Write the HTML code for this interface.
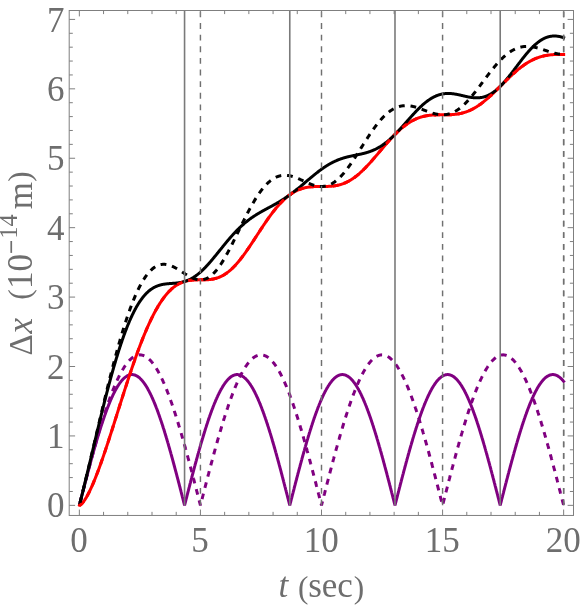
<!DOCTYPE html>
<html><head><meta charset="utf-8"><title>plot</title>
<style>
html,body{margin:0;padding:0;background:#fff;}
body{width:581px;height:606px;overflow:hidden;}
svg{display:block;will-change:transform;}
text{font-family:"Liberation Serif",serif;font-size:35px;fill:#6e6e6e;}
.c{fill:none;stroke-width:3;stroke-linejoin:round;stroke-linecap:butt;}
.d{stroke-dasharray:5.81 5.81;}
.s{stroke-linecap:butt;}
</style></head><body>
<svg width="581" height="606" viewBox="0 0 581 606">
<rect width="581" height="606" fill="#fff"/>
<defs><clipPath id="cp"><rect x="69.2" y="10.5" width="504.3" height="504.95000000000005"/></clipPath></defs>
<g clip-path="url(#cp)">
<path class="c s" stroke="#800080" style="stroke-linejoin:bevel" d="M79.35,505.35 L79.65,504.17 L79.96,502.99 L80.26,501.80 L80.56,500.62 L80.86,499.44 L81.17,498.26 L81.47,497.08 L81.77,495.90 L82.07,494.72 L82.38,493.55 L82.68,492.37 L82.98,491.20 L83.28,490.02 L83.59,488.85 L83.89,487.68 L84.19,486.51 L84.50,485.34 L84.80,484.17 L85.10,483.00 L85.40,481.84 L85.71,480.68 L86.01,479.52 L86.31,478.36 L86.61,477.21 L86.92,476.05 L87.22,474.90 L87.52,473.76 L87.83,472.61 L88.13,471.47 L88.43,470.33 L88.73,469.19 L89.04,468.06 L89.34,466.92 L89.64,465.80 L89.94,464.67 L90.25,463.55 L90.55,462.43 L90.85,461.32 L91.15,460.21 L91.46,459.10 L91.76,457.99 L92.06,456.89 L92.37,455.80 L92.67,454.71 L92.97,453.62 L93.27,452.54 L93.58,451.46 L93.88,450.38 L94.18,449.31 L94.48,448.25 L94.79,447.19 L95.09,446.13 L95.39,445.08 L95.70,444.03 L96.00,442.99 L96.30,441.95 L96.60,440.92 L96.91,439.90 L97.21,438.88 L97.51,437.86 L97.81,436.85 L98.12,435.85 L98.42,434.85 L98.72,433.86 L99.02,432.87 L99.33,431.89 L99.63,430.92 L99.93,429.95 L100.24,428.98 L100.54,428.03 L100.84,427.08 L101.14,426.13 L101.45,425.20 L101.75,424.27 L102.05,423.34 L102.35,422.43 L102.66,421.52 L102.96,420.61 L103.26,419.72 L103.56,418.83 L103.87,417.94 L104.17,417.07 L104.47,416.20 L104.78,415.34 L105.08,414.48 L105.38,413.64 L105.68,412.80 L105.99,411.97 L106.29,411.14 L106.59,410.33 L106.89,409.52 L107.20,408.72 L107.50,407.93 L107.80,407.14 L108.11,406.37 L108.41,405.60 L108.71,404.84 L109.01,404.09 L109.32,403.34 L109.62,402.61 L109.92,401.88 L110.22,401.16 L110.53,400.45 L110.83,399.75 L111.13,399.06 L111.43,398.37 L111.74,397.70 L112.04,397.03 L112.34,396.37 L112.65,395.73 L112.95,395.09 L113.25,394.46 L113.55,393.83 L113.86,393.22 L114.16,392.62 L114.46,392.02 L114.76,391.44 L115.07,390.86 L115.37,390.30 L115.67,389.74 L115.98,389.19 L116.28,388.65 L116.58,388.12 L116.88,387.61 L117.19,387.10 L117.49,386.60 L117.79,386.11 L118.09,385.63 L118.40,385.16 L118.70,384.69 L119.00,384.24 L119.30,383.80 L119.61,383.37 L119.91,382.95 L120.21,382.54 L120.52,382.14 L120.82,381.75 L121.12,381.37 L121.42,381.00 L121.73,380.64 L122.03,380.29 L122.33,379.95 L122.63,379.62 L122.94,379.30 L123.24,378.99 L123.54,378.69 L123.85,378.40 L124.15,378.12 L124.45,377.85 L124.75,377.60 L125.06,377.35 L125.36,377.11 L125.66,376.89 L125.96,376.67 L126.27,376.47 L126.57,376.27 L126.87,376.09 L127.17,375.91 L127.48,375.75 L127.78,375.60 L128.08,375.46 L128.39,375.32 L128.69,375.20 L128.99,375.09 L129.29,375.00 L129.60,374.91 L129.90,374.83 L130.20,374.76 L130.50,374.70 L130.81,374.66 L131.11,374.62 L131.41,374.60 L131.71,374.59 L132.02,374.58 L132.32,374.59 L132.62,374.61 L132.93,374.64 L133.23,374.68 L133.53,374.73 L133.83,374.79 L134.14,374.86 L134.44,374.94 L134.74,375.03 L135.04,375.14 L135.35,375.25 L135.65,375.38 L135.95,375.51 L136.26,375.66 L136.56,375.81 L136.86,375.98 L137.16,376.16 L137.47,376.35 L137.77,376.55 L138.07,376.76 L138.37,376.98 L138.68,377.21 L138.98,377.45 L139.28,377.70 L139.58,377.96 L139.89,378.23 L140.19,378.51 L140.49,378.81 L140.80,379.11 L141.10,379.42 L141.40,379.75 L141.70,380.08 L142.01,380.42 L142.31,380.78 L142.61,381.14 L142.91,381.52 L143.22,381.90 L143.52,382.30 L143.82,382.70 L144.13,383.12 L144.43,383.54 L144.73,383.98 L145.03,384.42 L145.34,384.88 L145.64,385.34 L145.94,385.82 L146.24,386.30 L146.55,386.80 L146.85,387.30 L147.15,387.81 L147.45,388.33 L147.76,388.87 L148.06,389.41 L148.36,389.96 L148.67,390.52 L148.97,391.09 L149.27,391.67 L149.57,392.26 L149.88,392.86 L150.18,393.46 L150.48,394.08 L150.78,394.71 L151.09,395.34 L151.39,395.98 L151.69,396.64 L152.00,397.30 L152.30,397.97 L152.60,398.65 L152.90,399.33 L153.21,400.03 L153.51,400.74 L153.81,401.45 L154.11,402.17 L154.42,402.90 L154.72,403.64 L155.02,404.39 L155.32,405.14 L155.63,405.91 L155.93,406.68 L156.23,407.46 L156.54,408.24 L156.84,409.04 L157.14,409.84 L157.44,410.65 L157.75,411.47 L158.05,412.30 L158.35,413.13 L158.65,413.98 L158.96,414.83 L159.26,415.68 L159.56,416.55 L159.86,417.42 L160.17,418.30 L160.47,419.18 L160.77,420.07 L161.08,420.97 L161.38,421.88 L161.68,422.79 L161.98,423.71 L162.29,424.64 L162.59,425.57 L162.89,426.51 L163.19,427.46 L163.50,428.41 L163.80,429.37 L164.10,430.33 L164.41,431.30 L164.71,432.28 L165.01,433.27 L165.31,434.25 L165.62,435.25 L165.92,436.25 L166.22,437.26 L166.52,438.27 L166.83,439.28 L167.13,440.31 L167.43,441.34 L167.73,442.37 L168.04,443.41 L168.34,444.45 L168.64,445.50 L168.95,446.55 L169.25,447.61 L169.55,448.67 L169.85,449.74 L170.16,450.81 L170.46,451.89 L170.76,452.97 L171.06,454.05 L171.37,455.14 L171.67,456.24 L171.97,457.33 L172.28,458.44 L172.58,459.54 L172.88,460.65 L173.18,461.76 L173.49,462.88 L173.79,464.00 L174.09,465.12 L174.39,466.25 L174.70,467.38 L175.00,468.51 L175.30,469.64 L175.60,470.78 L175.91,471.92 L176.21,473.07 L176.51,474.21 L176.82,475.36 L177.12,476.51 L177.42,477.67 L177.72,478.82 L178.03,479.98 L178.33,481.14 L178.63,482.31 L178.93,483.47 L179.24,484.64 L179.54,485.80 L179.84,486.97 L180.14,488.14 L180.45,489.32 L180.75,490.49 L181.05,491.67 L181.36,492.84 L181.66,494.02 L181.96,495.20 L182.26,496.37 L182.57,497.55 L182.87,498.73 L183.17,499.91 L183.47,501.10 L183.78,502.28 L184.08,503.46 L184.38,504.64 L184.56,505.35 L184.69,504.88 L184.99,503.70 L185.29,502.51 L185.59,501.33 L185.90,500.15 L186.20,498.97 L186.50,497.79 L186.80,496.61 L187.11,495.43 L187.41,494.25 L187.71,493.08 L188.01,491.90 L188.32,490.73 L188.62,489.55 L188.92,488.38 L189.23,487.21 L189.53,486.04 L189.83,484.87 L190.13,483.70 L190.44,482.54 L190.74,481.38 L191.04,480.22 L191.34,479.06 L191.65,477.90 L191.95,476.75 L192.25,475.59 L192.56,474.44 L192.86,473.30 L193.16,472.15 L193.46,471.01 L193.77,469.87 L194.07,468.74 L194.37,467.60 L194.67,466.47 L194.98,465.35 L195.28,464.22 L195.58,463.10 L195.88,461.98 L196.19,460.87 L196.49,459.76 L196.79,458.66 L197.10,457.55 L197.40,456.46 L197.70,455.36 L198.00,454.27 L198.31,453.19 L198.61,452.10 L198.91,451.03 L199.21,449.95 L199.52,448.89 L199.82,447.82 L200.12,446.76 L200.43,445.71 L200.73,444.66 L201.03,443.62 L201.33,442.58 L201.64,441.54 L201.94,440.51 L202.24,439.49 L202.54,438.47 L202.85,437.46 L203.15,436.45 L203.45,435.45 L203.75,434.45 L204.06,433.46 L204.36,432.48 L204.66,431.50 L204.97,430.53 L205.27,429.56 L205.57,428.60 L205.87,427.65 L206.18,426.70 L206.48,425.76 L206.78,424.82 L207.08,423.90 L207.39,422.98 L207.69,422.06 L207.99,421.15 L208.29,420.25 L208.60,419.36 L208.90,418.47 L209.20,417.59 L209.51,416.72 L209.81,415.85 L210.11,415.00 L210.41,414.15 L210.72,413.30 L211.02,412.47 L211.32,411.64 L211.62,410.82 L211.93,410.00 L212.23,409.20 L212.53,408.40 L212.84,407.61 L213.14,406.83 L213.44,406.06 L213.74,405.29 L214.05,404.54 L214.35,403.79 L214.65,403.05 L214.95,402.32 L215.26,401.59 L215.56,400.88 L215.86,400.17 L216.16,399.47 L216.47,398.78 L216.77,398.10 L217.07,397.43 L217.38,396.77 L217.68,396.11 L217.98,395.47 L218.28,394.83 L218.59,394.21 L218.89,393.59 L219.19,392.98 L219.49,392.38 L219.80,391.79 L220.10,391.21 L220.40,390.63 L220.71,390.07 L221.01,389.52 L221.31,388.97 L221.61,388.44 L221.92,387.92 L222.22,387.40 L222.52,386.90 L222.82,386.40 L223.13,385.91 L223.43,385.44 L223.73,384.97 L224.03,384.51 L224.34,384.07 L224.64,383.63 L224.94,383.20 L225.25,382.79 L225.55,382.38 L225.85,381.98 L226.15,381.59 L226.46,381.22 L226.76,380.85 L227.06,380.49 L227.36,380.15 L227.67,379.81 L227.97,379.49 L228.27,379.17 L228.57,378.87 L228.88,378.57 L229.18,378.29 L229.48,378.01 L229.79,377.75 L230.09,377.50 L230.39,377.25 L230.69,377.02 L231.00,376.80 L231.30,376.59 L231.60,376.39 L231.90,376.20 L232.21,376.02 L232.51,375.85 L232.81,375.69 L233.12,375.54 L233.42,375.40 L233.72,375.28 L234.02,375.16 L234.33,375.05 L234.63,374.96 L234.93,374.87 L235.23,374.80 L235.54,374.74 L235.84,374.69 L236.14,374.64 L236.44,374.61 L236.75,374.59 L237.05,374.58 L237.35,374.58 L237.66,374.60 L237.96,374.62 L238.26,374.65 L238.56,374.69 L238.87,374.75 L239.17,374.81 L239.47,374.89 L239.77,374.98 L240.08,375.07 L240.38,375.18 L240.68,375.30 L240.99,375.43 L241.29,375.57 L241.59,375.72 L241.89,375.88 L242.20,376.05 L242.50,376.23 L242.80,376.43 L243.10,376.63 L243.41,376.84 L243.71,377.07 L244.01,377.30 L244.31,377.55 L244.62,377.80 L244.92,378.07 L245.22,378.34 L245.53,378.63 L245.83,378.93 L246.13,379.23 L246.43,379.55 L246.74,379.88 L247.04,380.22 L247.34,380.57 L247.64,380.92 L247.95,381.29 L248.25,381.67 L248.55,382.06 L248.85,382.46 L249.16,382.87 L249.46,383.29 L249.76,383.72 L250.07,384.16 L250.37,384.60 L250.67,385.06 L250.97,385.53 L251.28,386.01 L251.58,386.50 L251.88,387.00 L252.18,387.50 L252.49,388.02 L252.79,388.55 L253.09,389.08 L253.40,389.63 L253.70,390.18 L254.00,390.75 L254.30,391.32 L254.61,391.91 L254.91,392.50 L255.21,393.10 L255.51,393.71 L255.82,394.33 L256.12,394.96 L256.42,395.60 L256.72,396.24 L257.03,396.90 L257.33,397.57 L257.63,398.24 L257.94,398.92 L258.24,399.61 L258.54,400.31 L258.84,401.02 L259.15,401.74 L259.45,402.46 L259.75,403.20 L260.05,403.94 L260.36,404.69 L260.66,405.45 L260.96,406.21 L261.27,406.99 L261.57,407.77 L261.87,408.56 L262.17,409.36 L262.48,410.17 L262.78,410.98 L263.08,411.80 L263.38,412.63 L263.69,413.47 L263.99,414.31 L264.29,415.17 L264.59,416.03 L264.90,416.89 L265.20,417.77 L265.50,418.65 L265.81,419.54 L266.11,420.43 L266.41,421.33 L266.71,422.24 L267.02,423.16 L267.32,424.08 L267.62,425.01 L267.92,425.95 L268.23,426.89 L268.53,427.84 L268.83,428.79 L269.14,429.75 L269.44,430.72 L269.74,431.70 L270.04,432.67 L270.35,433.66 L270.65,434.65 L270.95,435.65 L271.25,436.65 L271.56,437.66 L271.86,438.67 L272.16,439.69 L272.46,440.72 L272.77,441.75 L273.07,442.78 L273.37,443.82 L273.68,444.87 L273.98,445.92 L274.28,446.97 L274.58,448.03 L274.89,449.10 L275.19,450.17 L275.49,451.24 L275.79,452.32 L276.10,453.40 L276.40,454.49 L276.70,455.58 L277.00,456.68 L277.31,457.77 L277.61,458.88 L277.91,459.98 L278.22,461.09 L278.52,462.21 L278.82,463.33 L279.12,464.45 L279.43,465.57 L279.73,466.70 L280.03,467.83 L280.33,468.96 L280.64,470.10 L280.94,471.24 L281.24,472.38 L281.55,473.53 L281.85,474.67 L282.15,475.82 L282.45,476.98 L282.76,478.13 L283.06,479.29 L283.36,480.45 L283.66,481.61 L283.97,482.77 L284.27,483.94 L284.57,485.10 L284.87,486.27 L285.18,487.44 L285.48,488.61 L285.78,489.79 L286.09,490.96 L286.39,492.14 L286.69,493.31 L286.99,494.49 L287.30,495.67 L287.60,496.85 L287.90,498.03 L288.20,499.21 L288.51,500.39 L288.81,501.57 L289.11,502.75 L289.42,503.93 L289.72,505.11 L289.78,505.35 L290.02,504.40 L290.32,503.22 L290.63,502.04 L290.93,500.86 L291.23,499.68 L291.53,498.50 L291.84,497.32 L292.14,496.14 L292.44,494.96 L292.74,493.78 L293.05,492.61 L293.35,491.43 L293.65,490.26 L293.96,489.08 L294.26,487.91 L294.56,486.74 L294.86,485.57 L295.17,484.40 L295.47,483.24 L295.77,482.07 L296.07,480.91 L296.38,479.75 L296.68,478.59 L296.98,477.44 L297.28,476.28 L297.59,475.13 L297.89,473.98 L298.19,472.84 L298.50,471.70 L298.80,470.55 L299.10,469.42 L299.40,468.28 L299.71,467.15 L300.01,466.02 L300.31,464.90 L300.61,463.77 L300.92,462.65 L301.22,461.54 L301.52,460.43 L301.83,459.32 L302.13,458.21 L302.43,457.11 L302.73,456.02 L303.04,454.93 L303.34,453.84 L303.64,452.75 L303.94,451.67 L304.25,450.60 L304.55,449.53 L304.85,448.46 L305.15,447.40 L305.46,446.34 L305.76,445.29 L306.06,444.24 L306.37,443.20 L306.67,442.16 L306.97,441.13 L307.27,440.10 L307.58,439.08 L307.88,438.06 L308.18,437.05 L308.48,436.05 L308.79,435.05 L309.09,434.06 L309.39,433.07 L309.70,432.09 L310.00,431.11 L310.30,430.14 L310.60,429.18 L310.91,428.22 L311.21,427.27 L311.51,426.32 L311.81,425.38 L312.12,424.45 L312.42,423.53 L312.72,422.61 L313.02,421.70 L313.33,420.79 L313.63,419.89 L313.93,419.00 L314.24,418.12 L314.54,417.24 L314.84,416.37 L315.14,415.51 L315.45,414.65 L315.75,413.81 L316.05,412.97 L316.35,412.13 L316.66,411.31 L316.96,410.49 L317.26,409.68 L317.57,408.88 L317.87,408.09 L318.17,407.30 L318.47,406.52 L318.78,405.75 L319.08,404.99 L319.38,404.24 L319.68,403.49 L319.99,402.75 L320.29,402.03 L320.59,401.31 L320.89,400.59 L321.20,399.89 L321.50,399.20 L321.80,398.51 L322.11,397.83 L322.41,397.17 L322.71,396.51 L323.01,395.85 L323.32,395.21 L323.62,394.58 L323.92,393.96 L324.22,393.34 L324.53,392.74 L324.83,392.14 L325.13,391.55 L325.43,390.98 L325.74,390.41 L326.04,389.85 L326.34,389.30 L326.65,388.76 L326.95,388.23 L327.25,387.71 L327.55,387.20 L327.86,386.70 L328.16,386.20 L328.46,385.72 L328.76,385.25 L329.07,384.79 L329.37,384.33 L329.67,383.89 L329.98,383.46 L330.28,383.03 L330.58,382.62 L330.88,382.22 L331.19,381.83 L331.49,381.44 L331.79,381.07 L332.09,380.71 L332.40,380.36 L332.70,380.01 L333.00,379.68 L333.30,379.36 L333.61,379.05 L333.91,378.75 L334.21,378.46 L334.52,378.18 L334.82,377.91 L335.12,377.65 L335.42,377.40 L335.73,377.16 L336.03,376.93 L336.33,376.71 L336.63,376.51 L336.94,376.31 L337.24,376.12 L337.54,375.95 L337.85,375.78 L338.15,375.63 L338.45,375.48 L338.75,375.35 L339.06,375.23 L339.36,375.12 L339.66,375.01 L339.96,374.92 L340.27,374.84 L340.57,374.77 L340.87,374.72 L341.17,374.67 L341.48,374.63 L341.78,374.60 L342.08,374.59 L342.39,374.58 L342.69,374.59 L342.99,374.60 L343.29,374.63 L343.60,374.67 L343.90,374.72 L344.20,374.77 L344.50,374.84 L344.81,374.92 L345.11,375.01 L345.41,375.12 L345.72,375.23 L346.02,375.35 L346.32,375.48 L346.62,375.63 L346.93,375.78 L347.23,375.95 L347.53,376.12 L347.83,376.31 L348.14,376.51 L348.44,376.71 L348.74,376.93 L349.04,377.16 L349.35,377.40 L349.65,377.65 L349.95,377.91 L350.26,378.18 L350.56,378.46 L350.86,378.75 L351.16,379.05 L351.47,379.36 L351.77,379.68 L352.07,380.01 L352.37,380.36 L352.68,380.71 L352.98,381.07 L353.28,381.44 L353.58,381.83 L353.89,382.22 L354.19,382.62 L354.49,383.03 L354.80,383.46 L355.10,383.89 L355.40,384.33 L355.70,384.79 L356.01,385.25 L356.31,385.72 L356.61,386.20 L356.91,386.70 L357.22,387.20 L357.52,387.71 L357.82,388.23 L358.13,388.76 L358.43,389.30 L358.73,389.85 L359.03,390.41 L359.34,390.98 L359.64,391.55 L359.94,392.14 L360.24,392.74 L360.55,393.34 L360.85,393.96 L361.15,394.58 L361.45,395.21 L361.76,395.85 L362.06,396.51 L362.36,397.17 L362.67,397.83 L362.97,398.51 L363.27,399.20 L363.57,399.89 L363.88,400.59 L364.18,401.31 L364.48,402.03 L364.78,402.75 L365.09,403.49 L365.39,404.24 L365.69,404.99 L366.00,405.75 L366.30,406.52 L366.60,407.30 L366.90,408.09 L367.21,408.88 L367.51,409.68 L367.81,410.49 L368.11,411.31 L368.42,412.13 L368.72,412.97 L369.02,413.81 L369.32,414.65 L369.63,415.51 L369.93,416.37 L370.23,417.24 L370.54,418.12 L370.84,419.00 L371.14,419.89 L371.44,420.79 L371.75,421.70 L372.05,422.61 L372.35,423.53 L372.65,424.45 L372.96,425.38 L373.26,426.32 L373.56,427.27 L373.86,428.22 L374.17,429.18 L374.47,430.14 L374.77,431.11 L375.08,432.09 L375.38,433.07 L375.68,434.06 L375.98,435.05 L376.29,436.05 L376.59,437.05 L376.89,438.06 L377.19,439.08 L377.50,440.10 L377.80,441.13 L378.10,442.16 L378.41,443.20 L378.71,444.24 L379.01,445.29 L379.31,446.34 L379.62,447.40 L379.92,448.46 L380.22,449.53 L380.52,450.60 L380.83,451.67 L381.13,452.75 L381.43,453.84 L381.73,454.93 L382.04,456.02 L382.34,457.11 L382.64,458.21 L382.95,459.32 L383.25,460.43 L383.55,461.54 L383.85,462.65 L384.16,463.77 L384.46,464.90 L384.76,466.02 L385.06,467.15 L385.37,468.28 L385.67,469.42 L385.97,470.55 L386.28,471.70 L386.58,472.84 L386.88,473.98 L387.18,475.13 L387.49,476.28 L387.79,477.44 L388.09,478.59 L388.39,479.75 L388.70,480.91 L389.00,482.07 L389.30,483.24 L389.60,484.40 L389.91,485.57 L390.21,486.74 L390.51,487.91 L390.82,489.08 L391.12,490.26 L391.42,491.43 L391.72,492.61 L392.03,493.78 L392.33,494.96 L392.63,496.14 L392.93,497.32 L393.24,498.50 L393.54,499.68 L393.84,500.86 L394.14,502.04 L394.45,503.22 L394.75,504.40 L394.99,505.35 L395.05,505.11 L395.36,503.93 L395.66,502.75 L395.96,501.57 L396.26,500.39 L396.57,499.21 L396.87,498.03 L397.17,496.85 L397.47,495.67 L397.78,494.49 L398.08,493.31 L398.38,492.14 L398.69,490.96 L398.99,489.79 L399.29,488.61 L399.59,487.44 L399.90,486.27 L400.20,485.10 L400.50,483.94 L400.80,482.77 L401.11,481.61 L401.41,480.45 L401.71,479.29 L402.01,478.13 L402.32,476.98 L402.62,475.82 L402.92,474.67 L403.23,473.53 L403.53,472.38 L403.83,471.24 L404.13,470.10 L404.44,468.96 L404.74,467.83 L405.04,466.70 L405.34,465.57 L405.65,464.45 L405.95,463.33 L406.25,462.21 L406.56,461.09 L406.86,459.98 L407.16,458.88 L407.46,457.77 L407.77,456.68 L408.07,455.58 L408.37,454.49 L408.67,453.40 L408.98,452.32 L409.28,451.24 L409.58,450.17 L409.88,449.10 L410.19,448.03 L410.49,446.97 L410.79,445.92 L411.10,444.87 L411.40,443.82 L411.70,442.78 L412.00,441.75 L412.31,440.72 L412.61,439.69 L412.91,438.67 L413.21,437.66 L413.52,436.65 L413.82,435.65 L414.12,434.65 L414.43,433.66 L414.73,432.67 L415.03,431.70 L415.33,430.72 L415.64,429.75 L415.94,428.79 L416.24,427.84 L416.54,426.89 L416.85,425.95 L417.15,425.01 L417.45,424.08 L417.75,423.16 L418.06,422.24 L418.36,421.33 L418.66,420.43 L418.97,419.54 L419.27,418.65 L419.57,417.77 L419.87,416.89 L420.18,416.03 L420.48,415.17 L420.78,414.31 L421.08,413.47 L421.39,412.63 L421.69,411.80 L421.99,410.98 L422.29,410.17 L422.60,409.36 L422.90,408.56 L423.20,407.77 L423.51,406.99 L423.81,406.21 L424.11,405.45 L424.41,404.69 L424.72,403.94 L425.02,403.20 L425.32,402.46 L425.62,401.74 L425.93,401.02 L426.23,400.31 L426.53,399.61 L426.84,398.92 L427.14,398.24 L427.44,397.57 L427.74,396.90 L428.05,396.24 L428.35,395.60 L428.65,394.96 L428.95,394.33 L429.26,393.71 L429.56,393.10 L429.86,392.50 L430.16,391.91 L430.47,391.32 L430.77,390.75 L431.07,390.18 L431.38,389.63 L431.68,389.08 L431.98,388.55 L432.28,388.02 L432.59,387.50 L432.89,387.00 L433.19,386.50 L433.49,386.01 L433.80,385.53 L434.10,385.06 L434.40,384.60 L434.71,384.16 L435.01,383.72 L435.31,383.29 L435.61,382.87 L435.92,382.46 L436.22,382.06 L436.52,381.67 L436.82,381.29 L437.13,380.92 L437.43,380.57 L437.73,380.22 L438.03,379.88 L438.34,379.55 L438.64,379.23 L438.94,378.93 L439.25,378.63 L439.55,378.34 L439.85,378.07 L440.15,377.80 L440.46,377.55 L440.76,377.30 L441.06,377.07 L441.36,376.84 L441.67,376.63 L441.97,376.43 L442.27,376.23 L442.58,376.05 L442.88,375.88 L443.18,375.72 L443.48,375.57 L443.79,375.43 L444.09,375.30 L444.39,375.18 L444.69,375.07 L445.00,374.98 L445.30,374.89 L445.60,374.81 L445.90,374.75 L446.21,374.69 L446.51,374.65 L446.81,374.62 L447.12,374.60 L447.42,374.58 L447.72,374.58 L448.02,374.59 L448.33,374.61 L448.63,374.64 L448.93,374.69 L449.23,374.74 L449.54,374.80 L449.84,374.87 L450.14,374.96 L450.44,375.05 L450.75,375.16 L451.05,375.28 L451.35,375.40 L451.66,375.54 L451.96,375.69 L452.26,375.85 L452.56,376.02 L452.87,376.20 L453.17,376.39 L453.47,376.59 L453.77,376.80 L454.08,377.02 L454.38,377.25 L454.68,377.50 L454.99,377.75 L455.29,378.01 L455.59,378.29 L455.89,378.57 L456.20,378.87 L456.50,379.17 L456.80,379.49 L457.10,379.81 L457.41,380.15 L457.71,380.49 L458.01,380.85 L458.31,381.22 L458.62,381.59 L458.92,381.98 L459.22,382.38 L459.53,382.79 L459.83,383.20 L460.13,383.63 L460.43,384.07 L460.74,384.51 L461.04,384.97 L461.34,385.44 L461.64,385.91 L461.95,386.40 L462.25,386.90 L462.55,387.40 L462.86,387.92 L463.16,388.44 L463.46,388.97 L463.76,389.52 L464.07,390.07 L464.37,390.63 L464.67,391.21 L464.97,391.79 L465.28,392.38 L465.58,392.98 L465.88,393.59 L466.18,394.21 L466.49,394.83 L466.79,395.47 L467.09,396.11 L467.40,396.77 L467.70,397.43 L468.00,398.10 L468.30,398.78 L468.61,399.47 L468.91,400.17 L469.21,400.88 L469.51,401.59 L469.82,402.32 L470.12,403.05 L470.42,403.79 L470.72,404.54 L471.03,405.29 L471.33,406.06 L471.63,406.83 L471.94,407.61 L472.24,408.40 L472.54,409.20 L472.84,410.00 L473.15,410.82 L473.45,411.64 L473.75,412.47 L474.05,413.30 L474.36,414.15 L474.66,415.00 L474.96,415.85 L475.27,416.72 L475.57,417.59 L475.87,418.47 L476.17,419.36 L476.48,420.25 L476.78,421.15 L477.08,422.06 L477.38,422.98 L477.69,423.90 L477.99,424.82 L478.29,425.76 L478.59,426.70 L478.90,427.65 L479.20,428.60 L479.50,429.56 L479.81,430.53 L480.11,431.50 L480.41,432.48 L480.71,433.46 L481.02,434.45 L481.32,435.45 L481.62,436.45 L481.92,437.46 L482.23,438.47 L482.53,439.49 L482.83,440.51 L483.14,441.54 L483.44,442.58 L483.74,443.62 L484.04,444.66 L484.35,445.71 L484.65,446.76 L484.95,447.82 L485.25,448.89 L485.56,449.95 L485.86,451.03 L486.16,452.10 L486.46,453.19 L486.77,454.27 L487.07,455.36 L487.37,456.46 L487.68,457.55 L487.98,458.66 L488.28,459.76 L488.58,460.87 L488.89,461.98 L489.19,463.10 L489.49,464.22 L489.79,465.35 L490.10,466.47 L490.40,467.60 L490.70,468.74 L491.00,469.87 L491.31,471.01 L491.61,472.15 L491.91,473.30 L492.22,474.44 L492.52,475.59 L492.82,476.75 L493.12,477.90 L493.43,479.06 L493.73,480.22 L494.03,481.38 L494.33,482.54 L494.64,483.70 L494.94,484.87 L495.24,486.04 L495.55,487.21 L495.85,488.38 L496.15,489.55 L496.45,490.73 L496.76,491.90 L497.06,493.08 L497.36,494.25 L497.66,495.43 L497.97,496.61 L498.27,497.79 L498.57,498.97 L498.87,500.15 L499.18,501.33 L499.48,502.51 L499.78,503.70 L500.09,504.88 L500.21,505.35 L500.39,504.64 L500.69,503.46 L500.99,502.28 L501.30,501.10 L501.60,499.91 L501.90,498.73 L502.20,497.55 L502.51,496.37 L502.81,495.20 L503.11,494.02 L503.42,492.84 L503.72,491.67 L504.02,490.49 L504.32,489.32 L504.63,488.14 L504.93,486.97 L505.23,485.80 L505.53,484.64 L505.84,483.47 L506.14,482.31 L506.44,481.14 L506.74,479.98 L507.05,478.82 L507.35,477.67 L507.65,476.51 L507.96,475.36 L508.26,474.21 L508.56,473.07 L508.86,471.92 L509.17,470.78 L509.47,469.64 L509.77,468.51 L510.07,467.38 L510.38,466.25 L510.68,465.12 L510.98,464.00 L511.29,462.88 L511.59,461.76 L511.89,460.65 L512.19,459.54 L512.50,458.44 L512.80,457.33 L513.10,456.24 L513.40,455.14 L513.71,454.05 L514.01,452.97 L514.31,451.89 L514.61,450.81 L514.92,449.74 L515.22,448.67 L515.52,447.61 L515.83,446.55 L516.13,445.50 L516.43,444.45 L516.73,443.41 L517.04,442.37 L517.34,441.34 L517.64,440.31 L517.94,439.28 L518.25,438.27 L518.55,437.26 L518.85,436.25 L519.15,435.25 L519.46,434.25 L519.76,433.27 L520.06,432.28 L520.37,431.30 L520.67,430.33 L520.97,429.37 L521.27,428.41 L521.58,427.46 L521.88,426.51 L522.18,425.57 L522.48,424.64 L522.79,423.71 L523.09,422.79 L523.39,421.88 L523.70,420.97 L524.00,420.07 L524.30,419.18 L524.60,418.30 L524.91,417.42 L525.21,416.55 L525.51,415.68 L525.81,414.83 L526.12,413.98 L526.42,413.13 L526.72,412.30 L527.02,411.47 L527.33,410.65 L527.63,409.84 L527.93,409.04 L528.24,408.24 L528.54,407.46 L528.84,406.68 L529.14,405.91 L529.45,405.14 L529.75,404.39 L530.05,403.64 L530.35,402.90 L530.66,402.17 L530.96,401.45 L531.26,400.74 L531.57,400.03 L531.87,399.33 L532.17,398.65 L532.47,397.97 L532.78,397.30 L533.08,396.64 L533.38,395.98 L533.68,395.34 L533.99,394.71 L534.29,394.08 L534.59,393.46 L534.89,392.86 L535.20,392.26 L535.50,391.67 L535.80,391.09 L536.11,390.52 L536.41,389.96 L536.71,389.41 L537.01,388.87 L537.32,388.33 L537.62,387.81 L537.92,387.30 L538.22,386.80 L538.53,386.30 L538.83,385.82 L539.13,385.34 L539.43,384.88 L539.74,384.42 L540.04,383.98 L540.34,383.54 L540.65,383.12 L540.95,382.70 L541.25,382.30 L541.55,381.90 L541.86,381.52 L542.16,381.14 L542.46,380.78 L542.76,380.42 L543.07,380.08 L543.37,379.75 L543.67,379.42 L543.98,379.11 L544.28,378.81 L544.58,378.51 L544.88,378.23 L545.19,377.96 L545.49,377.70 L545.79,377.45 L546.09,377.21 L546.40,376.98 L546.70,376.76 L547.00,376.55 L547.30,376.35 L547.61,376.16 L547.91,375.98 L548.21,375.81 L548.52,375.66 L548.82,375.51 L549.12,375.38 L549.42,375.25 L549.73,375.14 L550.03,375.03 L550.33,374.94 L550.63,374.86 L550.94,374.79 L551.24,374.73 L551.54,374.68 L551.85,374.64 L552.15,374.61 L552.45,374.59 L552.75,374.58 L553.06,374.59 L553.36,374.60 L553.66,374.62 L553.96,374.66 L554.27,374.70 L554.57,374.76 L554.87,374.83 L555.17,374.91 L555.48,375.00 L555.78,375.09 L556.08,375.20 L556.39,375.32 L556.69,375.46 L556.99,375.60 L557.29,375.75 L557.60,375.91 L557.90,376.09 L558.20,376.27 L558.50,376.47 L558.81,376.67 L559.11,376.89 L559.41,377.11 L559.72,377.35 L560.02,377.60 L560.32,377.85 L560.62,378.12 L560.93,378.40 L561.23,378.69 L561.53,378.99 L561.83,379.30 L562.14,379.62 L562.44,379.95 L562.74,380.29 L563.04,380.64 L563.35,381.00 L563.65,381.37 L564.60,382.53"/>
<path class="c d" stroke="#800080" stroke-dasharray="5.8 5.8" stroke-dashoffset="-2.85" style="stroke-dasharray:5.8 5.8;stroke-linejoin:bevel" d="M79.35,505.35 L79.65,504.17 L79.96,502.99 L80.26,501.80 L80.56,500.62 L80.86,499.44 L81.17,498.26 L81.47,497.08 L81.77,495.90 L82.07,494.72 L82.38,493.54 L82.68,492.37 L82.98,491.19 L83.28,490.01 L83.59,488.84 L83.89,487.66 L84.19,486.49 L84.50,485.32 L84.80,484.15 L85.10,482.98 L85.40,481.81 L85.71,480.64 L86.01,479.48 L86.31,478.31 L86.61,477.15 L86.92,475.99 L87.22,474.83 L87.52,473.68 L87.83,472.52 L88.13,471.37 L88.43,470.22 L88.73,469.07 L89.04,467.93 L89.34,466.78 L89.64,465.64 L89.94,464.50 L90.25,463.37 L90.55,462.23 L90.85,461.10 L91.15,459.97 L91.46,458.85 L91.76,457.73 L92.06,456.61 L92.37,455.49 L92.67,454.38 L92.97,453.27 L93.27,452.16 L93.58,451.05 L93.88,449.95 L94.18,448.86 L94.48,447.76 L94.79,446.67 L95.09,445.59 L95.39,444.50 L95.70,443.42 L96.00,442.35 L96.30,441.28 L96.60,440.21 L96.91,439.15 L97.21,438.09 L97.51,437.03 L97.81,435.98 L98.12,434.94 L98.42,433.89 L98.72,432.86 L99.02,431.82 L99.33,430.79 L99.63,429.77 L99.93,428.75 L100.24,427.73 L100.54,426.72 L100.84,425.72 L101.14,424.72 L101.45,423.72 L101.75,422.73 L102.05,421.75 L102.35,420.77 L102.66,419.79 L102.96,418.82 L103.26,417.86 L103.56,416.90 L103.87,415.95 L104.17,415.00 L104.47,414.06 L104.78,413.12 L105.08,412.19 L105.38,411.26 L105.68,410.34 L105.99,409.43 L106.29,408.52 L106.59,407.62 L106.89,406.72 L107.20,405.84 L107.50,404.95 L107.80,404.07 L108.11,403.20 L108.41,402.34 L108.71,401.48 L109.01,400.63 L109.32,399.78 L109.62,398.94 L109.92,398.11 L110.22,397.29 L110.53,396.47 L110.83,395.65 L111.13,394.85 L111.43,394.05 L111.74,393.26 L112.04,392.47 L112.34,391.69 L112.65,390.92 L112.95,390.16 L113.25,389.40 L113.55,388.65 L113.86,387.91 L114.16,387.17 L114.46,386.45 L114.76,385.73 L115.07,385.01 L115.37,384.31 L115.67,383.61 L115.98,382.92 L116.28,382.23 L116.58,381.56 L116.88,380.89 L117.19,380.23 L117.49,379.58 L117.79,378.93 L118.09,378.29 L118.40,377.67 L118.70,377.04 L119.00,376.43 L119.30,375.82 L119.61,375.23 L119.91,374.64 L120.21,374.06 L120.52,373.48 L120.82,372.92 L121.12,372.36 L121.42,371.81 L121.73,371.27 L122.03,370.74 L122.33,370.21 L122.63,369.70 L122.94,369.19 L123.24,368.69 L123.54,368.20 L123.85,367.72 L124.15,367.25 L124.45,366.78 L124.75,366.32 L125.06,365.88 L125.36,365.44 L125.66,365.01 L125.96,364.58 L126.27,364.17 L126.57,363.77 L126.87,363.37 L127.17,362.98 L127.48,362.60 L127.78,362.23 L128.08,361.87 L128.39,361.52 L128.69,361.18 L128.99,360.84 L129.29,360.52 L129.60,360.20 L129.90,359.89 L130.20,359.60 L130.50,359.31 L130.81,359.03 L131.11,358.76 L131.41,358.49 L131.71,358.24 L132.02,358.00 L132.32,357.76 L132.62,357.53 L132.93,357.32 L133.23,357.11 L133.53,356.91 L133.83,356.72 L134.14,356.54 L134.44,356.37 L134.74,356.21 L135.04,356.06 L135.35,355.91 L135.65,355.78 L135.95,355.65 L136.26,355.54 L136.56,355.43 L136.86,355.33 L137.16,355.24 L137.47,355.17 L137.77,355.10 L138.07,355.04 L138.37,354.98 L138.68,354.94 L138.98,354.91 L139.28,354.89 L139.58,354.87 L139.89,354.87 L140.19,354.87 L140.49,354.89 L140.80,354.91 L141.10,354.94 L141.40,354.98 L141.70,355.04 L142.01,355.10 L142.31,355.17 L142.61,355.24 L142.91,355.33 L143.22,355.43 L143.52,355.54 L143.82,355.65 L144.13,355.78 L144.43,355.91 L144.73,356.06 L145.03,356.21 L145.34,356.37 L145.64,356.54 L145.94,356.72 L146.24,356.91 L146.55,357.11 L146.85,357.32 L147.15,357.53 L147.45,357.76 L147.76,358.00 L148.06,358.24 L148.36,358.49 L148.67,358.76 L148.97,359.03 L149.27,359.31 L149.57,359.60 L149.88,359.89 L150.18,360.20 L150.48,360.52 L150.78,360.84 L151.09,361.18 L151.39,361.52 L151.69,361.87 L152.00,362.23 L152.30,362.60 L152.60,362.98 L152.90,363.37 L153.21,363.77 L153.51,364.17 L153.81,364.58 L154.11,365.01 L154.42,365.44 L154.72,365.88 L155.02,366.32 L155.32,366.78 L155.63,367.25 L155.93,367.72 L156.23,368.20 L156.54,368.69 L156.84,369.19 L157.14,369.70 L157.44,370.21 L157.75,370.74 L158.05,371.27 L158.35,371.81 L158.65,372.36 L158.96,372.92 L159.26,373.48 L159.56,374.06 L159.86,374.64 L160.17,375.23 L160.47,375.82 L160.77,376.43 L161.08,377.04 L161.38,377.67 L161.68,378.29 L161.98,378.93 L162.29,379.58 L162.59,380.23 L162.89,380.89 L163.19,381.56 L163.50,382.23 L163.80,382.92 L164.10,383.61 L164.41,384.31 L164.71,385.01 L165.01,385.73 L165.31,386.45 L165.62,387.17 L165.92,387.91 L166.22,388.65 L166.52,389.40 L166.83,390.16 L167.13,390.92 L167.43,391.69 L167.73,392.47 L168.04,393.26 L168.34,394.05 L168.64,394.85 L168.95,395.65 L169.25,396.47 L169.55,397.29 L169.85,398.11 L170.16,398.94 L170.46,399.78 L170.76,400.63 L171.06,401.48 L171.37,402.34 L171.67,403.20 L171.97,404.07 L172.28,404.95 L172.58,405.84 L172.88,406.72 L173.18,407.62 L173.49,408.52 L173.79,409.43 L174.09,410.34 L174.39,411.26 L174.70,412.19 L175.00,413.12 L175.30,414.06 L175.60,415.00 L175.91,415.95 L176.21,416.90 L176.51,417.86 L176.82,418.82 L177.12,419.79 L177.42,420.77 L177.72,421.75 L178.03,422.73 L178.33,423.72 L178.63,424.72 L178.93,425.72 L179.24,426.72 L179.54,427.73 L179.84,428.75 L180.14,429.77 L180.45,430.79 L180.75,431.82 L181.05,432.86 L181.36,433.89 L181.66,434.94 L181.96,435.98 L182.26,437.03 L182.57,438.09 L182.87,439.15 L183.17,440.21 L183.47,441.28 L183.78,442.35 L184.08,443.42 L184.38,444.50 L184.69,445.59 L184.99,446.67 L185.29,447.76 L185.59,448.86 L185.90,449.95 L186.20,451.05 L186.50,452.16 L186.80,453.27 L187.11,454.38 L187.41,455.49 L187.71,456.61 L188.01,457.73 L188.32,458.85 L188.62,459.97 L188.92,461.10 L189.23,462.23 L189.53,463.37 L189.83,464.50 L190.13,465.64 L190.44,466.78 L190.74,467.93 L191.04,469.07 L191.34,470.22 L191.65,471.37 L191.95,472.52 L192.25,473.68 L192.56,474.83 L192.86,475.99 L193.16,477.15 L193.46,478.31 L193.77,479.48 L194.07,480.64 L194.37,481.81 L194.67,482.98 L194.98,484.15 L195.28,485.32 L195.58,486.49 L195.88,487.66 L196.19,488.84 L196.49,490.01 L196.79,491.19 L197.10,492.37 L197.40,493.54 L197.70,494.72 L198.00,495.90 L198.31,497.08 L198.61,498.26 L198.91,499.44 L199.21,500.62 L199.52,501.80 L199.82,502.99 L200.12,504.17 L200.43,505.35 L200.73,504.17 L201.03,502.99 L201.33,501.80 L201.64,500.62 L201.94,499.44 L202.24,498.26 L202.54,497.08 L202.85,495.90 L203.15,494.72 L203.45,493.54 L203.75,492.37 L204.06,491.19 L204.36,490.01 L204.66,488.84 L204.97,487.66 L205.27,486.49 L205.57,485.32 L205.87,484.15 L206.18,482.98 L206.48,481.81 L206.78,480.64 L207.08,479.48 L207.39,478.31 L207.69,477.15 L207.99,475.99 L208.29,474.83 L208.60,473.68 L208.90,472.52 L209.20,471.37 L209.51,470.22 L209.81,469.07 L210.11,467.93 L210.41,466.78 L210.72,465.64 L211.02,464.50 L211.32,463.37 L211.62,462.23 L211.93,461.10 L212.23,459.97 L212.53,458.85 L212.84,457.73 L213.14,456.61 L213.44,455.49 L213.74,454.38 L214.05,453.27 L214.35,452.16 L214.65,451.05 L214.95,449.95 L215.26,448.86 L215.56,447.76 L215.86,446.67 L216.16,445.59 L216.47,444.50 L216.77,443.42 L217.07,442.35 L217.38,441.28 L217.68,440.21 L217.98,439.15 L218.28,438.09 L218.59,437.03 L218.89,435.98 L219.19,434.94 L219.49,433.89 L219.80,432.86 L220.10,431.82 L220.40,430.79 L220.71,429.77 L221.01,428.75 L221.31,427.73 L221.61,426.72 L221.92,425.72 L222.22,424.72 L222.52,423.72 L222.82,422.73 L223.13,421.75 L223.43,420.77 L223.73,419.79 L224.03,418.82 L224.34,417.86 L224.64,416.90 L224.94,415.95 L225.25,415.00 L225.55,414.06 L225.85,413.12 L226.15,412.19 L226.46,411.26 L226.76,410.34 L227.06,409.43 L227.36,408.52 L227.67,407.62 L227.97,406.72 L228.27,405.84 L228.57,404.95 L228.88,404.07 L229.18,403.20 L229.48,402.34 L229.79,401.48 L230.09,400.63 L230.39,399.78 L230.69,398.94 L231.00,398.11 L231.30,397.29 L231.60,396.47 L231.90,395.65 L232.21,394.85 L232.51,394.05 L232.81,393.26 L233.12,392.47 L233.42,391.69 L233.72,390.92 L234.02,390.16 L234.33,389.40 L234.63,388.65 L234.93,387.91 L235.23,387.17 L235.54,386.45 L235.84,385.73 L236.14,385.01 L236.44,384.31 L236.75,383.61 L237.05,382.92 L237.35,382.23 L237.66,381.56 L237.96,380.89 L238.26,380.23 L238.56,379.58 L238.87,378.93 L239.17,378.29 L239.47,377.67 L239.77,377.04 L240.08,376.43 L240.38,375.82 L240.68,375.23 L240.99,374.64 L241.29,374.06 L241.59,373.48 L241.89,372.92 L242.20,372.36 L242.50,371.81 L242.80,371.27 L243.10,370.74 L243.41,370.21 L243.71,369.70 L244.01,369.19 L244.31,368.69 L244.62,368.20 L244.92,367.72 L245.22,367.25 L245.53,366.78 L245.83,366.32 L246.13,365.88 L246.43,365.44 L246.74,365.01 L247.04,364.58 L247.34,364.17 L247.64,363.77 L247.95,363.37 L248.25,362.98 L248.55,362.60 L248.85,362.23 L249.16,361.87 L249.46,361.52 L249.76,361.18 L250.07,360.84 L250.37,360.52 L250.67,360.20 L250.97,359.89 L251.28,359.60 L251.58,359.31 L251.88,359.03 L252.18,358.76 L252.49,358.49 L252.79,358.24 L253.09,358.00 L253.40,357.76 L253.70,357.53 L254.00,357.32 L254.30,357.11 L254.61,356.91 L254.91,356.72 L255.21,356.54 L255.51,356.37 L255.82,356.21 L256.12,356.06 L256.42,355.91 L256.72,355.78 L257.03,355.65 L257.33,355.54 L257.63,355.43 L257.94,355.33 L258.24,355.24 L258.54,355.17 L258.84,355.10 L259.15,355.04 L259.45,354.98 L259.75,354.94 L260.05,354.91 L260.36,354.89 L260.66,354.87 L260.96,354.87 L261.27,354.87 L261.57,354.89 L261.87,354.91 L262.17,354.94 L262.48,354.98 L262.78,355.04 L263.08,355.10 L263.38,355.17 L263.69,355.24 L263.99,355.33 L264.29,355.43 L264.59,355.54 L264.90,355.65 L265.20,355.78 L265.50,355.91 L265.81,356.06 L266.11,356.21 L266.41,356.37 L266.71,356.54 L267.02,356.72 L267.32,356.91 L267.62,357.11 L267.92,357.32 L268.23,357.53 L268.53,357.76 L268.83,358.00 L269.14,358.24 L269.44,358.49 L269.74,358.76 L270.04,359.03 L270.35,359.31 L270.65,359.60 L270.95,359.89 L271.25,360.20 L271.56,360.52 L271.86,360.84 L272.16,361.18 L272.46,361.52 L272.77,361.87 L273.07,362.23 L273.37,362.60 L273.68,362.98 L273.98,363.37 L274.28,363.77 L274.58,364.17 L274.89,364.58 L275.19,365.01 L275.49,365.44 L275.79,365.88 L276.10,366.32 L276.40,366.78 L276.70,367.25 L277.00,367.72 L277.31,368.20 L277.61,368.69 L277.91,369.19 L278.22,369.70 L278.52,370.21 L278.82,370.74 L279.12,371.27 L279.43,371.81 L279.73,372.36 L280.03,372.92 L280.33,373.48 L280.64,374.06 L280.94,374.64 L281.24,375.23 L281.55,375.82 L281.85,376.43 L282.15,377.04 L282.45,377.67 L282.76,378.29 L283.06,378.93 L283.36,379.58 L283.66,380.23 L283.97,380.89 L284.27,381.56 L284.57,382.23 L284.87,382.92 L285.18,383.61 L285.48,384.31 L285.78,385.01 L286.09,385.73 L286.39,386.45 L286.69,387.17 L286.99,387.91 L287.30,388.65 L287.60,389.40 L287.90,390.16 L288.20,390.92 L288.51,391.69 L288.81,392.47 L289.11,393.26 L289.42,394.05 L289.72,394.85 L290.02,395.65 L290.32,396.47 L290.63,397.29 L290.93,398.11 L291.23,398.94 L291.53,399.78 L291.84,400.63 L292.14,401.48 L292.44,402.34 L292.74,403.20 L293.05,404.07 L293.35,404.95 L293.65,405.84 L293.96,406.72 L294.26,407.62 L294.56,408.52 L294.86,409.43 L295.17,410.34 L295.47,411.26 L295.77,412.19 L296.07,413.12 L296.38,414.06 L296.68,415.00 L296.98,415.95 L297.28,416.90 L297.59,417.86 L297.89,418.82 L298.19,419.79 L298.50,420.77 L298.80,421.75 L299.10,422.73 L299.40,423.72 L299.71,424.72 L300.01,425.72 L300.31,426.72 L300.61,427.73 L300.92,428.75 L301.22,429.77 L301.52,430.79 L301.83,431.82 L302.13,432.86 L302.43,433.89 L302.73,434.94 L303.04,435.98 L303.34,437.03 L303.64,438.09 L303.94,439.15 L304.25,440.21 L304.55,441.28 L304.85,442.35 L305.15,443.42 L305.46,444.50 L305.76,445.59 L306.06,446.67 L306.37,447.76 L306.67,448.86 L306.97,449.95 L307.27,451.05 L307.58,452.16 L307.88,453.27 L308.18,454.38 L308.48,455.49 L308.79,456.61 L309.09,457.73 L309.39,458.85 L309.70,459.97 L310.00,461.10 L310.30,462.23 L310.60,463.37 L310.91,464.50 L311.21,465.64 L311.51,466.78 L311.81,467.93 L312.12,469.07 L312.42,470.22 L312.72,471.37 L313.02,472.52 L313.33,473.68 L313.63,474.83 L313.93,475.99 L314.24,477.15 L314.54,478.31 L314.84,479.48 L315.14,480.64 L315.45,481.81 L315.75,482.98 L316.05,484.15 L316.35,485.32 L316.66,486.49 L316.96,487.66 L317.26,488.84 L317.57,490.01 L317.87,491.19 L318.17,492.37 L318.47,493.54 L318.78,494.72 L319.08,495.90 L319.38,497.08 L319.68,498.26 L319.99,499.44 L320.29,500.62 L320.59,501.80 L320.89,502.99 L321.20,504.17 L321.50,505.35 L321.80,504.17 L322.11,502.99 L322.41,501.80 L322.71,500.62 L323.01,499.44 L323.32,498.26 L323.62,497.08 L323.92,495.90 L324.22,494.72 L324.53,493.54 L324.83,492.37 L325.13,491.19 L325.43,490.01 L325.74,488.84 L326.04,487.66 L326.34,486.49 L326.65,485.32 L326.95,484.15 L327.25,482.98 L327.55,481.81 L327.86,480.64 L328.16,479.48 L328.46,478.31 L328.76,477.15 L329.07,475.99 L329.37,474.83 L329.67,473.68 L329.98,472.52 L330.28,471.37 L330.58,470.22 L330.88,469.07 L331.19,467.93 L331.49,466.78 L331.79,465.64 L332.09,464.50 L332.40,463.37 L332.70,462.23 L333.00,461.10 L333.30,459.97 L333.61,458.85 L333.91,457.73 L334.21,456.61 L334.52,455.49 L334.82,454.38 L335.12,453.27 L335.42,452.16 L335.73,451.05 L336.03,449.95 L336.33,448.86 L336.63,447.76 L336.94,446.67 L337.24,445.59 L337.54,444.50 L337.85,443.42 L338.15,442.35 L338.45,441.28 L338.75,440.21 L339.06,439.15 L339.36,438.09 L339.66,437.03 L339.96,435.98 L340.27,434.94 L340.57,433.89 L340.87,432.86 L341.17,431.82 L341.48,430.79 L341.78,429.77 L342.08,428.75 L342.39,427.73 L342.69,426.72 L342.99,425.72 L343.29,424.72 L343.60,423.72 L343.90,422.73 L344.20,421.75 L344.50,420.77 L344.81,419.79 L345.11,418.82 L345.41,417.86 L345.72,416.90 L346.02,415.95 L346.32,415.00 L346.62,414.06 L346.93,413.12 L347.23,412.19 L347.53,411.26 L347.83,410.34 L348.14,409.43 L348.44,408.52 L348.74,407.62 L349.04,406.72 L349.35,405.84 L349.65,404.95 L349.95,404.07 L350.26,403.20 L350.56,402.34 L350.86,401.48 L351.16,400.63 L351.47,399.78 L351.77,398.94 L352.07,398.11 L352.37,397.29 L352.68,396.47 L352.98,395.65 L353.28,394.85 L353.58,394.05 L353.89,393.26 L354.19,392.47 L354.49,391.69 L354.80,390.92 L355.10,390.16 L355.40,389.40 L355.70,388.65 L356.01,387.91 L356.31,387.17 L356.61,386.45 L356.91,385.73 L357.22,385.01 L357.52,384.31 L357.82,383.61 L358.13,382.92 L358.43,382.23 L358.73,381.56 L359.03,380.89 L359.34,380.23 L359.64,379.58 L359.94,378.93 L360.24,378.29 L360.55,377.67 L360.85,377.04 L361.15,376.43 L361.45,375.82 L361.76,375.23 L362.06,374.64 L362.36,374.06 L362.67,373.48 L362.97,372.92 L363.27,372.36 L363.57,371.81 L363.88,371.27 L364.18,370.74 L364.48,370.21 L364.78,369.70 L365.09,369.19 L365.39,368.69 L365.69,368.20 L366.00,367.72 L366.30,367.25 L366.60,366.78 L366.90,366.32 L367.21,365.88 L367.51,365.44 L367.81,365.01 L368.11,364.58 L368.42,364.17 L368.72,363.77 L369.02,363.37 L369.32,362.98 L369.63,362.60 L369.93,362.23 L370.23,361.87 L370.54,361.52 L370.84,361.18 L371.14,360.84 L371.44,360.52 L371.75,360.20 L372.05,359.89 L372.35,359.60 L372.65,359.31 L372.96,359.03 L373.26,358.76 L373.56,358.49 L373.86,358.24 L374.17,358.00 L374.47,357.76 L374.77,357.53 L375.08,357.32 L375.38,357.11 L375.68,356.91 L375.98,356.72 L376.29,356.54 L376.59,356.37 L376.89,356.21 L377.19,356.06 L377.50,355.91 L377.80,355.78 L378.10,355.65 L378.41,355.54 L378.71,355.43 L379.01,355.33 L379.31,355.24 L379.62,355.17 L379.92,355.10 L380.22,355.04 L380.52,354.98 L380.83,354.94 L381.13,354.91 L381.43,354.89 L381.73,354.87 L382.04,354.87 L382.34,354.87 L382.64,354.89 L382.95,354.91 L383.25,354.94 L383.55,354.98 L383.85,355.04 L384.16,355.10 L384.46,355.17 L384.76,355.24 L385.06,355.33 L385.37,355.43 L385.67,355.54 L385.97,355.65 L386.28,355.78 L386.58,355.91 L386.88,356.06 L387.18,356.21 L387.49,356.37 L387.79,356.54 L388.09,356.72 L388.39,356.91 L388.70,357.11 L389.00,357.32 L389.30,357.53 L389.60,357.76 L389.91,358.00 L390.21,358.24 L390.51,358.49 L390.82,358.76 L391.12,359.03 L391.42,359.31 L391.72,359.60 L392.03,359.89 L392.33,360.20 L392.63,360.52 L392.93,360.84 L393.24,361.18 L393.54,361.52 L393.84,361.87 L394.14,362.23 L394.45,362.60 L394.75,362.98 L395.05,363.37 L395.36,363.77 L395.66,364.17 L395.96,364.58 L396.26,365.01 L396.57,365.44 L396.87,365.88 L397.17,366.32 L397.47,366.78 L397.78,367.25 L398.08,367.72 L398.38,368.20 L398.69,368.69 L398.99,369.19 L399.29,369.70 L399.59,370.21 L399.90,370.74 L400.20,371.27 L400.50,371.81 L400.80,372.36 L401.11,372.92 L401.41,373.48 L401.71,374.06 L402.01,374.64 L402.32,375.23 L402.62,375.82 L402.92,376.43 L403.23,377.04 L403.53,377.67 L403.83,378.29 L404.13,378.93 L404.44,379.58 L404.74,380.23 L405.04,380.89 L405.34,381.56 L405.65,382.23 L405.95,382.92 L406.25,383.61 L406.56,384.31 L406.86,385.01 L407.16,385.73 L407.46,386.45 L407.77,387.17 L408.07,387.91 L408.37,388.65 L408.67,389.40 L408.98,390.16 L409.28,390.92 L409.58,391.69 L409.88,392.47 L410.19,393.26 L410.49,394.05 L410.79,394.85 L411.10,395.65 L411.40,396.47 L411.70,397.29 L412.00,398.11 L412.31,398.94 L412.61,399.78 L412.91,400.63 L413.21,401.48 L413.52,402.34 L413.82,403.20 L414.12,404.07 L414.43,404.95 L414.73,405.84 L415.03,406.72 L415.33,407.62 L415.64,408.52 L415.94,409.43 L416.24,410.34 L416.54,411.26 L416.85,412.19 L417.15,413.12 L417.45,414.06 L417.75,415.00 L418.06,415.95 L418.36,416.90 L418.66,417.86 L418.97,418.82 L419.27,419.79 L419.57,420.77 L419.87,421.75 L420.18,422.73 L420.48,423.72 L420.78,424.72 L421.08,425.72 L421.39,426.72 L421.69,427.73 L421.99,428.75 L422.29,429.77 L422.60,430.79 L422.90,431.82 L423.20,432.86 L423.51,433.89 L423.81,434.94 L424.11,435.98 L424.41,437.03 L424.72,438.09 L425.02,439.15 L425.32,440.21 L425.62,441.28 L425.93,442.35 L426.23,443.42 L426.53,444.50 L426.84,445.59 L427.14,446.67 L427.44,447.76 L427.74,448.86 L428.05,449.95 L428.35,451.05 L428.65,452.16 L428.95,453.27 L429.26,454.38 L429.56,455.49 L429.86,456.61 L430.16,457.73 L430.47,458.85 L430.77,459.97 L431.07,461.10 L431.38,462.23 L431.68,463.37 L431.98,464.50 L432.28,465.64 L432.59,466.78 L432.89,467.93 L433.19,469.07 L433.49,470.22 L433.80,471.37 L434.10,472.52 L434.40,473.68 L434.71,474.83 L435.01,475.99 L435.31,477.15 L435.61,478.31 L435.92,479.48 L436.22,480.64 L436.52,481.81 L436.82,482.98 L437.13,484.15 L437.43,485.32 L437.73,486.49 L438.03,487.66 L438.34,488.84 L438.64,490.01 L438.94,491.19 L439.25,492.37 L439.55,493.54 L439.85,494.72 L440.15,495.90 L440.46,497.08 L440.76,498.26 L441.06,499.44 L441.36,500.62 L441.67,501.80 L441.97,502.99 L442.27,504.17 L442.58,505.35 L442.88,504.17 L443.18,502.99 L443.48,501.80 L443.79,500.62 L444.09,499.44 L444.39,498.26 L444.69,497.08 L445.00,495.90 L445.30,494.72 L445.60,493.54 L445.90,492.37 L446.21,491.19 L446.51,490.01 L446.81,488.84 L447.12,487.66 L447.42,486.49 L447.72,485.32 L448.02,484.15 L448.33,482.98 L448.63,481.81 L448.93,480.64 L449.23,479.48 L449.54,478.31 L449.84,477.15 L450.14,475.99 L450.44,474.83 L450.75,473.68 L451.05,472.52 L451.35,471.37 L451.66,470.22 L451.96,469.07 L452.26,467.93 L452.56,466.78 L452.87,465.64 L453.17,464.50 L453.47,463.37 L453.77,462.23 L454.08,461.10 L454.38,459.97 L454.68,458.85 L454.99,457.73 L455.29,456.61 L455.59,455.49 L455.89,454.38 L456.20,453.27 L456.50,452.16 L456.80,451.05 L457.10,449.95 L457.41,448.86 L457.71,447.76 L458.01,446.67 L458.31,445.59 L458.62,444.50 L458.92,443.42 L459.22,442.35 L459.53,441.28 L459.83,440.21 L460.13,439.15 L460.43,438.09 L460.74,437.03 L461.04,435.98 L461.34,434.94 L461.64,433.89 L461.95,432.86 L462.25,431.82 L462.55,430.79 L462.86,429.77 L463.16,428.75 L463.46,427.73 L463.76,426.72 L464.07,425.72 L464.37,424.72 L464.67,423.72 L464.97,422.73 L465.28,421.75 L465.58,420.77 L465.88,419.79 L466.18,418.82 L466.49,417.86 L466.79,416.90 L467.09,415.95 L467.40,415.00 L467.70,414.06 L468.00,413.12 L468.30,412.19 L468.61,411.26 L468.91,410.34 L469.21,409.43 L469.51,408.52 L469.82,407.62 L470.12,406.72 L470.42,405.84 L470.72,404.95 L471.03,404.07 L471.33,403.20 L471.63,402.34 L471.94,401.48 L472.24,400.63 L472.54,399.78 L472.84,398.94 L473.15,398.11 L473.45,397.29 L473.75,396.47 L474.05,395.65 L474.36,394.85 L474.66,394.05 L474.96,393.26 L475.27,392.47 L475.57,391.69 L475.87,390.92 L476.17,390.16 L476.48,389.40 L476.78,388.65 L477.08,387.91 L477.38,387.17 L477.69,386.45 L477.99,385.73 L478.29,385.01 L478.59,384.31 L478.90,383.61 L479.20,382.92 L479.50,382.23 L479.81,381.56 L480.11,380.89 L480.41,380.23 L480.71,379.58 L481.02,378.93 L481.32,378.29 L481.62,377.67 L481.92,377.04 L482.23,376.43 L482.53,375.82 L482.83,375.23 L483.14,374.64 L483.44,374.06 L483.74,373.48 L484.04,372.92 L484.35,372.36 L484.65,371.81 L484.95,371.27 L485.25,370.74 L485.56,370.21 L485.86,369.70 L486.16,369.19 L486.46,368.69 L486.77,368.20 L487.07,367.72 L487.37,367.25 L487.68,366.78 L487.98,366.32 L488.28,365.88 L488.58,365.44 L488.89,365.01 L489.19,364.58 L489.49,364.17 L489.79,363.77 L490.10,363.37 L490.40,362.98 L490.70,362.60 L491.00,362.23 L491.31,361.87 L491.61,361.52 L491.91,361.18 L492.22,360.84 L492.52,360.52 L492.82,360.20 L493.12,359.89 L493.43,359.60 L493.73,359.31 L494.03,359.03 L494.33,358.76 L494.64,358.49 L494.94,358.24 L495.24,358.00 L495.55,357.76 L495.85,357.53 L496.15,357.32 L496.45,357.11 L496.76,356.91 L497.06,356.72 L497.36,356.54 L497.66,356.37 L497.97,356.21 L498.27,356.06 L498.57,355.91 L498.87,355.78 L499.18,355.65 L499.48,355.54 L499.78,355.43 L500.09,355.33 L500.39,355.24 L500.69,355.17 L500.99,355.10 L501.30,355.04 L501.60,354.98 L501.90,354.94 L502.20,354.91 L502.51,354.89 L502.81,354.87 L503.11,354.87 L503.42,354.87 L503.72,354.89 L504.02,354.91 L504.32,354.94 L504.63,354.98 L504.93,355.04 L505.23,355.10 L505.53,355.17 L505.84,355.24 L506.14,355.33 L506.44,355.43 L506.74,355.54 L507.05,355.65 L507.35,355.78 L507.65,355.91 L507.96,356.06 L508.26,356.21 L508.56,356.37 L508.86,356.54 L509.17,356.72 L509.47,356.91 L509.77,357.11 L510.07,357.32 L510.38,357.53 L510.68,357.76 L510.98,358.00 L511.29,358.24 L511.59,358.49 L511.89,358.76 L512.19,359.03 L512.50,359.31 L512.80,359.60 L513.10,359.89 L513.40,360.20 L513.71,360.52 L514.01,360.84 L514.31,361.18 L514.61,361.52 L514.92,361.87 L515.22,362.23 L515.52,362.60 L515.83,362.98 L516.13,363.37 L516.43,363.77 L516.73,364.17 L517.04,364.58 L517.34,365.01 L517.64,365.44 L517.94,365.88 L518.25,366.32 L518.55,366.78 L518.85,367.25 L519.15,367.72 L519.46,368.20 L519.76,368.69 L520.06,369.19 L520.37,369.70 L520.67,370.21 L520.97,370.74 L521.27,371.27 L521.58,371.81 L521.88,372.36 L522.18,372.92 L522.48,373.48 L522.79,374.06 L523.09,374.64 L523.39,375.23 L523.70,375.82 L524.00,376.43 L524.30,377.04 L524.60,377.67 L524.91,378.29 L525.21,378.93 L525.51,379.58 L525.81,380.23 L526.12,380.89 L526.42,381.56 L526.72,382.23 L527.02,382.92 L527.33,383.61 L527.63,384.31 L527.93,385.01 L528.24,385.73 L528.54,386.45 L528.84,387.17 L529.14,387.91 L529.45,388.65 L529.75,389.40 L530.05,390.16 L530.35,390.92 L530.66,391.69 L530.96,392.47 L531.26,393.26 L531.57,394.05 L531.87,394.85 L532.17,395.65 L532.47,396.47 L532.78,397.29 L533.08,398.11 L533.38,398.94 L533.68,399.78 L533.99,400.63 L534.29,401.48 L534.59,402.34 L534.89,403.20 L535.20,404.07 L535.50,404.95 L535.80,405.84 L536.11,406.72 L536.41,407.62 L536.71,408.52 L537.01,409.43 L537.32,410.34 L537.62,411.26 L537.92,412.19 L538.22,413.12 L538.53,414.06 L538.83,415.00 L539.13,415.95 L539.43,416.90 L539.74,417.86 L540.04,418.82 L540.34,419.79 L540.65,420.77 L540.95,421.75 L541.25,422.73 L541.55,423.72 L541.86,424.72 L542.16,425.72 L542.46,426.72 L542.76,427.73 L543.07,428.75 L543.37,429.77 L543.67,430.79 L543.98,431.82 L544.28,432.86 L544.58,433.89 L544.88,434.94 L545.19,435.98 L545.49,437.03 L545.79,438.09 L546.09,439.15 L546.40,440.21 L546.70,441.28 L547.00,442.35 L547.30,443.42 L547.61,444.50 L547.91,445.59 L548.21,446.67 L548.52,447.76 L548.82,448.86 L549.12,449.95 L549.42,451.05 L549.73,452.16 L550.03,453.27 L550.33,454.38 L550.63,455.49 L550.94,456.61 L551.24,457.73 L551.54,458.85 L551.85,459.97 L552.15,461.10 L552.45,462.23 L552.75,463.37 L553.06,464.50 L553.36,465.64 L553.66,466.78 L553.96,467.93 L554.27,469.07 L554.57,470.22 L554.87,471.37 L555.17,472.52 L555.48,473.68 L555.78,474.83 L556.08,475.99 L556.39,477.15 L556.69,478.31 L556.99,479.48 L557.29,480.64 L557.60,481.81 L557.90,482.98 L558.20,484.15 L558.50,485.32 L558.81,486.49 L559.11,487.66 L559.41,488.84 L559.72,490.01 L560.02,491.19 L560.32,492.37 L560.62,493.54 L560.93,494.72 L561.23,495.90 L561.53,497.08 L561.83,498.26 L562.14,499.44 L562.44,500.62 L562.74,501.80 L563.04,502.99 L563.35,504.17 L563.65,505.35"/>
<path class="c s" stroke="#f00" d="M79.35,505.35 L79.65,505.28 L79.96,505.15 L80.26,504.97 L80.56,504.77 L80.86,504.54 L81.17,504.29 L81.47,504.01 L81.77,503.71 L82.07,503.40 L82.38,503.07 L82.68,502.71 L82.98,502.35 L83.28,501.96 L83.59,501.57 L83.89,501.16 L84.19,500.73 L84.50,500.29 L84.80,499.84 L85.10,499.38 L85.40,498.90 L85.71,498.41 L86.01,497.91 L86.31,497.40 L86.61,496.88 L86.92,496.35 L87.22,495.81 L87.52,495.25 L87.83,494.69 L88.13,494.12 L88.43,493.54 L88.73,492.95 L89.04,492.35 L89.34,491.74 L89.64,491.12 L89.94,490.49 L90.25,489.86 L90.55,489.22 L90.85,488.56 L91.15,487.91 L91.46,487.24 L91.76,486.57 L92.06,485.88 L92.37,485.20 L92.67,484.50 L92.97,483.80 L93.27,483.09 L93.58,482.37 L93.88,481.65 L94.18,480.92 L94.48,480.18 L94.79,479.44 L95.09,478.69 L95.39,477.93 L95.70,477.17 L96.00,476.41 L96.30,475.63 L96.60,474.86 L96.91,474.07 L97.21,473.28 L97.51,472.49 L97.81,471.69 L98.12,470.88 L98.42,470.07 L98.72,469.26 L99.02,468.44 L99.33,467.61 L99.63,466.78 L99.93,465.95 L100.24,465.11 L100.54,464.27 L100.84,463.42 L101.14,462.57 L101.45,461.72 L101.75,460.86 L102.05,460.00 L102.35,459.13 L102.66,458.26 L102.96,457.38 L103.26,456.51 L103.56,455.62 L103.87,454.74 L104.17,453.85 L104.47,452.96 L104.78,452.07 L105.08,451.17 L105.38,450.27 L105.68,449.36 L105.99,448.46 L106.29,447.55 L106.59,446.64 L106.89,445.72 L107.20,444.80 L107.50,443.89 L107.80,442.96 L108.11,442.04 L108.41,441.11 L108.71,440.19 L109.01,439.26 L109.32,438.32 L109.62,437.39 L109.92,436.45 L110.22,435.51 L110.53,434.58 L110.83,433.63 L111.13,432.69 L111.43,431.75 L111.74,430.80 L112.04,429.86 L112.34,428.91 L112.65,427.96 L112.95,427.01 L113.25,426.06 L113.55,425.11 L113.86,424.15 L114.16,423.20 L114.46,422.24 L114.76,421.29 L115.07,420.33 L115.37,419.38 L115.67,418.42 L115.98,417.46 L116.28,416.51 L116.58,415.55 L116.88,414.59 L117.19,413.63 L117.49,412.67 L117.79,411.72 L118.09,410.76 L118.40,409.80 L118.70,408.84 L119.00,407.88 L119.30,406.93 L119.61,405.97 L119.91,405.01 L120.21,404.06 L120.52,403.10 L120.82,402.15 L121.12,401.20 L121.42,400.24 L121.73,399.29 L122.03,398.34 L122.33,397.39 L122.63,396.44 L122.94,395.49 L123.24,394.55 L123.54,393.60 L123.85,392.66 L124.15,391.72 L124.45,390.77 L124.75,389.83 L125.06,388.90 L125.36,387.96 L125.66,387.02 L125.96,386.09 L126.27,385.16 L126.57,384.23 L126.87,383.30 L127.17,382.37 L127.48,381.45 L127.78,380.53 L128.08,379.61 L128.39,378.69 L128.69,377.77 L128.99,376.86 L129.29,375.95 L129.60,375.04 L129.90,374.14 L130.20,373.23 L130.50,372.33 L130.81,371.43 L131.11,370.54 L131.41,369.64 L131.71,368.75 L132.02,367.86 L132.32,366.98 L132.62,366.10 L132.93,365.22 L133.23,364.34 L133.53,363.47 L133.83,362.60 L134.14,361.73 L134.44,360.87 L134.74,360.01 L135.04,359.15 L135.35,358.29 L135.65,357.44 L135.95,356.60 L136.26,355.75 L136.56,354.91 L136.86,354.08 L137.16,353.24 L137.47,352.41 L137.77,351.59 L138.07,350.76 L138.37,349.95 L138.68,349.13 L138.98,348.32 L139.28,347.51 L139.58,346.71 L139.89,345.91 L140.19,345.12 L140.49,344.32 L140.80,343.54 L141.10,342.75 L141.40,341.98 L141.70,341.20 L142.01,340.43 L142.31,339.66 L142.61,338.90 L142.91,338.14 L143.22,337.39 L143.52,336.64 L143.82,335.90 L144.13,335.16 L144.43,334.42 L144.73,333.69 L145.03,332.96 L145.34,332.24 L145.64,331.52 L145.94,330.81 L146.24,330.10 L146.55,329.40 L146.85,328.70 L147.15,328.01 L147.45,327.32 L147.76,326.63 L148.06,325.95 L148.36,325.28 L148.67,324.61 L148.97,323.95 L149.27,323.29 L149.57,322.63 L149.88,321.98 L150.18,321.33 L150.48,320.69 L150.78,320.06 L151.09,319.43 L151.39,318.80 L151.69,318.18 L152.00,317.57 L152.30,316.96 L152.60,316.36 L152.90,315.76 L153.21,315.16 L153.51,314.57 L153.81,313.99 L154.11,313.41 L154.42,312.84 L154.72,312.27 L155.02,311.71 L155.32,311.15 L155.63,310.60 L155.93,310.05 L156.23,309.51 L156.54,308.97 L156.84,308.44 L157.14,307.91 L157.44,307.39 L157.75,306.88 L158.05,306.37 L158.35,305.86 L158.65,305.37 L158.96,304.87 L159.26,304.38 L159.56,303.90 L159.86,303.42 L160.17,302.95 L160.47,302.48 L160.77,302.02 L161.08,301.57 L161.38,301.11 L161.68,300.67 L161.98,300.23 L162.29,299.79 L162.59,299.37 L162.89,298.94 L163.19,298.52 L163.50,298.11 L163.80,297.70 L164.10,297.30 L164.41,296.90 L164.71,296.51 L165.01,296.12 L165.31,295.74 L165.62,295.37 L165.92,295.00 L166.22,294.63 L166.52,294.27 L166.83,293.92 L167.13,293.57 L167.43,293.22 L167.73,292.88 L168.04,292.55 L168.34,292.22 L168.64,291.90 L168.95,291.58 L169.25,291.26 L169.55,290.96 L169.85,290.65 L170.16,290.35 L170.46,290.06 L170.76,289.77 L171.06,289.49 L171.37,289.21 L171.67,288.94 L171.97,288.67 L172.28,288.41 L172.58,288.15 L172.88,287.90 L173.18,287.65 L173.49,287.40 L173.79,287.16 L174.09,286.93 L174.39,286.70 L174.70,286.48 L175.00,286.26 L175.30,286.04 L175.60,285.83 L175.91,285.62 L176.21,285.42 L176.51,285.22 L176.82,285.03 L177.12,284.84 L177.42,284.66 L177.72,284.48 L178.03,284.30 L178.33,284.13 L178.63,283.96 L178.93,283.80 L179.24,283.64 L179.54,283.49 L179.84,283.34 L180.14,283.19 L180.45,283.05 L180.75,282.91 L181.05,282.78 L181.36,282.65 L181.66,282.52 L181.96,282.40 L182.26,282.28 L182.57,282.16 L182.87,282.05 L183.17,281.94 L183.47,281.84 L183.78,281.73 L184.08,281.64 L184.38,281.54 L184.69,281.45 L184.99,281.36 L185.29,281.28 L185.59,281.20 L185.90,281.12 L186.20,281.04 L186.50,280.97 L186.80,280.90 L187.11,280.83 L187.41,280.77 L187.71,280.71 L188.01,280.65 L188.32,280.60 L188.62,280.54 L188.92,280.49 L189.23,280.45 L189.53,280.40 L189.83,280.36 L190.13,280.32 L190.44,280.28 L190.74,280.24 L191.04,280.21 L191.34,280.18 L191.65,280.15 L191.95,280.12 L192.25,280.09 L192.56,280.07 L192.86,280.05 L193.16,280.03 L193.46,280.01 L193.77,279.99 L194.07,279.98 L194.37,279.96 L194.67,279.95 L194.98,279.94 L195.28,279.93 L195.58,279.92 L195.88,279.91 L196.19,279.90 L196.49,279.89 L196.79,279.89 L197.10,279.88 L197.40,279.88 L197.70,279.88 L198.00,279.87 L198.31,279.87 L198.61,279.87 L198.91,279.87 L199.21,279.87 L199.52,279.87 L199.82,279.87 L200.12,279.87 L200.43,279.87 L200.73,279.87 L201.03,279.87 L201.33,279.87 L201.64,279.87 L201.94,279.87 L202.24,279.87 L202.54,279.86 L202.85,279.86 L203.15,279.86 L203.45,279.86 L203.75,279.85 L204.06,279.85 L204.36,279.84 L204.66,279.84 L204.97,279.83 L205.27,279.82 L205.57,279.81 L205.87,279.80 L206.18,279.79 L206.48,279.78 L206.78,279.76 L207.08,279.75 L207.39,279.73 L207.69,279.71 L207.99,279.69 L208.29,279.67 L208.60,279.64 L208.90,279.62 L209.20,279.59 L209.51,279.56 L209.81,279.53 L210.11,279.49 L210.41,279.46 L210.72,279.42 L211.02,279.38 L211.32,279.34 L211.62,279.29 L211.93,279.24 L212.23,279.19 L212.53,279.14 L212.84,279.09 L213.14,279.03 L213.44,278.97 L213.74,278.91 L214.05,278.84 L214.35,278.77 L214.65,278.70 L214.95,278.63 L215.26,278.55 L215.56,278.47 L215.86,278.38 L216.16,278.30 L216.47,278.21 L216.77,278.11 L217.07,278.02 L217.38,277.92 L217.68,277.82 L217.98,277.71 L218.28,277.60 L218.59,277.49 L218.89,277.37 L219.19,277.25 L219.49,277.13 L219.80,277.00 L220.10,276.87 L220.40,276.73 L220.71,276.59 L221.01,276.45 L221.31,276.31 L221.61,276.16 L221.92,276.00 L222.22,275.85 L222.52,275.69 L222.82,275.52 L223.13,275.35 L223.43,275.18 L223.73,275.00 L224.03,274.82 L224.34,274.64 L224.64,274.45 L224.94,274.26 L225.25,274.06 L225.55,273.86 L225.85,273.66 L226.15,273.45 L226.46,273.24 L226.76,273.02 L227.06,272.80 L227.36,272.58 L227.67,272.35 L227.97,272.12 L228.27,271.88 L228.57,271.64 L228.88,271.40 L229.18,271.15 L229.48,270.90 L229.79,270.64 L230.09,270.38 L230.39,270.12 L230.69,269.85 L231.00,269.58 L231.30,269.30 L231.60,269.02 L231.90,268.74 L232.21,268.45 L232.51,268.16 L232.81,267.86 L233.12,267.57 L233.42,267.26 L233.72,266.96 L234.02,266.65 L234.33,266.33 L234.63,266.02 L234.93,265.69 L235.23,265.37 L235.54,265.04 L235.84,264.71 L236.14,264.37 L236.44,264.03 L236.75,263.69 L237.05,263.35 L237.35,263.00 L237.66,262.64 L237.96,262.29 L238.26,261.93 L238.56,261.57 L238.87,261.20 L239.17,260.83 L239.47,260.46 L239.77,260.08 L240.08,259.71 L240.38,259.32 L240.68,258.94 L240.99,258.55 L241.29,258.16 L241.59,257.77 L241.89,257.37 L242.20,256.98 L242.50,256.57 L242.80,256.17 L243.10,255.76 L243.41,255.36 L243.71,254.94 L244.01,254.53 L244.31,254.11 L244.62,253.70 L244.92,253.28 L245.22,252.85 L245.53,252.43 L245.83,252.00 L246.13,251.57 L246.43,251.14 L246.74,250.71 L247.04,250.27 L247.34,249.83 L247.64,249.40 L247.95,248.96 L248.25,248.51 L248.55,248.07 L248.85,247.62 L249.16,247.18 L249.46,246.73 L249.76,246.28 L250.07,245.83 L250.37,245.38 L250.67,244.92 L250.97,244.47 L251.28,244.01 L251.58,243.56 L251.88,243.10 L252.18,242.64 L252.49,242.18 L252.79,241.72 L253.09,241.26 L253.40,240.80 L253.70,240.33 L254.00,239.87 L254.30,239.41 L254.61,238.94 L254.91,238.48 L255.21,238.01 L255.51,237.55 L255.82,237.08 L256.12,236.62 L256.42,236.15 L256.72,235.69 L257.03,235.22 L257.33,234.76 L257.63,234.29 L257.94,233.82 L258.24,233.36 L258.54,232.89 L258.84,232.43 L259.15,231.97 L259.45,231.50 L259.75,231.04 L260.05,230.58 L260.36,230.11 L260.66,229.65 L260.96,229.19 L261.27,228.73 L261.57,228.27 L261.87,227.82 L262.17,227.36 L262.48,226.90 L262.78,226.45 L263.08,225.99 L263.38,225.54 L263.69,225.09 L263.99,224.64 L264.29,224.19 L264.59,223.74 L264.90,223.29 L265.20,222.85 L265.50,222.40 L265.81,221.96 L266.11,221.52 L266.41,221.08 L266.71,220.64 L267.02,220.21 L267.32,219.77 L267.62,219.34 L267.92,218.91 L268.23,218.48 L268.53,218.06 L268.83,217.63 L269.14,217.21 L269.44,216.79 L269.74,216.37 L270.04,215.95 L270.35,215.54 L270.65,215.13 L270.95,214.72 L271.25,214.31 L271.56,213.91 L271.86,213.50 L272.16,213.10 L272.46,212.71 L272.77,212.31 L273.07,211.92 L273.37,211.53 L273.68,211.14 L273.98,210.75 L274.28,210.37 L274.58,209.99 L274.89,209.61 L275.19,209.24 L275.49,208.87 L275.79,208.50 L276.10,208.13 L276.40,207.77 L276.70,207.41 L277.00,207.05 L277.31,206.69 L277.61,206.34 L277.91,205.99 L278.22,205.65 L278.52,205.30 L278.82,204.96 L279.12,204.63 L279.43,204.29 L279.73,203.96 L280.03,203.63 L280.33,203.31 L280.64,202.99 L280.94,202.67 L281.24,202.35 L281.55,202.04 L281.85,201.73 L282.15,201.43 L282.45,201.12 L282.76,200.82 L283.06,200.53 L283.36,200.24 L283.66,199.95 L283.97,199.66 L284.27,199.38 L284.57,199.10 L284.87,198.82 L285.18,198.55 L285.48,198.28 L285.78,198.01 L286.09,197.75 L286.39,197.49 L286.69,197.23 L286.99,196.98 L287.30,196.73 L287.60,196.49 L287.90,196.24 L288.20,196.00 L288.51,195.77 L288.81,195.54 L289.11,195.31 L289.42,195.08 L289.72,194.86 L290.02,194.64 L290.32,194.42 L290.63,194.21 L290.93,194.00 L291.23,193.80 L291.53,193.60 L291.84,193.40 L292.14,193.20 L292.44,193.01 L292.74,192.82 L293.05,192.63 L293.35,192.45 L293.65,192.27 L293.96,192.10 L294.26,191.92 L294.56,191.75 L294.86,191.59 L295.17,191.42 L295.47,191.26 L295.77,191.11 L296.07,190.95 L296.38,190.80 L296.68,190.66 L296.98,190.51 L297.28,190.37 L297.59,190.23 L297.89,190.10 L298.19,189.97 L298.50,189.84 L298.80,189.71 L299.10,189.59 L299.40,189.47 L299.71,189.35 L300.01,189.24 L300.31,189.13 L300.61,189.02 L300.92,188.91 L301.22,188.81 L301.52,188.71 L301.83,188.61 L302.13,188.52 L302.43,188.43 L302.73,188.34 L303.04,188.25 L303.34,188.17 L303.64,188.09 L303.94,188.01 L304.25,187.93 L304.55,187.86 L304.85,187.79 L305.15,187.72 L305.46,187.65 L305.76,187.59 L306.06,187.53 L306.37,187.47 L306.67,187.41 L306.97,187.35 L307.27,187.30 L307.58,187.25 L307.88,187.20 L308.18,187.15 L308.48,187.11 L308.79,187.07 L309.09,187.02 L309.39,186.99 L309.70,186.95 L310.00,186.91 L310.30,186.88 L310.60,186.85 L310.91,186.82 L311.21,186.79 L311.51,186.76 L311.81,186.74 L312.12,186.71 L312.42,186.69 L312.72,186.67 L313.02,186.65 L313.33,186.63 L313.63,186.61 L313.93,186.60 L314.24,186.58 L314.54,186.57 L314.84,186.56 L315.14,186.55 L315.45,186.54 L315.75,186.53 L316.05,186.52 L316.35,186.51 L316.66,186.50 L316.96,186.50 L317.26,186.49 L317.57,186.49 L317.87,186.49 L318.17,186.48 L318.47,186.48 L318.78,186.48 L319.08,186.48 L319.38,186.47 L319.68,186.47 L319.99,186.47 L320.29,186.47 L320.59,186.47 L320.89,186.47 L321.20,186.47 L321.50,186.47 L321.80,186.47 L322.11,186.47 L322.41,186.47 L322.71,186.47 L323.01,186.47 L323.32,186.47 L323.62,186.47 L323.92,186.47 L324.22,186.47 L324.53,186.46 L324.83,186.46 L325.13,186.46 L325.43,186.45 L325.74,186.45 L326.04,186.44 L326.34,186.44 L326.65,186.43 L326.95,186.42 L327.25,186.42 L327.55,186.41 L327.86,186.40 L328.16,186.38 L328.46,186.37 L328.76,186.36 L329.07,186.34 L329.37,186.33 L329.67,186.31 L329.98,186.29 L330.28,186.27 L330.58,186.25 L330.88,186.23 L331.19,186.21 L331.49,186.18 L331.79,186.15 L332.09,186.13 L332.40,186.09 L332.70,186.06 L333.00,186.03 L333.30,185.99 L333.61,185.96 L333.91,185.92 L334.21,185.88 L334.52,185.83 L334.82,185.79 L335.12,185.74 L335.42,185.69 L335.73,185.64 L336.03,185.59 L336.33,185.54 L336.63,185.48 L336.94,185.42 L337.24,185.36 L337.54,185.29 L337.85,185.23 L338.15,185.16 L338.45,185.09 L338.75,185.02 L339.06,184.94 L339.36,184.86 L339.66,184.78 L339.96,184.70 L340.27,184.61 L340.57,184.53 L340.87,184.44 L341.17,184.34 L341.48,184.25 L341.78,184.15 L342.08,184.05 L342.39,183.94 L342.69,183.84 L342.99,183.73 L343.29,183.61 L343.60,183.50 L343.90,183.38 L344.20,183.26 L344.50,183.14 L344.81,183.01 L345.11,182.88 L345.41,182.75 L345.72,182.62 L346.02,182.48 L346.32,182.34 L346.62,182.20 L346.93,182.05 L347.23,181.90 L347.53,181.75 L347.83,181.59 L348.14,181.44 L348.44,181.27 L348.74,181.11 L349.04,180.94 L349.35,180.77 L349.65,180.60 L349.95,180.43 L350.26,180.25 L350.56,180.07 L350.86,179.88 L351.16,179.69 L351.47,179.50 L351.77,179.31 L352.07,179.11 L352.37,178.91 L352.68,178.71 L352.98,178.51 L353.28,178.30 L353.58,178.09 L353.89,177.87 L354.19,177.66 L354.49,177.44 L354.80,177.21 L355.10,176.99 L355.40,176.76 L355.70,176.53 L356.01,176.30 L356.31,176.06 L356.61,175.82 L356.91,175.58 L357.22,175.33 L357.52,175.08 L357.82,174.83 L358.13,174.58 L358.43,174.33 L358.73,174.07 L359.03,173.81 L359.34,173.54 L359.64,173.28 L359.94,173.01 L360.24,172.74 L360.55,172.46 L360.85,172.19 L361.15,171.91 L361.45,171.63 L361.76,171.34 L362.06,171.06 L362.36,170.77 L362.67,170.48 L362.97,170.19 L363.27,169.89 L363.57,169.60 L363.88,169.30 L364.18,168.99 L364.48,168.69 L364.78,168.39 L365.09,168.08 L365.39,167.77 L365.69,167.46 L366.00,167.14 L366.30,166.83 L366.60,166.51 L366.90,166.19 L367.21,165.87 L367.51,165.55 L367.81,165.23 L368.11,164.90 L368.42,164.57 L368.72,164.24 L369.02,163.91 L369.32,163.58 L369.63,163.25 L369.93,162.91 L370.23,162.57 L370.54,162.24 L370.84,161.90 L371.14,161.56 L371.44,161.22 L371.75,160.87 L372.05,160.53 L372.35,160.18 L372.65,159.84 L372.96,159.49 L373.26,159.14 L373.56,158.79 L373.86,158.45 L374.17,158.09 L374.47,157.74 L374.77,157.39 L375.08,157.04 L375.38,156.68 L375.68,156.33 L375.98,155.98 L376.29,155.62 L376.59,155.27 L376.89,154.91 L377.19,154.55 L377.50,154.20 L377.80,153.84 L378.10,153.48 L378.41,153.12 L378.71,152.77 L379.01,152.41 L379.31,152.05 L379.62,151.69 L379.92,151.33 L380.22,150.98 L380.52,150.62 L380.83,150.26 L381.13,149.90 L381.43,149.55 L381.73,149.19 L382.04,148.83 L382.34,148.48 L382.64,148.12 L382.95,147.76 L383.25,147.41 L383.55,147.06 L383.85,146.70 L384.16,146.35 L384.46,146.00 L384.76,145.64 L385.06,145.29 L385.37,144.94 L385.67,144.59 L385.97,144.24 L386.28,143.90 L386.58,143.55 L386.88,143.20 L387.18,142.86 L387.49,142.51 L387.79,142.17 L388.09,141.83 L388.39,141.49 L388.70,141.15 L389.00,140.81 L389.30,140.47 L389.60,140.14 L389.91,139.81 L390.21,139.47 L390.51,139.14 L390.82,138.81 L391.12,138.48 L391.42,138.16 L391.72,137.83 L392.03,137.51 L392.33,137.19 L392.63,136.86 L392.93,136.55 L393.24,136.23 L393.54,135.91 L393.84,135.60 L394.14,135.29 L394.45,134.98 L394.75,134.67 L395.05,134.37 L395.36,134.06 L395.66,133.76 L395.96,133.46 L396.26,133.16 L396.57,132.87 L396.87,132.57 L397.17,132.28 L397.47,131.99 L397.78,131.70 L398.08,131.42 L398.38,131.13 L398.69,130.85 L398.99,130.57 L399.29,130.30 L399.59,130.02 L399.90,129.75 L400.20,129.48 L400.50,129.21 L400.80,128.95 L401.11,128.69 L401.41,128.43 L401.71,128.17 L402.01,127.91 L402.32,127.66 L402.62,127.41 L402.92,127.16 L403.23,126.92 L403.53,126.67 L403.83,126.43 L404.13,126.20 L404.44,125.96 L404.74,125.73 L405.04,125.50 L405.34,125.27 L405.65,125.04 L405.95,124.82 L406.25,124.60 L406.56,124.39 L406.86,124.17 L407.16,123.96 L407.46,123.75 L407.77,123.54 L408.07,123.34 L408.37,123.14 L408.67,122.94 L408.98,122.74 L409.28,122.55 L409.58,122.36 L409.88,122.17 L410.19,121.99 L410.49,121.80 L410.79,121.62 L411.10,121.45 L411.40,121.27 L411.70,121.10 L412.00,120.93 L412.31,120.76 L412.61,120.60 L412.91,120.44 L413.21,120.28 L413.52,120.12 L413.82,119.97 L414.12,119.82 L414.43,119.67 L414.73,119.53 L415.03,119.38 L415.33,119.24 L415.64,119.11 L415.94,118.97 L416.24,118.84 L416.54,118.71 L416.85,118.58 L417.15,118.46 L417.45,118.33 L417.75,118.21 L418.06,118.10 L418.36,117.98 L418.66,117.87 L418.97,117.76 L419.27,117.65 L419.57,117.55 L419.87,117.45 L420.18,117.35 L420.48,117.25 L420.78,117.15 L421.08,117.06 L421.39,116.97 L421.69,116.88 L421.99,116.80 L422.29,116.71 L422.60,116.63 L422.90,116.55 L423.20,116.48 L423.51,116.40 L423.81,116.33 L424.11,116.26 L424.41,116.19 L424.72,116.12 L425.02,116.06 L425.32,116.00 L425.62,115.94 L425.93,115.88 L426.23,115.82 L426.53,115.77 L426.84,115.72 L427.14,115.67 L427.44,115.62 L427.74,115.57 L428.05,115.52 L428.35,115.48 L428.65,115.44 L428.95,115.40 L429.26,115.36 L429.56,115.33 L429.86,115.29 L430.16,115.26 L430.47,115.22 L430.77,115.19 L431.07,115.17 L431.38,115.14 L431.68,115.11 L431.98,115.09 L432.28,115.06 L432.59,115.04 L432.89,115.02 L433.19,115.00 L433.49,114.98 L433.80,114.97 L434.10,114.95 L434.40,114.94 L434.71,114.92 L435.01,114.91 L435.31,114.90 L435.61,114.89 L435.92,114.88 L436.22,114.87 L436.52,114.86 L436.82,114.85 L437.13,114.84 L437.43,114.84 L437.73,114.83 L438.03,114.83 L438.34,114.82 L438.64,114.82 L438.94,114.82 L439.25,114.81 L439.55,114.81 L439.85,114.81 L440.15,114.81 L440.46,114.81 L440.76,114.81 L441.06,114.81 L441.36,114.81 L441.67,114.80 L441.97,114.80 L442.27,114.80 L442.58,114.80 L442.88,114.80 L443.18,114.80 L443.48,114.80 L443.79,114.80 L444.09,114.80 L444.39,114.80 L444.69,114.80 L445.00,114.80 L445.30,114.80 L445.60,114.80 L445.90,114.80 L446.21,114.79 L446.51,114.79 L446.81,114.79 L447.12,114.78 L447.42,114.78 L447.72,114.77 L448.02,114.77 L448.33,114.76 L448.63,114.75 L448.93,114.74 L449.23,114.73 L449.54,114.72 L449.84,114.71 L450.14,114.70 L450.44,114.69 L450.75,114.67 L451.05,114.66 L451.35,114.64 L451.66,114.63 L451.96,114.61 L452.26,114.59 L452.56,114.57 L452.87,114.55 L453.17,114.52 L453.47,114.50 L453.77,114.47 L454.08,114.44 L454.38,114.42 L454.68,114.38 L454.99,114.35 L455.29,114.32 L455.59,114.28 L455.89,114.25 L456.20,114.21 L456.50,114.17 L456.80,114.13 L457.10,114.09 L457.41,114.04 L457.71,113.99 L458.01,113.95 L458.31,113.90 L458.62,113.84 L458.92,113.79 L459.22,113.73 L459.53,113.68 L459.83,113.62 L460.13,113.55 L460.43,113.49 L460.74,113.42 L461.04,113.36 L461.34,113.29 L461.64,113.21 L461.95,113.14 L462.25,113.06 L462.55,112.99 L462.86,112.91 L463.16,112.82 L463.46,112.74 L463.76,112.65 L464.07,112.56 L464.37,112.47 L464.67,112.37 L464.97,112.28 L465.28,112.18 L465.58,112.08 L465.88,111.98 L466.18,111.87 L466.49,111.76 L466.79,111.65 L467.09,111.54 L467.40,111.42 L467.70,111.31 L468.00,111.19 L468.30,111.06 L468.61,110.94 L468.91,110.81 L469.21,110.68 L469.51,110.55 L469.82,110.42 L470.12,110.28 L470.42,110.14 L470.72,110.00 L471.03,109.85 L471.33,109.71 L471.63,109.56 L471.94,109.41 L472.24,109.25 L472.54,109.09 L472.84,108.94 L473.15,108.77 L473.45,108.61 L473.75,108.44 L474.05,108.27 L474.36,108.10 L474.66,107.93 L474.96,107.75 L475.27,107.57 L475.57,107.39 L475.87,107.21 L476.17,107.02 L476.48,106.84 L476.78,106.65 L477.08,106.45 L477.38,106.26 L477.69,106.06 L477.99,105.86 L478.29,105.66 L478.59,105.45 L478.90,105.25 L479.20,105.04 L479.50,104.83 L479.81,104.61 L480.11,104.40 L480.41,104.18 L480.71,103.96 L481.02,103.74 L481.32,103.51 L481.62,103.29 L481.92,103.06 L482.23,102.83 L482.53,102.59 L482.83,102.36 L483.14,102.12 L483.44,101.88 L483.74,101.64 L484.04,101.40 L484.35,101.15 L484.65,100.91 L484.95,100.66 L485.25,100.41 L485.56,100.16 L485.86,99.90 L486.16,99.65 L486.46,99.39 L486.77,99.13 L487.07,98.87 L487.37,98.61 L487.68,98.34 L487.98,98.08 L488.28,97.81 L488.58,97.54 L488.89,97.27 L489.19,97.00 L489.49,96.73 L489.79,96.45 L490.10,96.18 L490.40,95.90 L490.70,95.62 L491.00,95.34 L491.31,95.06 L491.61,94.78 L491.91,94.50 L492.22,94.21 L492.52,93.93 L492.82,93.64 L493.12,93.35 L493.43,93.06 L493.73,92.77 L494.03,92.48 L494.33,92.19 L494.64,91.90 L494.94,91.61 L495.24,91.31 L495.55,91.02 L495.85,90.72 L496.15,90.42 L496.45,90.13 L496.76,89.83 L497.06,89.53 L497.36,89.23 L497.66,88.94 L497.97,88.64 L498.27,88.34 L498.57,88.04 L498.87,87.74 L499.18,87.43 L499.48,87.13 L499.78,86.83 L500.09,86.53 L500.39,86.23 L500.69,85.93 L500.99,85.63 L501.30,85.32 L501.60,85.02 L501.90,84.72 L502.20,84.42 L502.51,84.12 L502.81,83.81 L503.11,83.51 L503.42,83.21 L503.72,82.91 L504.02,82.61 L504.32,82.31 L504.63,82.01 L504.93,81.71 L505.23,81.41 L505.53,81.11 L505.84,80.81 L506.14,80.52 L506.44,80.22 L506.74,79.92 L507.05,79.63 L507.35,79.33 L507.65,79.04 L507.96,78.74 L508.26,78.45 L508.56,78.16 L508.86,77.87 L509.17,77.58 L509.47,77.29 L509.77,77.00 L510.07,76.71 L510.38,76.43 L510.68,76.14 L510.98,75.86 L511.29,75.57 L511.59,75.29 L511.89,75.01 L512.19,74.73 L512.50,74.45 L512.80,74.17 L513.10,73.90 L513.40,73.62 L513.71,73.35 L514.01,73.08 L514.31,72.81 L514.61,72.54 L514.92,72.27 L515.22,72.01 L515.52,71.74 L515.83,71.48 L516.13,71.22 L516.43,70.96 L516.73,70.70 L517.04,70.44 L517.34,70.19 L517.64,69.93 L517.94,69.68 L518.25,69.43 L518.55,69.19 L518.85,68.94 L519.15,68.69 L519.46,68.45 L519.76,68.21 L520.06,67.97 L520.37,67.74 L520.67,67.50 L520.97,67.27 L521.27,67.04 L521.58,66.81 L521.88,66.58 L522.18,66.35 L522.48,66.13 L522.79,65.91 L523.09,65.69 L523.39,65.47 L523.70,65.26 L524.00,65.05 L524.30,64.83 L524.60,64.63 L524.91,64.42 L525.21,64.21 L525.51,64.01 L525.81,63.81 L526.12,63.61 L526.42,63.42 L526.72,63.23 L527.02,63.03 L527.33,62.84 L527.63,62.66 L527.93,62.47 L528.24,62.29 L528.54,62.11 L528.84,61.93 L529.14,61.76 L529.45,61.58 L529.75,61.41 L530.05,61.24 L530.35,61.08 L530.66,60.91 L530.96,60.75 L531.26,60.59 L531.57,60.43 L531.87,60.28 L532.17,60.13 L532.47,59.98 L532.78,59.83 L533.08,59.68 L533.38,59.54 L533.68,59.40 L533.99,59.26 L534.29,59.12 L534.59,58.99 L534.89,58.85 L535.20,58.72 L535.50,58.60 L535.80,58.47 L536.11,58.35 L536.41,58.23 L536.71,58.11 L537.01,57.99 L537.32,57.88 L537.62,57.76 L537.92,57.65 L538.22,57.55 L538.53,57.44 L538.83,57.34 L539.13,57.24 L539.43,57.14 L539.74,57.04 L540.04,56.95 L540.34,56.85 L540.65,56.76 L540.95,56.67 L541.25,56.59 L541.55,56.50 L541.86,56.42 L542.16,56.34 L542.46,56.26 L542.76,56.19 L543.07,56.11 L543.37,56.04 L543.67,55.97 L543.98,55.90 L544.28,55.83 L544.58,55.77 L544.88,55.71 L545.19,55.65 L545.49,55.59 L545.79,55.53 L546.09,55.47 L546.40,55.42 L546.70,55.37 L547.00,55.32 L547.30,55.27 L547.61,55.22 L547.91,55.18 L548.21,55.13 L548.52,55.09 L548.82,55.05 L549.12,55.01 L549.42,54.97 L549.73,54.94 L550.03,54.90 L550.33,54.87 L550.63,54.84 L550.94,54.81 L551.24,54.78 L551.54,54.75 L551.85,54.72 L552.15,54.70 L552.45,54.68 L552.75,54.65 L553.06,54.63 L553.36,54.61 L553.66,54.59 L553.96,54.57 L554.27,54.56 L554.57,54.54 L554.87,54.53 L555.17,54.51 L555.48,54.50 L555.78,54.49 L556.08,54.48 L556.39,54.47 L556.69,54.46 L556.99,54.45 L557.29,54.44 L557.60,54.43 L557.90,54.43 L558.20,54.42 L558.50,54.42 L558.81,54.41 L559.11,54.41 L559.41,54.40 L559.72,54.40 L560.02,54.40 L560.32,54.39 L560.62,54.39 L560.93,54.39 L561.23,54.39 L561.53,54.39 L561.83,54.39 L562.14,54.39 L562.44,54.39 L562.74,54.39 L563.04,54.39 L563.35,54.39 L563.65,54.39 L565.15,54.39"/>
<path class="c s" stroke="#000" d="M79.35,505.35 L79.65,504.17 L79.96,502.98 L80.26,501.78 L80.56,500.59 L80.86,499.39 L81.17,498.18 L81.47,496.97 L81.77,495.76 L82.07,494.55 L82.38,493.33 L82.68,492.11 L82.98,490.88 L83.28,489.65 L83.59,488.42 L83.89,487.19 L84.19,485.95 L84.50,484.71 L84.80,483.46 L85.10,482.22 L85.40,480.97 L85.71,479.72 L86.01,478.47 L86.31,477.22 L86.61,475.96 L86.92,474.70 L87.22,473.44 L87.52,472.18 L87.83,470.92 L88.13,469.65 L88.43,468.39 L88.73,467.12 L89.04,465.85 L89.34,464.58 L89.64,463.31 L89.94,462.04 L90.25,460.77 L90.55,459.50 L90.85,458.23 L91.15,456.95 L91.46,455.68 L91.76,454.40 L92.06,453.13 L92.37,451.86 L92.67,450.58 L92.97,449.31 L93.27,448.04 L93.58,446.76 L93.88,445.49 L94.18,444.22 L94.48,442.95 L94.79,441.68 L95.09,440.41 L95.39,439.14 L95.70,437.87 L96.00,436.60 L96.30,435.34 L96.60,434.07 L96.91,432.81 L97.21,431.55 L97.51,430.29 L97.81,429.03 L98.12,427.77 L98.42,426.52 L98.72,425.26 L99.02,424.01 L99.33,422.76 L99.63,421.52 L99.93,420.27 L100.24,419.03 L100.54,417.79 L100.84,416.56 L101.14,415.32 L101.45,414.09 L101.75,412.86 L102.05,411.64 L102.35,410.41 L102.66,409.19 L102.96,407.98 L103.26,406.76 L103.56,405.55 L103.87,404.35 L104.17,403.14 L104.47,401.94 L104.78,400.75 L105.08,399.56 L105.38,398.37 L105.68,397.18 L105.99,396.00 L106.29,394.83 L106.59,393.65 L106.89,392.48 L107.20,391.32 L107.50,390.16 L107.80,389.00 L108.11,387.85 L108.41,386.71 L108.71,385.56 L109.01,384.43 L109.32,383.29 L109.62,382.16 L109.92,381.04 L110.22,379.92 L110.53,378.81 L110.83,377.70 L111.13,376.60 L111.43,375.50 L111.74,374.41 L112.04,373.32 L112.34,372.24 L112.65,371.16 L112.95,370.09 L113.25,369.02 L113.55,367.96 L113.86,366.91 L114.16,365.86 L114.46,364.82 L114.76,363.78 L115.07,362.75 L115.37,361.72 L115.67,360.70 L115.98,359.69 L116.28,358.68 L116.58,357.68 L116.88,356.69 L117.19,355.70 L117.49,354.71 L117.79,353.74 L118.09,352.77 L118.40,351.80 L118.70,350.85 L119.00,349.90 L119.30,348.95 L119.61,348.01 L119.91,347.08 L120.21,346.16 L120.52,345.24 L120.82,344.33 L121.12,343.43 L121.42,342.53 L121.73,341.64 L122.03,340.75 L122.33,339.88 L122.63,339.01 L122.94,338.14 L123.24,337.29 L123.54,336.44 L123.85,335.60 L124.15,334.76 L124.45,333.93 L124.75,333.11 L125.06,332.30 L125.36,331.49 L125.66,330.70 L125.96,329.90 L126.27,329.12 L126.57,328.34 L126.87,327.57 L127.17,326.81 L127.48,326.05 L127.78,325.31 L128.08,324.56 L128.39,323.83 L128.69,323.10 L128.99,322.39 L129.29,321.67 L129.60,320.97 L129.90,320.27 L130.20,319.58 L130.50,318.90 L130.81,318.23 L131.11,317.56 L131.41,316.90 L131.71,316.25 L132.02,315.61 L132.32,314.97 L132.62,314.34 L132.93,313.72 L133.23,313.10 L133.53,312.49 L133.83,311.89 L134.14,311.30 L134.44,310.72 L134.74,310.14 L135.04,309.57 L135.35,309.01 L135.65,308.45 L135.95,307.90 L136.26,307.36 L136.56,306.83 L136.86,306.30 L137.16,305.78 L137.47,305.27 L137.77,304.77 L138.07,304.27 L138.37,303.78 L138.68,303.30 L138.98,302.82 L139.28,302.35 L139.58,301.89 L139.89,301.44 L140.19,300.99 L140.49,300.55 L140.80,300.12 L141.10,299.69 L141.40,299.27 L141.70,298.86 L142.01,298.46 L142.31,298.06 L142.61,297.67 L142.91,297.28 L143.22,296.90 L143.52,296.53 L143.82,296.17 L144.13,295.81 L144.43,295.46 L144.73,295.12 L145.03,294.78 L145.34,294.45 L145.64,294.12 L145.94,293.80 L146.24,293.49 L146.55,293.19 L146.85,292.89 L147.15,292.59 L147.45,292.31 L147.76,292.02 L148.06,291.75 L148.36,291.48 L148.67,291.22 L148.97,290.96 L149.27,290.71 L149.57,290.46 L149.88,290.22 L150.18,289.99 L150.48,289.76 L150.78,289.54 L151.09,289.32 L151.39,289.11 L151.69,288.90 L152.00,288.70 L152.30,288.51 L152.60,288.31 L152.90,288.13 L153.21,287.95 L153.51,287.77 L153.81,287.60 L154.11,287.44 L154.42,287.27 L154.72,287.12 L155.02,286.97 L155.32,286.82 L155.63,286.68 L155.93,286.54 L156.23,286.40 L156.54,286.27 L156.84,286.15 L157.14,286.03 L157.44,285.91 L157.75,285.80 L158.05,285.69 L158.35,285.58 L158.65,285.48 L158.96,285.38 L159.26,285.29 L159.56,285.19 L159.86,285.11 L160.17,285.02 L160.47,284.94 L160.77,284.86 L161.08,284.79 L161.38,284.72 L161.68,284.65 L161.98,284.58 L162.29,284.52 L162.59,284.46 L162.89,284.40 L163.19,284.34 L163.50,284.29 L163.80,284.24 L164.10,284.19 L164.41,284.14 L164.71,284.10 L165.01,284.05 L165.31,284.01 L165.62,283.97 L165.92,283.94 L166.22,283.90 L166.52,283.87 L166.83,283.83 L167.13,283.80 L167.43,283.77 L167.73,283.74 L168.04,283.72 L168.34,283.69 L168.64,283.66 L168.95,283.64 L169.25,283.61 L169.55,283.59 L169.85,283.57 L170.16,283.54 L170.46,283.52 L170.76,283.50 L171.06,283.48 L171.37,283.46 L171.67,283.44 L171.97,283.41 L172.28,283.39 L172.58,283.37 L172.88,283.35 L173.18,283.33 L173.49,283.30 L173.79,283.28 L174.09,283.26 L174.39,283.23 L174.70,283.21 L175.00,283.18 L175.30,283.15 L175.60,283.12 L175.91,283.09 L176.21,283.06 L176.51,283.03 L176.82,283.00 L177.12,282.96 L177.42,282.93 L177.72,282.89 L178.03,282.85 L178.33,282.81 L178.63,282.77 L178.93,282.72 L179.24,282.68 L179.54,282.63 L179.84,282.58 L180.14,282.53 L180.45,282.47 L180.75,282.41 L181.05,282.36 L181.36,282.29 L181.66,282.23 L181.96,282.16 L182.26,282.10 L182.57,282.02 L182.87,281.95 L183.17,281.87 L183.47,281.79 L183.78,281.71 L184.08,281.63 L184.38,281.54 L184.69,281.45 L184.99,281.36 L185.29,281.26 L185.59,281.16 L185.90,281.06 L186.20,280.95 L186.50,280.84 L186.80,280.73 L187.11,280.62 L187.41,280.50 L187.71,280.38 L188.01,280.25 L188.32,280.12 L188.62,279.99 L188.92,279.85 L189.23,279.72 L189.53,279.57 L189.83,279.43 L190.13,279.28 L190.44,279.13 L190.74,278.97 L191.04,278.81 L191.34,278.65 L191.65,278.48 L191.95,278.31 L192.25,278.14 L192.56,277.96 L192.86,277.78 L193.16,277.60 L193.46,277.41 L193.77,277.22 L194.07,277.02 L194.37,276.82 L194.67,276.62 L194.98,276.41 L195.28,276.20 L195.58,275.99 L195.88,275.77 L196.19,275.55 L196.49,275.33 L196.79,275.10 L197.10,274.87 L197.40,274.64 L197.70,274.40 L198.00,274.16 L198.31,273.92 L198.61,273.67 L198.91,273.42 L199.21,273.16 L199.52,272.91 L199.82,272.65 L200.12,272.38 L200.43,272.11 L200.73,271.84 L201.03,271.57 L201.33,271.29 L201.64,271.01 L201.94,270.73 L202.24,270.44 L202.54,270.16 L202.85,269.86 L203.15,269.57 L203.45,269.27 L203.75,268.97 L204.06,268.67 L204.36,268.36 L204.66,268.05 L204.97,267.74 L205.27,267.43 L205.57,267.11 L205.87,266.79 L206.18,266.47 L206.48,266.15 L206.78,265.82 L207.08,265.49 L207.39,265.16 L207.69,264.83 L207.99,264.49 L208.29,264.16 L208.60,263.82 L208.90,263.48 L209.20,263.13 L209.51,262.79 L209.81,262.44 L210.11,262.09 L210.41,261.74 L210.72,261.39 L211.02,261.03 L211.32,260.68 L211.62,260.32 L211.93,259.96 L212.23,259.60 L212.53,259.24 L212.84,258.88 L213.14,258.52 L213.44,258.15 L213.74,257.79 L214.05,257.42 L214.35,257.05 L214.65,256.68 L214.95,256.31 L215.26,255.94 L215.56,255.57 L215.86,255.20 L216.16,254.83 L216.47,254.45 L216.77,254.08 L217.07,253.70 L217.38,253.33 L217.68,252.95 L217.98,252.58 L218.28,252.20 L218.59,251.82 L218.89,251.45 L219.19,251.07 L219.49,250.70 L219.80,250.32 L220.10,249.94 L220.40,249.57 L220.71,249.19 L221.01,248.81 L221.31,248.44 L221.61,248.06 L221.92,247.69 L222.22,247.31 L222.52,246.94 L222.82,246.56 L223.13,246.19 L223.43,245.82 L223.73,245.44 L224.03,245.07 L224.34,244.70 L224.64,244.33 L224.94,243.96 L225.25,243.59 L225.55,243.23 L225.85,242.86 L226.15,242.49 L226.46,242.13 L226.76,241.77 L227.06,241.40 L227.36,241.04 L227.67,240.68 L227.97,240.32 L228.27,239.97 L228.57,239.61 L228.88,239.25 L229.18,238.90 L229.48,238.55 L229.79,238.20 L230.09,237.85 L230.39,237.50 L230.69,237.15 L231.00,236.81 L231.30,236.47 L231.60,236.12 L231.90,235.78 L232.21,235.45 L232.51,235.11 L232.81,234.77 L233.12,234.44 L233.42,234.11 L233.72,233.78 L234.02,233.45 L234.33,233.13 L234.63,232.80 L234.93,232.48 L235.23,232.16 L235.54,231.84 L235.84,231.52 L236.14,231.21 L236.44,230.89 L236.75,230.58 L237.05,230.28 L237.35,229.97 L237.66,229.66 L237.96,229.36 L238.26,229.06 L238.56,228.76 L238.87,228.46 L239.17,228.17 L239.47,227.88 L239.77,227.59 L240.08,227.30 L240.38,227.01 L240.68,226.73 L240.99,226.44 L241.29,226.16 L241.59,225.89 L241.89,225.61 L242.20,225.34 L242.50,225.06 L242.80,224.79 L243.10,224.53 L243.41,224.26 L243.71,224.00 L244.01,223.74 L244.31,223.48 L244.62,223.22 L244.92,222.96 L245.22,222.71 L245.53,222.46 L245.83,222.21 L246.13,221.96 L246.43,221.72 L246.74,221.47 L247.04,221.23 L247.34,220.99 L247.64,220.76 L247.95,220.52 L248.25,220.29 L248.55,220.05 L248.85,219.82 L249.16,219.60 L249.46,219.37 L249.76,219.15 L250.07,218.92 L250.37,218.70 L250.67,218.49 L250.97,218.27 L251.28,218.05 L251.58,217.84 L251.88,217.63 L252.18,217.42 L252.49,217.21 L252.79,217.00 L253.09,216.80 L253.40,216.59 L253.70,216.39 L254.00,216.19 L254.30,215.99 L254.61,215.79 L254.91,215.60 L255.21,215.40 L255.51,215.21 L255.82,215.02 L256.12,214.83 L256.42,214.64 L256.72,214.45 L257.03,214.26 L257.33,214.08 L257.63,213.89 L257.94,213.71 L258.24,213.53 L258.54,213.35 L258.84,213.17 L259.15,212.99 L259.45,212.81 L259.75,212.64 L260.05,212.46 L260.36,212.28 L260.66,212.11 L260.96,211.94 L261.27,211.77 L261.57,211.59 L261.87,211.42 L262.17,211.25 L262.48,211.08 L262.78,210.91 L263.08,210.75 L263.38,210.58 L263.69,210.41 L263.99,210.24 L264.29,210.08 L264.59,209.91 L264.90,209.75 L265.20,209.58 L265.50,209.42 L265.81,209.25 L266.11,209.09 L266.41,208.93 L266.71,208.76 L267.02,208.60 L267.32,208.44 L267.62,208.27 L267.92,208.11 L268.23,207.95 L268.53,207.78 L268.83,207.62 L269.14,207.46 L269.44,207.30 L269.74,207.13 L270.04,206.97 L270.35,206.81 L270.65,206.64 L270.95,206.48 L271.25,206.31 L271.56,206.15 L271.86,205.98 L272.16,205.82 L272.46,205.65 L272.77,205.49 L273.07,205.32 L273.37,205.15 L273.68,204.99 L273.98,204.82 L274.28,204.65 L274.58,204.48 L274.89,204.31 L275.19,204.14 L275.49,203.97 L275.79,203.80 L276.10,203.62 L276.40,203.45 L276.70,203.28 L277.00,203.10 L277.31,202.93 L277.61,202.75 L277.91,202.57 L278.22,202.40 L278.52,202.22 L278.82,202.04 L279.12,201.86 L279.43,201.67 L279.73,201.49 L280.03,201.31 L280.33,201.12 L280.64,200.94 L280.94,200.75 L281.24,200.56 L281.55,200.38 L281.85,200.19 L282.15,199.99 L282.45,199.80 L282.76,199.61 L283.06,199.42 L283.36,199.22 L283.66,199.02 L283.97,198.83 L284.27,198.63 L284.57,198.43 L284.87,198.23 L285.18,198.03 L285.48,197.82 L285.78,197.62 L286.09,197.41 L286.39,197.21 L286.69,197.00 L286.99,196.79 L287.30,196.58 L287.60,196.37 L287.90,196.16 L288.20,195.94 L288.51,195.73 L288.81,195.51 L289.11,195.30 L289.42,195.08 L289.72,194.86 L290.02,194.64 L290.32,194.42 L290.63,194.19 L290.93,193.97 L291.23,193.75 L291.53,193.52 L291.84,193.29 L292.14,193.06 L292.44,192.84 L292.74,192.61 L293.05,192.37 L293.35,192.14 L293.65,191.91 L293.96,191.67 L294.26,191.44 L294.56,191.20 L294.86,190.96 L295.17,190.73 L295.47,190.49 L295.77,190.25 L296.07,190.01 L296.38,189.76 L296.68,189.52 L296.98,189.28 L297.28,189.03 L297.59,188.79 L297.89,188.54 L298.19,188.30 L298.50,188.05 L298.80,187.80 L299.10,187.55 L299.40,187.30 L299.71,187.05 L300.01,186.80 L300.31,186.55 L300.61,186.30 L300.92,186.05 L301.22,185.79 L301.52,185.54 L301.83,185.29 L302.13,185.03 L302.43,184.78 L302.73,184.52 L303.04,184.27 L303.34,184.01 L303.64,183.76 L303.94,183.50 L304.25,183.24 L304.55,182.99 L304.85,182.73 L305.15,182.48 L305.46,182.22 L305.76,181.96 L306.06,181.70 L306.37,181.45 L306.67,181.19 L306.97,180.93 L307.27,180.68 L307.58,180.42 L307.88,180.16 L308.18,179.91 L308.48,179.65 L308.79,179.39 L309.09,179.14 L309.39,178.88 L309.70,178.63 L310.00,178.37 L310.30,178.12 L310.60,177.87 L310.91,177.61 L311.21,177.36 L311.51,177.11 L311.81,176.85 L312.12,176.60 L312.42,176.35 L312.72,176.10 L313.02,175.85 L313.33,175.60 L313.63,175.36 L313.93,175.11 L314.24,174.86 L314.54,174.62 L314.84,174.37 L315.14,174.13 L315.45,173.89 L315.75,173.64 L316.05,173.40 L316.35,173.16 L316.66,172.93 L316.96,172.69 L317.26,172.45 L317.57,172.22 L317.87,171.98 L318.17,171.75 L318.47,171.52 L318.78,171.28 L319.08,171.05 L319.38,170.83 L319.68,170.60 L319.99,170.37 L320.29,170.15 L320.59,169.93 L320.89,169.71 L321.20,169.48 L321.50,169.27 L321.80,169.05 L322.11,168.83 L322.41,168.62 L322.71,168.41 L323.01,168.19 L323.32,167.99 L323.62,167.78 L323.92,167.57 L324.22,167.37 L324.53,167.16 L324.83,166.96 L325.13,166.76 L325.43,166.56 L325.74,166.37 L326.04,166.17 L326.34,165.98 L326.65,165.79 L326.95,165.60 L327.25,165.41 L327.55,165.22 L327.86,165.04 L328.16,164.86 L328.46,164.68 L328.76,164.50 L329.07,164.32 L329.37,164.15 L329.67,163.97 L329.98,163.80 L330.28,163.63 L330.58,163.46 L330.88,163.30 L331.19,163.13 L331.49,162.97 L331.79,162.81 L332.09,162.65 L332.40,162.50 L332.70,162.34 L333.00,162.19 L333.30,162.04 L333.61,161.89 L333.91,161.74 L334.21,161.60 L334.52,161.46 L334.82,161.31 L335.12,161.17 L335.42,161.04 L335.73,160.90 L336.03,160.77 L336.33,160.64 L336.63,160.50 L336.94,160.38 L337.24,160.25 L337.54,160.12 L337.85,160.00 L338.15,159.88 L338.45,159.76 L338.75,159.64 L339.06,159.53 L339.36,159.41 L339.66,159.30 L339.96,159.19 L340.27,159.08 L340.57,158.97 L340.87,158.87 L341.17,158.76 L341.48,158.66 L341.78,158.56 L342.08,158.46 L342.39,158.36 L342.69,158.26 L342.99,158.17 L343.29,158.07 L343.60,157.98 L343.90,157.89 L344.20,157.80 L344.50,157.71 L344.81,157.63 L345.11,157.54 L345.41,157.46 L345.72,157.37 L346.02,157.29 L346.32,157.21 L346.62,157.13 L346.93,157.05 L347.23,156.98 L347.53,156.90 L347.83,156.82 L348.14,156.75 L348.44,156.68 L348.74,156.61 L349.04,156.53 L349.35,156.46 L349.65,156.39 L349.95,156.33 L350.26,156.26 L350.56,156.19 L350.86,156.12 L351.16,156.06 L351.47,155.99 L351.77,155.93 L352.07,155.86 L352.37,155.80 L352.68,155.74 L352.98,155.68 L353.28,155.61 L353.58,155.55 L353.89,155.49 L354.19,155.43 L354.49,155.37 L354.80,155.31 L355.10,155.24 L355.40,155.18 L355.70,155.12 L356.01,155.06 L356.31,155.00 L356.61,154.94 L356.91,154.88 L357.22,154.82 L357.52,154.76 L357.82,154.70 L358.13,154.63 L358.43,154.57 L358.73,154.51 L359.03,154.45 L359.34,154.38 L359.64,154.32 L359.94,154.26 L360.24,154.19 L360.55,154.12 L360.85,154.06 L361.15,153.99 L361.45,153.92 L361.76,153.85 L362.06,153.78 L362.36,153.71 L362.67,153.64 L362.97,153.57 L363.27,153.50 L363.57,153.42 L363.88,153.35 L364.18,153.27 L364.48,153.19 L364.78,153.11 L365.09,153.03 L365.39,152.95 L365.69,152.87 L366.00,152.78 L366.30,152.70 L366.60,152.61 L366.90,152.52 L367.21,152.43 L367.51,152.34 L367.81,152.25 L368.11,152.15 L368.42,152.05 L368.72,151.95 L369.02,151.85 L369.32,151.75 L369.63,151.65 L369.93,151.54 L370.23,151.43 L370.54,151.32 L370.84,151.21 L371.14,151.10 L371.44,150.98 L371.75,150.86 L372.05,150.74 L372.35,150.62 L372.65,150.49 L372.96,150.37 L373.26,150.24 L373.56,150.11 L373.86,149.97 L374.17,149.84 L374.47,149.70 L374.77,149.56 L375.08,149.42 L375.38,149.27 L375.68,149.12 L375.98,148.97 L376.29,148.82 L376.59,148.67 L376.89,148.51 L377.19,148.35 L377.50,148.19 L377.80,148.02 L378.10,147.85 L378.41,147.68 L378.71,147.51 L379.01,147.33 L379.31,147.16 L379.62,146.98 L379.92,146.79 L380.22,146.61 L380.52,146.42 L380.83,146.23 L381.13,146.03 L381.43,145.84 L381.73,145.64 L382.04,145.44 L382.34,145.23 L382.64,145.02 L382.95,144.81 L383.25,144.60 L383.55,144.39 L383.85,144.17 L384.16,143.95 L384.46,143.73 L384.76,143.50 L385.06,143.27 L385.37,143.04 L385.67,142.81 L385.97,142.57 L386.28,142.33 L386.58,142.09 L386.88,141.85 L387.18,141.60 L387.49,141.35 L387.79,141.10 L388.09,140.85 L388.39,140.59 L388.70,140.33 L389.00,140.07 L389.30,139.81 L389.60,139.54 L389.91,139.27 L390.21,139.00 L390.51,138.73 L390.82,138.45 L391.12,138.17 L391.42,137.89 L391.72,137.61 L392.03,137.33 L392.33,137.04 L392.63,136.75 L392.93,136.46 L393.24,136.17 L393.54,135.87 L393.84,135.57 L394.14,135.27 L394.45,134.97 L394.75,134.67 L395.05,134.37 L395.36,134.06 L395.66,133.75 L395.96,133.44 L396.26,133.13 L396.57,132.81 L396.87,132.50 L397.17,132.18 L397.47,131.86 L397.78,131.54 L398.08,131.22 L398.38,130.90 L398.69,130.58 L398.99,130.25 L399.29,129.92 L399.59,129.60 L399.90,129.27 L400.20,128.94 L400.50,128.60 L400.80,128.27 L401.11,127.94 L401.41,127.60 L401.71,127.27 L402.01,126.93 L402.32,126.60 L402.62,126.26 L402.92,125.92 L403.23,125.58 L403.53,125.24 L403.83,124.90 L404.13,124.56 L404.44,124.22 L404.74,123.88 L405.04,123.54 L405.34,123.19 L405.65,122.85 L405.95,122.51 L406.25,122.17 L406.56,121.82 L406.86,121.48 L407.16,121.14 L407.46,120.80 L407.77,120.45 L408.07,120.11 L408.37,119.77 L408.67,119.43 L408.98,119.09 L409.28,118.74 L409.58,118.40 L409.88,118.06 L410.19,117.72 L410.49,117.39 L410.79,117.05 L411.10,116.71 L411.40,116.37 L411.70,116.04 L412.00,115.70 L412.31,115.37 L412.61,115.04 L412.91,114.71 L413.21,114.38 L413.52,114.05 L413.82,113.72 L414.12,113.39 L414.43,113.07 L414.73,112.74 L415.03,112.42 L415.33,112.10 L415.64,111.78 L415.94,111.46 L416.24,111.14 L416.54,110.83 L416.85,110.51 L417.15,110.20 L417.45,109.89 L417.75,109.59 L418.06,109.28 L418.36,108.98 L418.66,108.68 L418.97,108.38 L419.27,108.08 L419.57,107.78 L419.87,107.49 L420.18,107.20 L420.48,106.91 L420.78,106.62 L421.08,106.34 L421.39,106.06 L421.69,105.78 L421.99,105.50 L422.29,105.23 L422.60,104.96 L422.90,104.69 L423.20,104.42 L423.51,104.16 L423.81,103.90 L424.11,103.64 L424.41,103.38 L424.72,103.13 L425.02,102.88 L425.32,102.63 L425.62,102.39 L425.93,102.15 L426.23,101.91 L426.53,101.67 L426.84,101.44 L427.14,101.21 L427.44,100.99 L427.74,100.76 L428.05,100.54 L428.35,100.33 L428.65,100.11 L428.95,99.90 L429.26,99.70 L429.56,99.49 L429.86,99.29 L430.16,99.10 L430.47,98.90 L430.77,98.71 L431.07,98.52 L431.38,98.34 L431.68,98.16 L431.98,97.98 L432.28,97.81 L432.59,97.64 L432.89,97.47 L433.19,97.31 L433.49,97.15 L433.80,96.99 L434.10,96.84 L434.40,96.69 L434.71,96.54 L435.01,96.40 L435.31,96.26 L435.61,96.13 L435.92,95.99 L436.22,95.87 L436.52,95.74 L436.82,95.62 L437.13,95.50 L437.43,95.39 L437.73,95.27 L438.03,95.17 L438.34,95.06 L438.64,94.96 L438.94,94.86 L439.25,94.77 L439.55,94.68 L439.85,94.59 L440.15,94.51 L440.46,94.43 L440.76,94.35 L441.06,94.28 L441.36,94.21 L441.67,94.14 L441.97,94.07 L442.27,94.01 L442.58,93.96 L442.88,93.90 L443.18,93.85 L443.48,93.81 L443.79,93.76 L444.09,93.72 L444.39,93.68 L444.69,93.65 L445.00,93.62 L445.30,93.59 L445.60,93.56 L445.90,93.54 L446.21,93.52 L446.51,93.50 L446.81,93.49 L447.12,93.48 L447.42,93.47 L447.72,93.46 L448.02,93.46 L448.33,93.46 L448.63,93.46 L448.93,93.47 L449.23,93.48 L449.54,93.49 L449.84,93.50 L450.14,93.51 L450.44,93.53 L450.75,93.55 L451.05,93.57 L451.35,93.60 L451.66,93.63 L451.96,93.66 L452.26,93.69 L452.56,93.72 L452.87,93.76 L453.17,93.79 L453.47,93.83 L453.77,93.88 L454.08,93.92 L454.38,93.96 L454.68,94.01 L454.99,94.06 L455.29,94.11 L455.59,94.16 L455.89,94.21 L456.20,94.27 L456.50,94.32 L456.80,94.38 L457.10,94.44 L457.41,94.50 L457.71,94.56 L458.01,94.62 L458.31,94.69 L458.62,94.75 L458.92,94.81 L459.22,94.88 L459.53,94.95 L459.83,95.01 L460.13,95.08 L460.43,95.15 L460.74,95.22 L461.04,95.29 L461.34,95.36 L461.64,95.43 L461.95,95.50 L462.25,95.57 L462.55,95.64 L462.86,95.71 L463.16,95.78 L463.46,95.85 L463.76,95.92 L464.07,95.99 L464.37,96.06 L464.67,96.13 L464.97,96.20 L465.28,96.27 L465.58,96.34 L465.88,96.41 L466.18,96.47 L466.49,96.54 L466.79,96.61 L467.09,96.67 L467.40,96.73 L467.70,96.80 L468.00,96.86 L468.30,96.92 L468.61,96.98 L468.91,97.03 L469.21,97.09 L469.51,97.14 L469.82,97.20 L470.12,97.25 L470.42,97.30 L470.72,97.35 L471.03,97.39 L471.33,97.44 L471.63,97.48 L471.94,97.52 L472.24,97.56 L472.54,97.60 L472.84,97.63 L473.15,97.66 L473.45,97.69 L473.75,97.72 L474.05,97.75 L474.36,97.77 L474.66,97.79 L474.96,97.81 L475.27,97.82 L475.57,97.83 L475.87,97.84 L476.17,97.85 L476.48,97.85 L476.78,97.85 L477.08,97.85 L477.38,97.85 L477.69,97.84 L477.99,97.83 L478.29,97.81 L478.59,97.79 L478.90,97.77 L479.20,97.75 L479.50,97.72 L479.81,97.69 L480.11,97.65 L480.41,97.61 L480.71,97.57 L481.02,97.53 L481.32,97.48 L481.62,97.43 L481.92,97.37 L482.23,97.31 L482.53,97.24 L482.83,97.18 L483.14,97.10 L483.44,97.03 L483.74,96.95 L484.04,96.87 L484.35,96.78 L484.65,96.69 L484.95,96.59 L485.25,96.49 L485.56,96.39 L485.86,96.28 L486.16,96.17 L486.46,96.05 L486.77,95.93 L487.07,95.81 L487.37,95.68 L487.68,95.55 L487.98,95.41 L488.28,95.27 L488.58,95.12 L488.89,94.98 L489.19,94.82 L489.49,94.66 L489.79,94.50 L490.10,94.34 L490.40,94.16 L490.70,93.99 L491.00,93.81 L491.31,93.63 L491.61,93.44 L491.91,93.25 L492.22,93.05 L492.52,92.85 L492.82,92.65 L493.12,92.44 L493.43,92.22 L493.73,92.01 L494.03,91.79 L494.33,91.56 L494.64,91.33 L494.94,91.10 L495.24,90.86 L495.55,90.62 L495.85,90.37 L496.15,90.12 L496.45,89.87 L496.76,89.61 L497.06,89.35 L497.36,89.09 L497.66,88.82 L497.97,88.54 L498.27,88.27 L498.57,87.99 L498.87,87.70 L499.18,87.42 L499.48,87.12 L499.78,86.83 L500.09,86.53 L500.39,86.23 L500.69,85.92 L500.99,85.61 L501.30,85.30 L501.60,84.99 L501.90,84.67 L502.20,84.35 L502.51,84.02 L502.81,83.69 L503.11,83.36 L503.42,83.03 L503.72,82.69 L504.02,82.35 L504.32,82.01 L504.63,81.66 L504.93,81.31 L505.23,80.96 L505.53,80.61 L505.84,80.25 L506.14,79.89 L506.44,79.53 L506.74,79.17 L507.05,78.80 L507.35,78.43 L507.65,78.06 L507.96,77.69 L508.26,77.32 L508.56,76.94 L508.86,76.56 L509.17,76.18 L509.47,75.80 L509.77,75.42 L510.07,75.03 L510.38,74.65 L510.68,74.26 L510.98,73.87 L511.29,73.48 L511.59,73.09 L511.89,72.69 L512.19,72.30 L512.50,71.91 L512.80,71.51 L513.10,71.11 L513.40,70.71 L513.71,70.32 L514.01,69.92 L514.31,69.52 L514.61,69.12 L514.92,68.72 L515.22,68.32 L515.52,67.91 L515.83,67.51 L516.13,67.11 L516.43,66.71 L516.73,66.31 L517.04,65.91 L517.34,65.50 L517.64,65.10 L517.94,64.70 L518.25,64.30 L518.55,63.90 L518.85,63.50 L519.15,63.10 L519.46,62.71 L519.76,62.31 L520.06,61.91 L520.37,61.52 L520.67,61.12 L520.97,60.73 L521.27,60.33 L521.58,59.94 L521.88,59.55 L522.18,59.16 L522.48,58.78 L522.79,58.39 L523.09,58.01 L523.39,57.62 L523.70,57.24 L524.00,56.86 L524.30,56.49 L524.60,56.11 L524.91,55.74 L525.21,55.37 L525.51,55.00 L525.81,54.63 L526.12,54.26 L526.42,53.90 L526.72,53.54 L527.02,53.18 L527.33,52.83 L527.63,52.47 L527.93,52.12 L528.24,51.77 L528.54,51.43 L528.84,51.09 L529.14,50.75 L529.45,50.41 L529.75,50.08 L530.05,49.75 L530.35,49.42 L530.66,49.09 L530.96,48.77 L531.26,48.45 L531.57,48.14 L531.87,47.83 L532.17,47.52 L532.47,47.21 L532.78,46.91 L533.08,46.61 L533.38,46.32 L533.68,46.03 L533.99,45.74 L534.29,45.46 L534.59,45.18 L534.89,44.90 L535.20,44.63 L535.50,44.36 L535.80,44.09 L536.11,43.83 L536.41,43.58 L536.71,43.32 L537.01,43.07 L537.32,42.83 L537.62,42.59 L537.92,42.35 L538.22,42.12 L538.53,41.89 L538.83,41.67 L539.13,41.44 L539.43,41.23 L539.74,41.02 L540.04,40.81 L540.34,40.61 L540.65,40.41 L540.95,40.21 L541.25,40.02 L541.55,39.84 L541.86,39.65 L542.16,39.48 L542.46,39.31 L542.76,39.14 L543.07,38.97 L543.37,38.81 L543.67,38.66 L543.98,38.51 L544.28,38.36 L544.58,38.22 L544.88,38.08 L545.19,37.95 L545.49,37.82 L545.79,37.70 L546.09,37.58 L546.40,37.46 L546.70,37.35 L547.00,37.25 L547.30,37.15 L547.61,37.05 L547.91,36.96 L548.21,36.87 L548.52,36.78 L548.82,36.70 L549.12,36.63 L549.42,36.56 L549.73,36.49 L550.03,36.43 L550.33,36.37 L550.63,36.32 L550.94,36.27 L551.24,36.23 L551.54,36.19 L551.85,36.15 L552.15,36.12 L552.45,36.09 L552.75,36.07 L553.06,36.05 L553.36,36.03 L553.66,36.02 L553.96,36.01 L554.27,36.01 L554.57,36.01 L554.87,36.01 L555.17,36.02 L555.48,36.03 L555.78,36.05 L556.08,36.07 L556.39,36.09 L556.69,36.12 L556.99,36.15 L557.29,36.19 L557.60,36.22 L557.90,36.26 L558.20,36.31 L558.50,36.36 L558.81,36.41 L559.11,36.47 L559.41,36.52 L559.72,36.59 L560.02,36.65 L560.32,36.72 L560.62,36.79 L560.93,36.86 L561.23,36.94 L561.53,37.02 L561.83,37.10 L562.14,37.19 L562.44,37.28 L562.74,37.37 L563.04,37.46 L563.35,37.56 L563.65,37.65 L565.08,38.12"/>
<circle cx="79.35" cy="505.35" r="1.5" fill="#f00"/>
<path class="c d" stroke="#f00" stroke-dashoffset="-0.4" d="M79.35,505.35 L79.65,505.28 L79.96,505.15 L80.26,504.97 L80.56,504.77 L80.86,504.54 L81.17,504.29 L81.47,504.01 L81.77,503.71 L82.07,503.40 L82.38,503.07 L82.68,502.71 L82.98,502.35 L83.28,501.96 L83.59,501.57 L83.89,501.16 L84.19,500.73 L84.50,500.29 L84.80,499.84 L85.10,499.38 L85.40,498.90 L85.71,498.41 L86.01,497.91 L86.31,497.40 L86.61,496.88 L86.92,496.35 L87.22,495.81 L87.52,495.25 L87.83,494.69 L88.13,494.12 L88.43,493.54 L88.73,492.95 L89.04,492.35 L89.34,491.74 L89.64,491.12 L89.94,490.49 L90.25,489.86 L90.55,489.22 L90.85,488.56 L91.15,487.91 L91.46,487.24 L91.76,486.57 L92.06,485.88 L92.37,485.20 L92.67,484.50 L92.97,483.80 L93.27,483.09 L93.58,482.37 L93.88,481.65 L94.18,480.92 L94.48,480.18 L94.79,479.44 L95.09,478.69 L95.39,477.93 L95.70,477.17 L96.00,476.41 L96.30,475.63 L96.60,474.86 L96.91,474.07 L97.21,473.28 L97.51,472.49 L97.81,471.69 L98.12,470.88 L98.42,470.07 L98.72,469.26 L99.02,468.44 L99.33,467.61 L99.63,466.78 L99.93,465.95 L100.24,465.11 L100.54,464.27 L100.84,463.42 L101.14,462.57 L101.45,461.72 L101.75,460.86 L102.05,460.00 L102.35,459.13 L102.66,458.26 L102.96,457.38 L103.26,456.51 L103.56,455.62 L103.87,454.74 L104.17,453.85 L104.47,452.96 L104.78,452.07 L105.08,451.17 L105.38,450.27 L105.68,449.36 L105.99,448.46 L106.29,447.55 L106.59,446.64 L106.89,445.72 L107.20,444.80 L107.50,443.89 L107.80,442.96 L108.11,442.04 L108.41,441.11 L108.71,440.19 L109.01,439.26 L109.32,438.32 L109.62,437.39 L109.92,436.45 L110.22,435.51 L110.53,434.58 L110.83,433.63 L111.13,432.69 L111.43,431.75 L111.74,430.80 L112.04,429.86 L112.34,428.91 L112.65,427.96 L112.95,427.01 L113.25,426.06 L113.55,425.11 L113.86,424.15 L114.16,423.20 L114.46,422.24 L114.76,421.29 L115.07,420.33 L115.37,419.38 L115.67,418.42 L115.98,417.46 L116.28,416.51 L116.58,415.55 L116.88,414.59 L117.19,413.63 L117.49,412.67 L117.79,411.72 L118.09,410.76 L118.40,409.80 L118.70,408.84 L119.00,407.88 L119.30,406.93 L119.61,405.97 L119.91,405.01 L120.21,404.06 L120.52,403.10 L120.82,402.15 L121.12,401.20 L121.42,400.24 L121.73,399.29 L122.03,398.34 L122.33,397.39 L122.63,396.44 L122.94,395.49 L123.24,394.55 L123.54,393.60 L123.85,392.66 L124.15,391.72 L124.45,390.77 L124.75,389.83 L125.06,388.90 L125.36,387.96 L125.66,387.02 L125.96,386.09 L126.27,385.16 L126.57,384.23 L126.87,383.30 L127.17,382.37 L127.48,381.45 L127.78,380.53 L128.08,379.61 L128.39,378.69 L128.69,377.77 L128.99,376.86 L129.29,375.95 L129.60,375.04 L129.90,374.14 L130.20,373.23 L130.50,372.33 L130.81,371.43 L131.11,370.54 L131.41,369.64 L131.71,368.75 L132.02,367.86 L132.32,366.98 L132.62,366.10 L132.93,365.22 L133.23,364.34 L133.53,363.47 L133.83,362.60 L134.14,361.73 L134.44,360.87 L134.74,360.01 L135.04,359.15 L135.35,358.29 L135.65,357.44 L135.95,356.60 L136.26,355.75 L136.56,354.91 L136.86,354.08 L137.16,353.24 L137.47,352.41 L137.77,351.59 L138.07,350.76 L138.37,349.95 L138.68,349.13 L138.98,348.32 L139.28,347.51 L139.58,346.71 L139.89,345.91 L140.19,345.12 L140.49,344.32 L140.80,343.54 L141.10,342.75 L141.40,341.98 L141.70,341.20 L142.01,340.43 L142.31,339.66 L142.61,338.90 L142.91,338.14 L143.22,337.39 L143.52,336.64 L143.82,335.90 L144.13,335.16 L144.43,334.42 L144.73,333.69 L145.03,332.96 L145.34,332.24 L145.64,331.52 L145.94,330.81 L146.24,330.10 L146.55,329.40 L146.85,328.70 L147.15,328.01 L147.45,327.32 L147.76,326.63 L148.06,325.95 L148.36,325.28 L148.67,324.61 L148.97,323.95 L149.27,323.29 L149.57,322.63 L149.88,321.98 L150.18,321.33 L150.48,320.69 L150.78,320.06 L151.09,319.43 L151.39,318.80 L151.69,318.18 L152.00,317.57 L152.30,316.96 L152.60,316.36 L152.90,315.76 L153.21,315.16 L153.51,314.57 L153.81,313.99 L154.11,313.41 L154.42,312.84 L154.72,312.27 L155.02,311.71 L155.32,311.15 L155.63,310.60 L155.93,310.05 L156.23,309.51 L156.54,308.97 L156.84,308.44 L157.14,307.91 L157.44,307.39 L157.75,306.88 L158.05,306.37 L158.35,305.86 L158.65,305.37 L158.96,304.87 L159.26,304.38 L159.56,303.90 L159.86,303.42 L160.17,302.95 L160.47,302.48 L160.77,302.02 L161.08,301.57 L161.38,301.11 L161.68,300.67 L161.98,300.23 L162.29,299.79 L162.59,299.37 L162.89,298.94 L163.19,298.52 L163.50,298.11 L163.80,297.70 L164.10,297.30 L164.41,296.90 L164.71,296.51 L165.01,296.12 L165.31,295.74 L165.62,295.37 L165.92,295.00 L166.22,294.63 L166.52,294.27 L166.83,293.92 L167.13,293.57 L167.43,293.22 L167.73,292.88 L168.04,292.55 L168.34,292.22 L168.64,291.90 L168.95,291.58 L169.25,291.26 L169.55,290.96 L169.85,290.65 L170.16,290.35 L170.46,290.06 L170.76,289.77 L171.06,289.49 L171.37,289.21 L171.67,288.94 L171.97,288.67 L172.28,288.41 L172.58,288.15 L172.88,287.90 L173.18,287.65 L173.49,287.40 L173.79,287.16 L174.09,286.93 L174.39,286.70 L174.70,286.48 L175.00,286.26 L175.30,286.04 L175.60,285.83 L175.91,285.62 L176.21,285.42 L176.51,285.22 L176.82,285.03 L177.12,284.84 L177.42,284.66 L177.72,284.48 L178.03,284.30 L178.33,284.13 L178.63,283.96 L178.93,283.80 L179.24,283.64 L179.54,283.49 L179.84,283.34 L180.14,283.19 L180.45,283.05 L180.75,282.91 L181.05,282.78 L181.36,282.65 L181.66,282.52 L181.96,282.40 L182.26,282.28 L182.57,282.16 L182.87,282.05 L183.17,281.94 L183.47,281.84 L183.78,281.73 L184.08,281.64 L184.38,281.54 L184.69,281.45 L184.99,281.36 L185.29,281.28 L185.59,281.20 L185.90,281.12 L186.20,281.04 L186.50,280.97 L186.80,280.90 L187.11,280.83 L187.41,280.77 L187.71,280.71 L188.01,280.65 L188.32,280.60 L188.62,280.54 L188.92,280.49 L189.23,280.45 L189.53,280.40 L189.83,280.36 L190.13,280.32 L190.44,280.28 L190.74,280.24 L191.04,280.21 L191.34,280.18 L191.65,280.15 L191.95,280.12 L192.25,280.09 L192.56,280.07 L192.86,280.05 L193.16,280.03 L193.46,280.01 L193.77,279.99 L194.07,279.98 L194.37,279.96 L194.67,279.95 L194.98,279.94 L195.28,279.93 L195.58,279.92 L195.88,279.91 L196.19,279.90 L196.49,279.89 L196.79,279.89 L197.10,279.88 L197.40,279.88 L197.70,279.88 L198.00,279.87 L198.31,279.87 L198.61,279.87 L198.91,279.87 L199.21,279.87 L199.52,279.87 L199.82,279.87 L200.12,279.87 L200.43,279.87 L200.73,279.87 L201.03,279.87 L201.33,279.87 L201.64,279.87 L201.94,279.87 L202.24,279.87 L202.54,279.86 L202.85,279.86 L203.15,279.86 L203.45,279.86 L203.75,279.85 L204.06,279.85 L204.36,279.84 L204.66,279.84 L204.97,279.83 L205.27,279.82 L205.57,279.81 L205.87,279.80 L206.18,279.79 L206.48,279.78 L206.78,279.76 L207.08,279.75 L207.39,279.73 L207.69,279.71 L207.99,279.69 L208.29,279.67 L208.60,279.64 L208.90,279.62 L209.20,279.59 L209.51,279.56 L209.81,279.53 L210.11,279.49 L210.41,279.46 L210.72,279.42 L211.02,279.38 L211.32,279.34 L211.62,279.29 L211.93,279.24 L212.23,279.19 L212.53,279.14 L212.84,279.09 L213.14,279.03 L213.44,278.97 L213.74,278.91 L214.05,278.84 L214.35,278.77 L214.65,278.70 L214.95,278.63 L215.26,278.55 L215.56,278.47 L215.86,278.38 L216.16,278.30 L216.47,278.21 L216.77,278.11 L217.07,278.02 L217.38,277.92 L217.68,277.82 L217.98,277.71 L218.28,277.60 L218.59,277.49 L218.89,277.37 L219.19,277.25 L219.49,277.13 L219.80,277.00 L220.10,276.87 L220.40,276.73 L220.71,276.59 L221.01,276.45 L221.31,276.31 L221.61,276.16 L221.92,276.00 L222.22,275.85 L222.52,275.69 L222.82,275.52 L223.13,275.35 L223.43,275.18 L223.73,275.00 L224.03,274.82 L224.34,274.64 L224.64,274.45 L224.94,274.26 L225.25,274.06 L225.55,273.86 L225.85,273.66 L226.15,273.45 L226.46,273.24 L226.76,273.02 L227.06,272.80 L227.36,272.58 L227.67,272.35 L227.97,272.12 L228.27,271.88 L228.57,271.64 L228.88,271.40 L229.18,271.15 L229.48,270.90 L229.79,270.64 L230.09,270.38 L230.39,270.12 L230.69,269.85 L231.00,269.58 L231.30,269.30 L231.60,269.02 L231.90,268.74 L232.21,268.45 L232.51,268.16 L232.81,267.86 L233.12,267.57 L233.42,267.26 L233.72,266.96 L234.02,266.65 L234.33,266.33 L234.63,266.02 L234.93,265.69 L235.23,265.37 L235.54,265.04 L235.84,264.71 L236.14,264.37 L236.44,264.03 L236.75,263.69 L237.05,263.35 L237.35,263.00 L237.66,262.64 L237.96,262.29 L238.26,261.93 L238.56,261.57 L238.87,261.20 L239.17,260.83 L239.47,260.46 L239.77,260.08 L240.08,259.71 L240.38,259.32 L240.68,258.94 L240.99,258.55 L241.29,258.16 L241.59,257.77 L241.89,257.37 L242.20,256.98 L242.50,256.57 L242.80,256.17 L243.10,255.76 L243.41,255.36 L243.71,254.94 L244.01,254.53 L244.31,254.11 L244.62,253.70 L244.92,253.28 L245.22,252.85 L245.53,252.43 L245.83,252.00 L246.13,251.57 L246.43,251.14 L246.74,250.71 L247.04,250.27 L247.34,249.83 L247.64,249.40 L247.95,248.96 L248.25,248.51 L248.55,248.07 L248.85,247.62 L249.16,247.18 L249.46,246.73 L249.76,246.28 L250.07,245.83 L250.37,245.38 L250.67,244.92 L250.97,244.47 L251.28,244.01 L251.58,243.56 L251.88,243.10 L252.18,242.64 L252.49,242.18 L252.79,241.72 L253.09,241.26 L253.40,240.80 L253.70,240.33 L254.00,239.87 L254.30,239.41 L254.61,238.94 L254.91,238.48 L255.21,238.01 L255.51,237.55 L255.82,237.08 L256.12,236.62 L256.42,236.15 L256.72,235.69 L257.03,235.22 L257.33,234.76 L257.63,234.29 L257.94,233.82 L258.24,233.36 L258.54,232.89 L258.84,232.43 L259.15,231.97 L259.45,231.50 L259.75,231.04 L260.05,230.58 L260.36,230.11 L260.66,229.65 L260.96,229.19 L261.27,228.73 L261.57,228.27 L261.87,227.82 L262.17,227.36 L262.48,226.90 L262.78,226.45 L263.08,225.99 L263.38,225.54 L263.69,225.09 L263.99,224.64 L264.29,224.19 L264.59,223.74 L264.90,223.29 L265.20,222.85 L265.50,222.40 L265.81,221.96 L266.11,221.52 L266.41,221.08 L266.71,220.64 L267.02,220.21 L267.32,219.77 L267.62,219.34 L267.92,218.91 L268.23,218.48 L268.53,218.06 L268.83,217.63 L269.14,217.21 L269.44,216.79 L269.74,216.37 L270.04,215.95 L270.35,215.54 L270.65,215.13 L270.95,214.72 L271.25,214.31 L271.56,213.91 L271.86,213.50 L272.16,213.10 L272.46,212.71 L272.77,212.31 L273.07,211.92 L273.37,211.53 L273.68,211.14 L273.98,210.75 L274.28,210.37 L274.58,209.99 L274.89,209.61 L275.19,209.24 L275.49,208.87 L275.79,208.50 L276.10,208.13 L276.40,207.77 L276.70,207.41 L277.00,207.05 L277.31,206.69 L277.61,206.34 L277.91,205.99 L278.22,205.65 L278.52,205.30 L278.82,204.96 L279.12,204.63 L279.43,204.29 L279.73,203.96 L280.03,203.63 L280.33,203.31 L280.64,202.99 L280.94,202.67 L281.24,202.35 L281.55,202.04 L281.85,201.73 L282.15,201.43 L282.45,201.12 L282.76,200.82 L283.06,200.53 L283.36,200.24 L283.66,199.95 L283.97,199.66 L284.27,199.38 L284.57,199.10 L284.87,198.82 L285.18,198.55 L285.48,198.28 L285.78,198.01 L286.09,197.75 L286.39,197.49 L286.69,197.23 L286.99,196.98 L287.30,196.73 L287.60,196.49 L287.90,196.24 L288.20,196.00 L288.51,195.77 L288.81,195.54 L289.11,195.31 L289.42,195.08 L289.72,194.86 L290.02,194.64 L290.32,194.42 L290.63,194.21 L290.93,194.00 L291.23,193.80 L291.53,193.60 L291.84,193.40 L292.14,193.20 L292.44,193.01 L292.74,192.82 L293.05,192.63 L293.35,192.45 L293.65,192.27 L293.96,192.10 L294.26,191.92 L294.56,191.75 L294.86,191.59 L295.17,191.42 L295.47,191.26 L295.77,191.11 L296.07,190.95 L296.38,190.80 L296.68,190.66 L296.98,190.51 L297.28,190.37 L297.59,190.23 L297.89,190.10 L298.19,189.97 L298.50,189.84 L298.80,189.71 L299.10,189.59 L299.40,189.47 L299.71,189.35 L300.01,189.24 L300.31,189.13 L300.61,189.02 L300.92,188.91 L301.22,188.81 L301.52,188.71 L301.83,188.61 L302.13,188.52 L302.43,188.43 L302.73,188.34 L303.04,188.25 L303.34,188.17 L303.64,188.09 L303.94,188.01 L304.25,187.93 L304.55,187.86 L304.85,187.79 L305.15,187.72 L305.46,187.65 L305.76,187.59 L306.06,187.53 L306.37,187.47 L306.67,187.41 L306.97,187.35 L307.27,187.30 L307.58,187.25 L307.88,187.20 L308.18,187.15 L308.48,187.11 L308.79,187.07 L309.09,187.02 L309.39,186.99 L309.70,186.95 L310.00,186.91 L310.30,186.88 L310.60,186.85 L310.91,186.82 L311.21,186.79 L311.51,186.76 L311.81,186.74 L312.12,186.71 L312.42,186.69 L312.72,186.67 L313.02,186.65 L313.33,186.63 L313.63,186.61 L313.93,186.60 L314.24,186.58 L314.54,186.57 L314.84,186.56 L315.14,186.55 L315.45,186.54 L315.75,186.53 L316.05,186.52 L316.35,186.51 L316.66,186.50 L316.96,186.50 L317.26,186.49 L317.57,186.49 L317.87,186.49 L318.17,186.48 L318.47,186.48 L318.78,186.48 L319.08,186.48 L319.38,186.47 L319.68,186.47 L319.99,186.47 L320.29,186.47 L320.59,186.47 L320.89,186.47 L321.20,186.47 L321.50,186.47 L321.80,186.47 L322.11,186.47 L322.41,186.47 L322.71,186.47 L323.01,186.47 L323.32,186.47 L323.62,186.47 L323.92,186.47 L324.22,186.47 L324.53,186.46 L324.83,186.46 L325.13,186.46 L325.43,186.45 L325.74,186.45 L326.04,186.44 L326.34,186.44 L326.65,186.43 L326.95,186.42 L327.25,186.42 L327.55,186.41 L327.86,186.40 L328.16,186.38 L328.46,186.37 L328.76,186.36 L329.07,186.34 L329.37,186.33 L329.67,186.31 L329.98,186.29 L330.28,186.27 L330.58,186.25 L330.88,186.23 L331.19,186.21 L331.49,186.18 L331.79,186.15 L332.09,186.13 L332.40,186.09 L332.70,186.06 L333.00,186.03 L333.30,185.99 L333.61,185.96 L333.91,185.92 L334.21,185.88 L334.52,185.83 L334.82,185.79 L335.12,185.74 L335.42,185.69 L335.73,185.64 L336.03,185.59 L336.33,185.54 L336.63,185.48 L336.94,185.42 L337.24,185.36 L337.54,185.29 L337.85,185.23 L338.15,185.16 L338.45,185.09 L338.75,185.02 L339.06,184.94 L339.36,184.86 L339.66,184.78 L339.96,184.70 L340.27,184.61 L340.57,184.53 L340.87,184.44 L341.17,184.34 L341.48,184.25 L341.78,184.15 L342.08,184.05 L342.39,183.94 L342.69,183.84 L342.99,183.73 L343.29,183.61 L343.60,183.50 L343.90,183.38 L344.20,183.26 L344.50,183.14 L344.81,183.01 L345.11,182.88 L345.41,182.75 L345.72,182.62 L346.02,182.48 L346.32,182.34 L346.62,182.20 L346.93,182.05 L347.23,181.90 L347.53,181.75 L347.83,181.59 L348.14,181.44 L348.44,181.27 L348.74,181.11 L349.04,180.94 L349.35,180.77 L349.65,180.60 L349.95,180.43 L350.26,180.25 L350.56,180.07 L350.86,179.88 L351.16,179.69 L351.47,179.50 L351.77,179.31 L352.07,179.11 L352.37,178.91 L352.68,178.71 L352.98,178.51 L353.28,178.30 L353.58,178.09 L353.89,177.87 L354.19,177.66 L354.49,177.44 L354.80,177.21 L355.10,176.99 L355.40,176.76 L355.70,176.53 L356.01,176.30 L356.31,176.06 L356.61,175.82 L356.91,175.58 L357.22,175.33 L357.52,175.08 L357.82,174.83 L358.13,174.58 L358.43,174.33 L358.73,174.07 L359.03,173.81 L359.34,173.54 L359.64,173.28 L359.94,173.01 L360.24,172.74 L360.55,172.46 L360.85,172.19 L361.15,171.91 L361.45,171.63 L361.76,171.34 L362.06,171.06 L362.36,170.77 L362.67,170.48 L362.97,170.19 L363.27,169.89 L363.57,169.60 L363.88,169.30 L364.18,168.99 L364.48,168.69 L364.78,168.39 L365.09,168.08 L365.39,167.77 L365.69,167.46 L366.00,167.14 L366.30,166.83 L366.60,166.51 L366.90,166.19 L367.21,165.87 L367.51,165.55 L367.81,165.23 L368.11,164.90 L368.42,164.57 L368.72,164.24 L369.02,163.91 L369.32,163.58 L369.63,163.25 L369.93,162.91 L370.23,162.57 L370.54,162.24 L370.84,161.90 L371.14,161.56 L371.44,161.22 L371.75,160.87 L372.05,160.53 L372.35,160.18 L372.65,159.84 L372.96,159.49 L373.26,159.14 L373.56,158.79 L373.86,158.45 L374.17,158.09 L374.47,157.74 L374.77,157.39 L375.08,157.04 L375.38,156.68 L375.68,156.33 L375.98,155.98 L376.29,155.62 L376.59,155.27 L376.89,154.91 L377.19,154.55 L377.50,154.20 L377.80,153.84 L378.10,153.48 L378.41,153.12 L378.71,152.77 L379.01,152.41 L379.31,152.05 L379.62,151.69 L379.92,151.33 L380.22,150.98 L380.52,150.62 L380.83,150.26 L381.13,149.90 L381.43,149.55 L381.73,149.19 L382.04,148.83 L382.34,148.48 L382.64,148.12 L382.95,147.76 L383.25,147.41 L383.55,147.06 L383.85,146.70 L384.16,146.35 L384.46,146.00 L384.76,145.64 L385.06,145.29 L385.37,144.94 L385.67,144.59 L385.97,144.24 L386.28,143.90 L386.58,143.55 L386.88,143.20 L387.18,142.86 L387.49,142.51 L387.79,142.17 L388.09,141.83 L388.39,141.49 L388.70,141.15 L389.00,140.81 L389.30,140.47 L389.60,140.14 L389.91,139.81 L390.21,139.47 L390.51,139.14 L390.82,138.81 L391.12,138.48 L391.42,138.16 L391.72,137.83 L392.03,137.51 L392.33,137.19 L392.63,136.86 L392.93,136.55 L393.24,136.23 L393.54,135.91 L393.84,135.60 L394.14,135.29 L394.45,134.98 L394.75,134.67 L395.05,134.37 L395.36,134.06 L395.66,133.76 L395.96,133.46 L396.26,133.16 L396.57,132.87 L396.87,132.57 L397.17,132.28 L397.47,131.99 L397.78,131.70 L398.08,131.42 L398.38,131.13 L398.69,130.85 L398.99,130.57 L399.29,130.30 L399.59,130.02 L399.90,129.75 L400.20,129.48 L400.50,129.21 L400.80,128.95 L401.11,128.69 L401.41,128.43 L401.71,128.17 L402.01,127.91 L402.32,127.66 L402.62,127.41 L402.92,127.16 L403.23,126.92 L403.53,126.67 L403.83,126.43 L404.13,126.20 L404.44,125.96 L404.74,125.73 L405.04,125.50 L405.34,125.27 L405.65,125.04 L405.95,124.82 L406.25,124.60 L406.56,124.39 L406.86,124.17 L407.16,123.96 L407.46,123.75 L407.77,123.54 L408.07,123.34 L408.37,123.14 L408.67,122.94 L408.98,122.74 L409.28,122.55 L409.58,122.36 L409.88,122.17 L410.19,121.99 L410.49,121.80 L410.79,121.62 L411.10,121.45 L411.40,121.27 L411.70,121.10 L412.00,120.93 L412.31,120.76 L412.61,120.60 L412.91,120.44 L413.21,120.28 L413.52,120.12 L413.82,119.97 L414.12,119.82 L414.43,119.67 L414.73,119.53 L415.03,119.38 L415.33,119.24 L415.64,119.11 L415.94,118.97 L416.24,118.84 L416.54,118.71 L416.85,118.58 L417.15,118.46 L417.45,118.33 L417.75,118.21 L418.06,118.10 L418.36,117.98 L418.66,117.87 L418.97,117.76 L419.27,117.65 L419.57,117.55 L419.87,117.45 L420.18,117.35 L420.48,117.25 L420.78,117.15 L421.08,117.06 L421.39,116.97 L421.69,116.88 L421.99,116.80 L422.29,116.71 L422.60,116.63 L422.90,116.55 L423.20,116.48 L423.51,116.40 L423.81,116.33 L424.11,116.26 L424.41,116.19 L424.72,116.12 L425.02,116.06 L425.32,116.00 L425.62,115.94 L425.93,115.88 L426.23,115.82 L426.53,115.77 L426.84,115.72 L427.14,115.67 L427.44,115.62 L427.74,115.57 L428.05,115.52 L428.35,115.48 L428.65,115.44 L428.95,115.40 L429.26,115.36 L429.56,115.33 L429.86,115.29 L430.16,115.26 L430.47,115.22 L430.77,115.19 L431.07,115.17 L431.38,115.14 L431.68,115.11 L431.98,115.09 L432.28,115.06 L432.59,115.04 L432.89,115.02 L433.19,115.00 L433.49,114.98 L433.80,114.97 L434.10,114.95 L434.40,114.94 L434.71,114.92 L435.01,114.91 L435.31,114.90 L435.61,114.89 L435.92,114.88 L436.22,114.87 L436.52,114.86 L436.82,114.85 L437.13,114.84 L437.43,114.84 L437.73,114.83 L438.03,114.83 L438.34,114.82 L438.64,114.82 L438.94,114.82 L439.25,114.81 L439.55,114.81 L439.85,114.81 L440.15,114.81 L440.46,114.81 L440.76,114.81 L441.06,114.81 L441.36,114.81 L441.67,114.80 L441.97,114.80 L442.27,114.80 L442.58,114.80 L442.88,114.80 L443.18,114.80 L443.48,114.80 L443.79,114.80 L444.09,114.80 L444.39,114.80 L444.69,114.80 L445.00,114.80 L445.30,114.80 L445.60,114.80 L445.90,114.80 L446.21,114.79 L446.51,114.79 L446.81,114.79 L447.12,114.78 L447.42,114.78 L447.72,114.77 L448.02,114.77 L448.33,114.76 L448.63,114.75 L448.93,114.74 L449.23,114.73 L449.54,114.72 L449.84,114.71 L450.14,114.70 L450.44,114.69 L450.75,114.67 L451.05,114.66 L451.35,114.64 L451.66,114.63 L451.96,114.61 L452.26,114.59 L452.56,114.57 L452.87,114.55 L453.17,114.52 L453.47,114.50 L453.77,114.47 L454.08,114.44 L454.38,114.42 L454.68,114.38 L454.99,114.35 L455.29,114.32 L455.59,114.28 L455.89,114.25 L456.20,114.21 L456.50,114.17 L456.80,114.13 L457.10,114.09 L457.41,114.04 L457.71,113.99 L458.01,113.95 L458.31,113.90 L458.62,113.84 L458.92,113.79 L459.22,113.73 L459.53,113.68 L459.83,113.62 L460.13,113.55 L460.43,113.49 L460.74,113.42 L461.04,113.36 L461.34,113.29 L461.64,113.21 L461.95,113.14 L462.25,113.06 L462.55,112.99 L462.86,112.91 L463.16,112.82 L463.46,112.74 L463.76,112.65 L464.07,112.56 L464.37,112.47 L464.67,112.37 L464.97,112.28 L465.28,112.18 L465.58,112.08 L465.88,111.98 L466.18,111.87 L466.49,111.76 L466.79,111.65 L467.09,111.54 L467.40,111.42 L467.70,111.31 L468.00,111.19 L468.30,111.06 L468.61,110.94 L468.91,110.81 L469.21,110.68 L469.51,110.55 L469.82,110.42 L470.12,110.28 L470.42,110.14 L470.72,110.00 L471.03,109.85 L471.33,109.71 L471.63,109.56 L471.94,109.41 L472.24,109.25 L472.54,109.09 L472.84,108.94 L473.15,108.77 L473.45,108.61 L473.75,108.44 L474.05,108.27 L474.36,108.10 L474.66,107.93 L474.96,107.75 L475.27,107.57 L475.57,107.39 L475.87,107.21 L476.17,107.02 L476.48,106.84 L476.78,106.65 L477.08,106.45 L477.38,106.26 L477.69,106.06 L477.99,105.86 L478.29,105.66 L478.59,105.45 L478.90,105.25 L479.20,105.04 L479.50,104.83 L479.81,104.61 L480.11,104.40 L480.41,104.18 L480.71,103.96 L481.02,103.74 L481.32,103.51 L481.62,103.29 L481.92,103.06 L482.23,102.83 L482.53,102.59 L482.83,102.36 L483.14,102.12 L483.44,101.88 L483.74,101.64 L484.04,101.40 L484.35,101.15 L484.65,100.91 L484.95,100.66 L485.25,100.41 L485.56,100.16 L485.86,99.90 L486.16,99.65 L486.46,99.39 L486.77,99.13 L487.07,98.87 L487.37,98.61 L487.68,98.34 L487.98,98.08 L488.28,97.81 L488.58,97.54 L488.89,97.27 L489.19,97.00 L489.49,96.73 L489.79,96.45 L490.10,96.18 L490.40,95.90 L490.70,95.62 L491.00,95.34 L491.31,95.06 L491.61,94.78 L491.91,94.50 L492.22,94.21 L492.52,93.93 L492.82,93.64 L493.12,93.35 L493.43,93.06 L493.73,92.77 L494.03,92.48 L494.33,92.19 L494.64,91.90 L494.94,91.61 L495.24,91.31 L495.55,91.02 L495.85,90.72 L496.15,90.42 L496.45,90.13 L496.76,89.83 L497.06,89.53 L497.36,89.23 L497.66,88.94 L497.97,88.64 L498.27,88.34 L498.57,88.04 L498.87,87.74 L499.18,87.43 L499.48,87.13 L499.78,86.83 L500.09,86.53 L500.39,86.23 L500.69,85.93 L500.99,85.63 L501.30,85.32 L501.60,85.02 L501.90,84.72 L502.20,84.42 L502.51,84.12 L502.81,83.81 L503.11,83.51 L503.42,83.21 L503.72,82.91 L504.02,82.61 L504.32,82.31 L504.63,82.01 L504.93,81.71 L505.23,81.41 L505.53,81.11 L505.84,80.81 L506.14,80.52 L506.44,80.22 L506.74,79.92 L507.05,79.63 L507.35,79.33 L507.65,79.04 L507.96,78.74 L508.26,78.45 L508.56,78.16 L508.86,77.87 L509.17,77.58 L509.47,77.29 L509.77,77.00 L510.07,76.71 L510.38,76.43 L510.68,76.14 L510.98,75.86 L511.29,75.57 L511.59,75.29 L511.89,75.01 L512.19,74.73 L512.50,74.45 L512.80,74.17 L513.10,73.90 L513.40,73.62 L513.71,73.35 L514.01,73.08 L514.31,72.81 L514.61,72.54 L514.92,72.27 L515.22,72.01 L515.52,71.74 L515.83,71.48 L516.13,71.22 L516.43,70.96 L516.73,70.70 L517.04,70.44 L517.34,70.19 L517.64,69.93 L517.94,69.68 L518.25,69.43 L518.55,69.19 L518.85,68.94 L519.15,68.69 L519.46,68.45 L519.76,68.21 L520.06,67.97 L520.37,67.74 L520.67,67.50 L520.97,67.27 L521.27,67.04 L521.58,66.81 L521.88,66.58 L522.18,66.35 L522.48,66.13 L522.79,65.91 L523.09,65.69 L523.39,65.47 L523.70,65.26 L524.00,65.05 L524.30,64.83 L524.60,64.63 L524.91,64.42 L525.21,64.21 L525.51,64.01 L525.81,63.81 L526.12,63.61 L526.42,63.42 L526.72,63.23 L527.02,63.03 L527.33,62.84 L527.63,62.66 L527.93,62.47 L528.24,62.29 L528.54,62.11 L528.84,61.93 L529.14,61.76 L529.45,61.58 L529.75,61.41 L530.05,61.24 L530.35,61.08 L530.66,60.91 L530.96,60.75 L531.26,60.59 L531.57,60.43 L531.87,60.28 L532.17,60.13 L532.47,59.98 L532.78,59.83 L533.08,59.68 L533.38,59.54 L533.68,59.40 L533.99,59.26 L534.29,59.12 L534.59,58.99 L534.89,58.85 L535.20,58.72 L535.50,58.60 L535.80,58.47 L536.11,58.35 L536.41,58.23 L536.71,58.11 L537.01,57.99 L537.32,57.88 L537.62,57.76 L537.92,57.65 L538.22,57.55 L538.53,57.44 L538.83,57.34 L539.13,57.24 L539.43,57.14 L539.74,57.04 L540.04,56.95 L540.34,56.85 L540.65,56.76 L540.95,56.67 L541.25,56.59 L541.55,56.50 L541.86,56.42 L542.16,56.34 L542.46,56.26 L542.76,56.19 L543.07,56.11 L543.37,56.04 L543.67,55.97 L543.98,55.90 L544.28,55.83 L544.58,55.77 L544.88,55.71 L545.19,55.65 L545.49,55.59 L545.79,55.53 L546.09,55.47 L546.40,55.42 L546.70,55.37 L547.00,55.32 L547.30,55.27 L547.61,55.22 L547.91,55.18 L548.21,55.13 L548.52,55.09 L548.82,55.05 L549.12,55.01 L549.42,54.97 L549.73,54.94 L550.03,54.90 L550.33,54.87 L550.63,54.84 L550.94,54.81 L551.24,54.78 L551.54,54.75 L551.85,54.72 L552.15,54.70 L552.45,54.68 L552.75,54.65 L553.06,54.63 L553.36,54.61 L553.66,54.59 L553.96,54.57 L554.27,54.56 L554.57,54.54 L554.87,54.53 L555.17,54.51 L555.48,54.50 L555.78,54.49 L556.08,54.48 L556.39,54.47 L556.69,54.46 L556.99,54.45 L557.29,54.44 L557.60,54.43 L557.90,54.43 L558.20,54.42 L558.50,54.42 L558.81,54.41 L559.11,54.41 L559.41,54.40 L559.72,54.40 L560.02,54.40 L560.32,54.39 L560.62,54.39 L560.93,54.39 L561.23,54.39 L561.53,54.39 L561.83,54.39 L562.14,54.39 L562.44,54.39 L562.74,54.39 L563.04,54.39 L563.35,54.39 L563.65,54.39"/>
<path class="c d" stroke="#000" stroke-dashoffset="-2.9" d="M79.35,505.35 L79.65,504.17 L79.96,502.98 L80.26,501.78 L80.56,500.59 L80.86,499.39 L81.17,498.18 L81.47,496.97 L81.77,495.76 L82.07,494.54 L82.38,493.32 L82.68,492.10 L82.98,490.87 L83.28,489.64 L83.59,488.41 L83.89,487.17 L84.19,485.93 L84.50,484.69 L84.80,483.44 L85.10,482.19 L85.40,480.94 L85.71,479.69 L86.01,478.43 L86.31,477.17 L86.61,475.91 L86.92,474.64 L87.22,473.38 L87.52,472.11 L87.83,470.84 L88.13,469.56 L88.43,468.29 L88.73,467.01 L89.04,465.73 L89.34,464.45 L89.64,463.17 L89.94,461.89 L90.25,460.60 L90.55,459.31 L90.85,458.03 L91.15,456.74 L91.46,455.45 L91.76,454.16 L92.06,452.86 L92.37,451.57 L92.67,450.28 L92.97,448.98 L93.27,447.69 L93.58,446.39 L93.88,445.10 L94.18,443.80 L94.48,442.50 L94.79,441.21 L95.09,439.91 L95.39,438.61 L95.70,437.32 L96.00,436.02 L96.30,434.72 L96.60,433.43 L96.91,432.13 L97.21,430.83 L97.51,429.54 L97.81,428.25 L98.12,426.95 L98.42,425.66 L98.72,424.37 L99.02,423.08 L99.33,421.79 L99.63,420.50 L99.93,419.21 L100.24,417.92 L100.54,416.64 L100.84,415.36 L101.14,414.07 L101.45,412.79 L101.75,411.51 L102.05,410.24 L102.35,408.96 L102.66,407.69 L102.96,406.42 L103.26,405.15 L103.56,403.88 L103.87,402.61 L104.17,401.35 L104.47,400.09 L104.78,398.83 L105.08,397.58 L105.38,396.32 L105.68,395.07 L105.99,393.83 L106.29,392.58 L106.59,391.34 L106.89,390.10 L107.20,388.86 L107.50,387.63 L107.80,386.40 L108.11,385.17 L108.41,383.95 L108.71,382.73 L109.01,381.51 L109.32,380.30 L109.62,379.09 L109.92,377.89 L110.22,376.68 L110.53,375.49 L110.83,374.29 L111.13,373.10 L111.43,371.91 L111.74,370.73 L112.04,369.55 L112.34,368.38 L112.65,367.21 L112.95,366.04 L113.25,364.88 L113.55,363.73 L113.86,362.57 L114.16,361.43 L114.46,360.28 L114.76,359.14 L115.07,358.01 L115.37,356.88 L115.67,355.76 L115.98,354.64 L116.28,353.52 L116.58,352.42 L116.88,351.31 L117.19,350.21 L117.49,349.12 L117.79,348.03 L118.09,346.95 L118.40,345.87 L118.70,344.80 L119.00,343.73 L119.30,342.67 L119.61,341.62 L119.91,340.57 L120.21,339.52 L120.52,338.49 L120.82,337.46 L121.12,336.43 L121.42,335.41 L121.73,334.39 L122.03,333.39 L122.33,332.38 L122.63,331.39 L122.94,330.40 L123.24,329.42 L123.54,328.44 L123.85,327.47 L124.15,326.50 L124.45,325.55 L124.75,324.60 L125.06,323.65 L125.36,322.71 L125.66,321.78 L125.96,320.86 L126.27,319.94 L126.57,319.03 L126.87,318.12 L127.17,317.22 L127.48,316.33 L127.78,315.45 L128.08,314.57 L128.39,313.70 L128.69,312.84 L128.99,311.98 L129.29,311.13 L129.60,310.29 L129.90,309.46 L130.20,308.63 L130.50,307.81 L130.81,306.99 L131.11,306.19 L131.41,305.39 L131.71,304.60 L132.02,303.82 L132.32,303.04 L132.62,302.27 L132.93,301.51 L133.23,300.76 L133.53,300.01 L133.83,299.27 L134.14,298.54 L134.44,297.82 L134.74,297.10 L135.04,296.39 L135.35,295.69 L135.65,295.00 L135.95,294.31 L136.26,293.63 L136.56,292.96 L136.86,292.30 L137.16,291.65 L137.47,291.00 L137.77,290.36 L138.07,289.73 L138.37,289.11 L138.68,288.49 L138.98,287.89 L139.28,287.29 L139.58,286.70 L139.89,286.11 L140.19,285.54 L140.49,284.97 L140.80,284.41 L141.10,283.86 L141.40,283.31 L141.70,282.78 L142.01,282.25 L142.31,281.73 L142.61,281.21 L142.91,280.71 L143.22,280.21 L143.52,279.73 L143.82,279.24 L144.13,278.77 L144.43,278.31 L144.73,277.85 L145.03,277.40 L145.34,276.96 L145.64,276.53 L145.94,276.10 L146.24,275.69 L146.55,275.28 L146.85,274.88 L147.15,274.48 L147.45,274.10 L147.76,273.72 L148.06,273.35 L148.36,272.99 L148.67,272.63 L148.97,272.29 L149.27,271.95 L149.57,271.62 L149.88,271.30 L150.18,270.98 L150.48,270.67 L150.78,270.37 L151.09,270.08 L151.39,269.80 L151.69,269.52 L152.00,269.25 L152.30,268.99 L152.60,268.73 L152.90,268.49 L153.21,268.25 L153.51,268.02 L153.81,267.79 L154.11,267.57 L154.42,267.36 L154.72,267.16 L155.02,266.97 L155.32,266.78 L155.63,266.60 L155.93,266.43 L156.23,266.26 L156.54,266.10 L156.84,265.95 L157.14,265.80 L157.44,265.67 L157.75,265.53 L158.05,265.41 L158.35,265.29 L158.65,265.18 L158.96,265.08 L159.26,264.98 L159.56,264.89 L159.86,264.81 L160.17,264.73 L160.47,264.66 L160.77,264.60 L161.08,264.54 L161.38,264.49 L161.68,264.44 L161.98,264.40 L162.29,264.37 L162.59,264.34 L162.89,264.32 L163.19,264.31 L163.50,264.30 L163.80,264.30 L164.10,264.30 L164.41,264.31 L164.71,264.32 L165.01,264.34 L165.31,264.37 L165.62,264.40 L165.92,264.43 L166.22,264.47 L166.52,264.52 L166.83,264.57 L167.13,264.63 L167.43,264.69 L167.73,264.76 L168.04,264.83 L168.34,264.91 L168.64,264.99 L168.95,265.08 L169.25,265.17 L169.55,265.26 L169.85,265.36 L170.16,265.46 L170.46,265.57 L170.76,265.68 L171.06,265.80 L171.37,265.92 L171.67,266.04 L171.97,266.17 L172.28,266.30 L172.58,266.44 L172.88,266.58 L173.18,266.72 L173.49,266.86 L173.79,267.01 L174.09,267.16 L174.39,267.32 L174.70,267.47 L175.00,267.63 L175.30,267.80 L175.60,267.96 L175.91,268.13 L176.21,268.30 L176.51,268.47 L176.82,268.65 L177.12,268.82 L177.42,269.00 L177.72,269.18 L178.03,269.37 L178.33,269.55 L178.63,269.74 L178.93,269.92 L179.24,270.11 L179.54,270.30 L179.84,270.49 L180.14,270.69 L180.45,270.88 L180.75,271.07 L181.05,271.27 L181.36,271.46 L181.66,271.66 L181.96,271.85 L182.26,272.05 L182.57,272.25 L182.87,272.44 L183.17,272.64 L183.47,272.83 L183.78,273.03 L184.08,273.22 L184.38,273.42 L184.69,273.61 L184.99,273.80 L185.29,274.00 L185.59,274.19 L185.90,274.38 L186.20,274.56 L186.50,274.75 L186.80,274.94 L187.11,275.12 L187.41,275.30 L187.71,275.48 L188.01,275.66 L188.32,275.84 L188.62,276.01 L188.92,276.18 L189.23,276.35 L189.53,276.52 L189.83,276.68 L190.13,276.84 L190.44,277.00 L190.74,277.15 L191.04,277.31 L191.34,277.45 L191.65,277.60 L191.95,277.74 L192.25,277.88 L192.56,278.01 L192.86,278.14 L193.16,278.27 L193.46,278.39 L193.77,278.51 L194.07,278.63 L194.37,278.73 L194.67,278.84 L194.98,278.94 L195.28,279.04 L195.58,279.13 L195.88,279.21 L196.19,279.30 L196.49,279.37 L196.79,279.44 L197.10,279.51 L197.40,279.57 L197.70,279.63 L198.00,279.68 L198.31,279.72 L198.61,279.76 L198.91,279.79 L199.21,279.82 L199.52,279.84 L199.82,279.86 L200.12,279.87 L200.43,279.87 L200.73,279.87 L201.03,279.86 L201.33,279.84 L201.64,279.82 L201.94,279.79 L202.24,279.75 L202.54,279.71 L202.85,279.66 L203.15,279.61 L203.45,279.55 L203.75,279.48 L204.06,279.40 L204.36,279.32 L204.66,279.23 L204.97,279.14 L205.27,279.03 L205.57,278.92 L205.87,278.81 L206.18,278.68 L206.48,278.55 L206.78,278.41 L207.08,278.27 L207.39,278.11 L207.69,277.95 L207.99,277.79 L208.29,277.61 L208.60,277.43 L208.90,277.24 L209.20,277.05 L209.51,276.84 L209.81,276.63 L210.11,276.41 L210.41,276.19 L210.72,275.96 L211.02,275.72 L211.32,275.47 L211.62,275.22 L211.93,274.96 L212.23,274.69 L212.53,274.41 L212.84,274.13 L213.14,273.84 L213.44,273.54 L213.74,273.24 L214.05,272.93 L214.35,272.61 L214.65,272.29 L214.95,271.96 L215.26,271.62 L215.56,271.27 L215.86,270.92 L216.16,270.56 L216.47,270.20 L216.77,269.83 L217.07,269.45 L217.38,269.07 L217.68,268.68 L217.98,268.28 L218.28,267.87 L218.59,267.47 L218.89,267.05 L219.19,266.63 L219.49,266.20 L219.80,265.77 L220.10,265.33 L220.40,264.88 L220.71,264.43 L221.01,263.97 L221.31,263.51 L221.61,263.05 L221.92,262.57 L222.22,262.09 L222.52,261.61 L222.82,261.12 L223.13,260.63 L223.43,260.13 L223.73,259.63 L224.03,259.12 L224.34,258.61 L224.64,258.09 L224.94,257.57 L225.25,257.04 L225.55,256.51 L225.85,255.98 L226.15,255.44 L226.46,254.89 L226.76,254.35 L227.06,253.80 L227.36,253.24 L227.67,252.68 L227.97,252.12 L228.27,251.56 L228.57,250.99 L228.88,250.42 L229.18,249.84 L229.48,249.27 L229.79,248.68 L230.09,248.10 L230.39,247.51 L230.69,246.93 L231.00,246.33 L231.30,245.74 L231.60,245.15 L231.90,244.55 L232.21,243.95 L232.51,243.34 L232.81,242.74 L233.12,242.13 L233.42,241.53 L233.72,240.92 L234.02,240.31 L234.33,239.69 L234.63,239.08 L234.93,238.47 L235.23,237.85 L235.54,237.23 L235.84,236.62 L236.14,236.00 L236.44,235.38 L236.75,234.76 L237.05,234.14 L237.35,233.52 L237.66,232.90 L237.96,232.28 L238.26,231.65 L238.56,231.03 L238.87,230.41 L239.17,229.79 L239.47,229.17 L239.77,228.55 L240.08,227.93 L240.38,227.31 L240.68,226.69 L240.99,226.07 L241.29,225.46 L241.59,224.84 L241.89,224.23 L242.20,223.61 L242.50,223.00 L242.80,222.39 L243.10,221.78 L243.41,221.17 L243.71,220.56 L244.01,219.96 L244.31,219.35 L244.62,218.75 L244.92,218.15 L245.22,217.55 L245.53,216.96 L245.83,216.36 L246.13,215.77 L246.43,215.18 L246.74,214.59 L247.04,214.01 L247.34,213.43 L247.64,212.85 L247.95,212.27 L248.25,211.69 L248.55,211.12 L248.85,210.55 L249.16,209.99 L249.46,209.43 L249.76,208.87 L250.07,208.31 L250.37,207.76 L250.67,207.21 L250.97,206.66 L251.28,206.12 L251.58,205.58 L251.88,205.04 L252.18,204.51 L252.49,203.98 L252.79,203.45 L253.09,202.93 L253.40,202.41 L253.70,201.90 L254.00,201.39 L254.30,200.88 L254.61,200.38 L254.91,199.88 L255.21,199.39 L255.51,198.90 L255.82,198.41 L256.12,197.93 L256.42,197.46 L256.72,196.98 L257.03,196.52 L257.33,196.05 L257.63,195.59 L257.94,195.14 L258.24,194.69 L258.54,194.24 L258.84,193.80 L259.15,193.37 L259.45,192.94 L259.75,192.51 L260.05,192.09 L260.36,191.67 L260.66,191.26 L260.96,190.85 L261.27,190.45 L261.57,190.06 L261.87,189.66 L262.17,189.28 L262.48,188.90 L262.78,188.52 L263.08,188.15 L263.38,187.78 L263.69,187.42 L263.99,187.07 L264.29,186.72 L264.59,186.37 L264.90,186.03 L265.20,185.69 L265.50,185.37 L265.81,185.04 L266.11,184.72 L266.41,184.41 L266.71,184.10 L267.02,183.80 L267.32,183.50 L267.62,183.21 L267.92,182.92 L268.23,182.64 L268.53,182.36 L268.83,182.09 L269.14,181.83 L269.44,181.57 L269.74,181.31 L270.04,181.07 L270.35,180.82 L270.65,180.58 L270.95,180.35 L271.25,180.13 L271.56,179.90 L271.86,179.69 L272.16,179.48 L272.46,179.27 L272.77,179.07 L273.07,178.88 L273.37,178.69 L273.68,178.50 L273.98,178.32 L274.28,178.15 L274.58,177.98 L274.89,177.82 L275.19,177.66 L275.49,177.51 L275.79,177.36 L276.10,177.22 L276.40,177.09 L276.70,176.95 L277.00,176.83 L277.31,176.71 L277.61,176.59 L277.91,176.48 L278.22,176.38 L278.52,176.27 L278.82,176.18 L279.12,176.09 L279.43,176.00 L279.73,175.92 L280.03,175.85 L280.33,175.78 L280.64,175.71 L280.94,175.65 L281.24,175.59 L281.55,175.54 L281.85,175.49 L282.15,175.45 L282.45,175.41 L282.76,175.38 L283.06,175.35 L283.36,175.33 L283.66,175.31 L283.97,175.29 L284.27,175.28 L284.57,175.28 L284.87,175.28 L285.18,175.28 L285.48,175.28 L285.78,175.29 L286.09,175.31 L286.39,175.33 L286.69,175.35 L286.99,175.38 L287.30,175.41 L287.60,175.44 L287.90,175.48 L288.20,175.52 L288.51,175.57 L288.81,175.61 L289.11,175.67 L289.42,175.72 L289.72,175.78 L290.02,175.84 L290.32,175.91 L290.63,175.98 L290.93,176.05 L291.23,176.13 L291.53,176.21 L291.84,176.29 L292.14,176.37 L292.44,176.46 L292.74,176.55 L293.05,176.64 L293.35,176.74 L293.65,176.84 L293.96,176.94 L294.26,177.04 L294.56,177.15 L294.86,177.25 L295.17,177.36 L295.47,177.47 L295.77,177.59 L296.07,177.71 L296.38,177.82 L296.68,177.94 L296.98,178.07 L297.28,178.19 L297.59,178.31 L297.89,178.44 L298.19,178.57 L298.50,178.70 L298.80,178.83 L299.10,178.96 L299.40,179.09 L299.71,179.23 L300.01,179.36 L300.31,179.50 L300.61,179.64 L300.92,179.77 L301.22,179.91 L301.52,180.05 L301.83,180.19 L302.13,180.33 L302.43,180.47 L302.73,180.61 L303.04,180.75 L303.34,180.89 L303.64,181.04 L303.94,181.18 L304.25,181.32 L304.55,181.46 L304.85,181.60 L305.15,181.74 L305.46,181.88 L305.76,182.02 L306.06,182.15 L306.37,182.29 L306.67,182.43 L306.97,182.56 L307.27,182.70 L307.58,182.83 L307.88,182.97 L308.18,183.10 L308.48,183.23 L308.79,183.35 L309.09,183.48 L309.39,183.61 L309.70,183.73 L310.00,183.85 L310.30,183.97 L310.60,184.09 L310.91,184.21 L311.21,184.32 L311.51,184.44 L311.81,184.55 L312.12,184.65 L312.42,184.76 L312.72,184.86 L313.02,184.96 L313.33,185.06 L313.63,185.16 L313.93,185.25 L314.24,185.34 L314.54,185.43 L314.84,185.51 L315.14,185.59 L315.45,185.67 L315.75,185.74 L316.05,185.81 L316.35,185.88 L316.66,185.95 L316.96,186.01 L317.26,186.07 L317.57,186.12 L317.87,186.17 L318.17,186.22 L318.47,186.26 L318.78,186.30 L319.08,186.34 L319.38,186.37 L319.68,186.39 L319.99,186.42 L320.29,186.44 L320.59,186.45 L320.89,186.46 L321.20,186.47 L321.50,186.47 L321.80,186.47 L322.11,186.46 L322.41,186.45 L322.71,186.44 L323.01,186.42 L323.32,186.39 L323.62,186.36 L323.92,186.33 L324.22,186.29 L324.53,186.24 L324.83,186.20 L325.13,186.14 L325.43,186.08 L325.74,186.02 L326.04,185.95 L326.34,185.88 L326.65,185.80 L326.95,185.72 L327.25,185.63 L327.55,185.54 L327.86,185.44 L328.16,185.34 L328.46,185.23 L328.76,185.11 L329.07,185.00 L329.37,184.87 L329.67,184.74 L329.98,184.61 L330.28,184.47 L330.58,184.32 L330.88,184.17 L331.19,184.02 L331.49,183.86 L331.79,183.69 L332.09,183.52 L332.40,183.35 L332.70,183.17 L333.00,182.98 L333.30,182.79 L333.61,182.59 L333.91,182.39 L334.21,182.18 L334.52,181.97 L334.82,181.75 L335.12,181.53 L335.42,181.30 L335.73,181.07 L336.03,180.83 L336.33,180.59 L336.63,180.34 L336.94,180.08 L337.24,179.83 L337.54,179.56 L337.85,179.29 L338.15,179.02 L338.45,178.74 L338.75,178.46 L339.06,178.17 L339.36,177.88 L339.66,177.58 L339.96,177.28 L340.27,176.98 L340.57,176.66 L340.87,176.35 L341.17,176.03 L341.48,175.70 L341.78,175.37 L342.08,175.04 L342.39,174.70 L342.69,174.36 L342.99,174.02 L343.29,173.66 L343.60,173.31 L343.90,172.95 L344.20,172.59 L344.50,172.22 L344.81,171.85 L345.11,171.48 L345.41,171.10 L345.72,170.72 L346.02,170.33 L346.32,169.94 L346.62,169.55 L346.93,169.15 L347.23,168.75 L347.53,168.35 L347.83,167.94 L348.14,167.53 L348.44,167.12 L348.74,166.70 L349.04,166.28 L349.35,165.86 L349.65,165.44 L349.95,165.01 L350.26,164.58 L350.56,164.14 L350.86,163.71 L351.16,163.27 L351.47,162.83 L351.77,162.39 L352.07,161.94 L352.37,161.49 L352.68,161.04 L352.98,160.59 L353.28,160.13 L353.58,159.68 L353.89,159.22 L354.19,158.76 L354.49,158.30 L354.80,157.84 L355.10,157.37 L355.40,156.90 L355.70,156.44 L356.01,155.97 L356.31,155.50 L356.61,155.02 L356.91,154.55 L357.22,154.08 L357.52,153.60 L357.82,153.13 L358.13,152.65 L358.43,152.17 L358.73,151.69 L359.03,151.22 L359.34,150.74 L359.64,150.26 L359.94,149.78 L360.24,149.30 L360.55,148.82 L360.85,148.33 L361.15,147.85 L361.45,147.37 L361.76,146.89 L362.06,146.41 L362.36,145.93 L362.67,145.45 L362.97,144.97 L363.27,144.49 L363.57,144.01 L363.88,143.54 L364.18,143.06 L364.48,142.58 L364.78,142.11 L365.09,141.63 L365.39,141.16 L365.69,140.68 L366.00,140.21 L366.30,139.74 L366.60,139.27 L366.90,138.80 L367.21,138.34 L367.51,137.87 L367.81,137.41 L368.11,136.95 L368.42,136.48 L368.72,136.03 L369.02,135.57 L369.32,135.11 L369.63,134.66 L369.93,134.21 L370.23,133.76 L370.54,133.31 L370.84,132.87 L371.14,132.42 L371.44,131.98 L371.75,131.54 L372.05,131.11 L372.35,130.67 L372.65,130.24 L372.96,129.81 L373.26,129.39 L373.56,128.96 L373.86,128.54 L374.17,128.12 L374.47,127.71 L374.77,127.30 L375.08,126.89 L375.38,126.48 L375.68,126.08 L375.98,125.68 L376.29,125.28 L376.59,124.88 L376.89,124.49 L377.19,124.11 L377.50,123.72 L377.80,123.34 L378.10,122.96 L378.41,122.59 L378.71,122.22 L379.01,121.85 L379.31,121.49 L379.62,121.12 L379.92,120.77 L380.22,120.42 L380.52,120.07 L380.83,119.72 L381.13,119.38 L381.43,119.04 L381.73,118.71 L382.04,118.38 L382.34,118.05 L382.64,117.73 L382.95,117.41 L383.25,117.09 L383.55,116.78 L383.85,116.48 L384.16,116.17 L384.46,115.87 L384.76,115.58 L385.06,115.29 L385.37,115.00 L385.67,114.72 L385.97,114.44 L386.28,114.17 L386.58,113.90 L386.88,113.64 L387.18,113.38 L387.49,113.12 L387.79,112.87 L388.09,112.62 L388.39,112.38 L388.70,112.14 L389.00,111.90 L389.30,111.67 L389.60,111.44 L389.91,111.22 L390.21,111.01 L390.51,110.79 L390.82,110.58 L391.12,110.38 L391.42,110.18 L391.72,109.98 L392.03,109.79 L392.33,109.61 L392.63,109.42 L392.93,109.25 L393.24,109.07 L393.54,108.90 L393.84,108.74 L394.14,108.58 L394.45,108.42 L394.75,108.27 L395.05,108.12 L395.36,107.98 L395.66,107.84 L395.96,107.71 L396.26,107.58 L396.57,107.45 L396.87,107.33 L397.17,107.22 L397.47,107.10 L397.78,107.00 L398.08,106.89 L398.38,106.79 L398.69,106.70 L398.99,106.61 L399.29,106.52 L399.59,106.44 L399.90,106.36 L400.20,106.28 L400.50,106.21 L400.80,106.15 L401.11,106.08 L401.41,106.02 L401.71,105.97 L402.01,105.92 L402.32,105.87 L402.62,105.83 L402.92,105.79 L403.23,105.76 L403.53,105.73 L403.83,105.70 L404.13,105.68 L404.44,105.66 L404.74,105.64 L405.04,105.63 L405.34,105.62 L405.65,105.61 L405.95,105.61 L406.25,105.61 L406.56,105.62 L406.86,105.63 L407.16,105.64 L407.46,105.65 L407.77,105.67 L408.07,105.69 L408.37,105.72 L408.67,105.75 L408.98,105.78 L409.28,105.81 L409.58,105.85 L409.88,105.89 L410.19,105.93 L410.49,105.98 L410.79,106.03 L411.10,106.08 L411.40,106.14 L411.70,106.19 L412.00,106.25 L412.31,106.31 L412.61,106.38 L412.91,106.45 L413.21,106.52 L413.52,106.59 L413.82,106.66 L414.12,106.74 L414.43,106.82 L414.73,106.90 L415.03,106.98 L415.33,107.07 L415.64,107.15 L415.94,107.24 L416.24,107.33 L416.54,107.43 L416.85,107.52 L417.15,107.62 L417.45,107.71 L417.75,107.81 L418.06,107.91 L418.36,108.01 L418.66,108.12 L418.97,108.22 L419.27,108.33 L419.57,108.43 L419.87,108.54 L420.18,108.65 L420.48,108.76 L420.78,108.87 L421.08,108.98 L421.39,109.09 L421.69,109.20 L421.99,109.32 L422.29,109.43 L422.60,109.55 L422.90,109.66 L423.20,109.78 L423.51,109.89 L423.81,110.01 L424.11,110.12 L424.41,110.24 L424.72,110.35 L425.02,110.47 L425.32,110.59 L425.62,110.70 L425.93,110.82 L426.23,110.93 L426.53,111.05 L426.84,111.16 L427.14,111.27 L427.44,111.39 L427.74,111.50 L428.05,111.61 L428.35,111.72 L428.65,111.83 L428.95,111.94 L429.26,112.04 L429.56,112.15 L429.86,112.26 L430.16,112.36 L430.47,112.46 L430.77,112.56 L431.07,112.66 L431.38,112.76 L431.68,112.86 L431.98,112.96 L432.28,113.05 L432.59,113.14 L432.89,113.23 L433.19,113.32 L433.49,113.41 L433.80,113.49 L434.10,113.57 L434.40,113.65 L434.71,113.73 L435.01,113.81 L435.31,113.88 L435.61,113.95 L435.92,114.02 L436.22,114.09 L436.52,114.15 L436.82,114.21 L437.13,114.27 L437.43,114.32 L437.73,114.38 L438.03,114.43 L438.34,114.47 L438.64,114.52 L438.94,114.56 L439.25,114.60 L439.55,114.63 L439.85,114.66 L440.15,114.69 L440.46,114.72 L440.76,114.74 L441.06,114.76 L441.36,114.78 L441.67,114.79 L441.97,114.80 L442.27,114.80 L442.58,114.80 L442.88,114.80 L443.18,114.80 L443.48,114.79 L443.79,114.78 L444.09,114.76 L444.39,114.74 L444.69,114.71 L445.00,114.69 L445.30,114.66 L445.60,114.62 L445.90,114.58 L446.21,114.54 L446.51,114.49 L446.81,114.44 L447.12,114.38 L447.42,114.32 L447.72,114.26 L448.02,114.19 L448.33,114.12 L448.63,114.04 L448.93,113.96 L449.23,113.88 L449.54,113.79 L449.84,113.70 L450.14,113.60 L450.44,113.50 L450.75,113.39 L451.05,113.28 L451.35,113.17 L451.66,113.05 L451.96,112.93 L452.26,112.80 L452.56,112.67 L452.87,112.53 L453.17,112.39 L453.47,112.25 L453.77,112.10 L454.08,111.95 L454.38,111.79 L454.68,111.63 L454.99,111.46 L455.29,111.29 L455.59,111.12 L455.89,110.94 L456.20,110.76 L456.50,110.57 L456.80,110.38 L457.10,110.18 L457.41,109.98 L457.71,109.78 L458.01,109.57 L458.31,109.36 L458.62,109.14 L458.92,108.92 L459.22,108.70 L459.53,108.47 L459.83,108.24 L460.13,108.00 L460.43,107.76 L460.74,107.51 L461.04,107.27 L461.34,107.01 L461.64,106.76 L461.95,106.50 L462.25,106.23 L462.55,105.96 L462.86,105.69 L463.16,105.42 L463.46,105.14 L463.76,104.86 L464.07,104.57 L464.37,104.28 L464.67,103.99 L464.97,103.69 L465.28,103.39 L465.58,103.09 L465.88,102.78 L466.18,102.47 L466.49,102.15 L466.79,101.84 L467.09,101.52 L467.40,101.19 L467.70,100.87 L468.00,100.54 L468.30,100.21 L468.61,99.87 L468.91,99.53 L469.21,99.19 L469.51,98.85 L469.82,98.50 L470.12,98.15 L470.42,97.80 L470.72,97.45 L471.03,97.09 L471.33,96.73 L471.63,96.37 L471.94,96.01 L472.24,95.64 L472.54,95.27 L472.84,94.90 L473.15,94.53 L473.45,94.16 L473.75,93.78 L474.05,93.40 L474.36,93.02 L474.66,92.64 L474.96,92.25 L475.27,91.87 L475.57,91.48 L475.87,91.09 L476.17,90.70 L476.48,90.31 L476.78,89.92 L477.08,89.52 L477.38,89.13 L477.69,88.73 L477.99,88.33 L478.29,87.94 L478.59,87.54 L478.90,87.14 L479.20,86.73 L479.50,86.33 L479.81,85.93 L480.11,85.52 L480.41,85.12 L480.71,84.72 L481.02,84.31 L481.32,83.90 L481.62,83.50 L481.92,83.09 L482.23,82.69 L482.53,82.28 L482.83,81.87 L483.14,81.46 L483.44,81.06 L483.74,80.65 L484.04,80.24 L484.35,79.84 L484.65,79.43 L484.95,79.03 L485.25,78.62 L485.56,78.22 L485.86,77.81 L486.16,77.41 L486.46,77.01 L486.77,76.60 L487.07,76.20 L487.37,75.80 L487.68,75.40 L487.98,75.00 L488.28,74.61 L488.58,74.21 L488.89,73.81 L489.19,73.42 L489.49,73.03 L489.79,72.63 L490.10,72.24 L490.40,71.86 L490.70,71.47 L491.00,71.08 L491.31,70.70 L491.61,70.32 L491.91,69.93 L492.22,69.56 L492.52,69.18 L492.82,68.80 L493.12,68.43 L493.43,68.06 L493.73,67.69 L494.03,67.32 L494.33,66.95 L494.64,66.59 L494.94,66.23 L495.24,65.87 L495.55,65.51 L495.85,65.16 L496.15,64.81 L496.45,64.46 L496.76,64.11 L497.06,63.77 L497.36,63.43 L497.66,63.09 L497.97,62.75 L498.27,62.42 L498.57,62.09 L498.87,61.76 L499.18,61.43 L499.48,61.11 L499.78,60.79 L500.09,60.47 L500.39,60.16 L500.69,59.85 L500.99,59.54 L501.30,59.24 L501.60,58.94 L501.90,58.64 L502.20,58.34 L502.51,58.05 L502.81,57.76 L503.11,57.48 L503.42,57.19 L503.72,56.91 L504.02,56.64 L504.32,56.37 L504.63,56.10 L504.93,55.83 L505.23,55.57 L505.53,55.31 L505.84,55.06 L506.14,54.81 L506.44,54.56 L506.74,54.32 L507.05,54.07 L507.35,53.84 L507.65,53.60 L507.96,53.37 L508.26,53.15 L508.56,52.93 L508.86,52.71 L509.17,52.49 L509.47,52.28 L509.77,52.07 L510.07,51.87 L510.38,51.67 L510.68,51.47 L510.98,51.28 L511.29,51.09 L511.59,50.91 L511.89,50.73 L512.19,50.55 L512.50,50.38 L512.80,50.21 L513.10,50.04 L513.40,49.88 L513.71,49.72 L514.01,49.56 L514.31,49.41 L514.61,49.27 L514.92,49.12 L515.22,48.98 L515.52,48.85 L515.83,48.72 L516.13,48.59 L516.43,48.47 L516.73,48.35 L517.04,48.23 L517.34,48.12 L517.64,48.01 L517.94,47.90 L518.25,47.80 L518.55,47.70 L518.85,47.61 L519.15,47.52 L519.46,47.43 L519.76,47.35 L520.06,47.27 L520.37,47.19 L520.67,47.12 L520.97,47.05 L521.27,46.99 L521.58,46.93 L521.88,46.87 L522.18,46.81 L522.48,46.76 L522.79,46.72 L523.09,46.67 L523.39,46.63 L523.70,46.59 L524.00,46.56 L524.30,46.53 L524.60,46.50 L524.91,46.48 L525.21,46.46 L525.51,46.44 L525.81,46.43 L526.12,46.42 L526.42,46.41 L526.72,46.40 L527.02,46.40 L527.33,46.40 L527.63,46.41 L527.93,46.42 L528.24,46.43 L528.54,46.44 L528.84,46.46 L529.14,46.47 L529.45,46.50 L529.75,46.52 L530.05,46.55 L530.35,46.58 L530.66,46.61 L530.96,46.65 L531.26,46.68 L531.57,46.72 L531.87,46.77 L532.17,46.81 L532.47,46.86 L532.78,46.91 L533.08,46.96 L533.38,47.01 L533.68,47.07 L533.99,47.13 L534.29,47.19 L534.59,47.25 L534.89,47.32 L535.20,47.38 L535.50,47.45 L535.80,47.52 L536.11,47.60 L536.41,47.67 L536.71,47.75 L537.01,47.82 L537.32,47.90 L537.62,47.98 L537.92,48.06 L538.22,48.15 L538.53,48.23 L538.83,48.32 L539.13,48.40 L539.43,48.49 L539.74,48.58 L540.04,48.67 L540.34,48.76 L540.65,48.86 L540.95,48.95 L541.25,49.05 L541.55,49.14 L541.86,49.24 L542.16,49.33 L542.46,49.43 L542.76,49.53 L543.07,49.63 L543.37,49.73 L543.67,49.83 L543.98,49.93 L544.28,50.03 L544.58,50.13 L544.88,50.23 L545.19,50.33 L545.49,50.43 L545.79,50.53 L546.09,50.63 L546.40,50.73 L546.70,50.83 L547.00,50.93 L547.30,51.03 L547.61,51.13 L547.91,51.23 L548.21,51.32 L548.52,51.42 L548.82,51.52 L549.12,51.62 L549.42,51.71 L549.73,51.81 L550.03,51.90 L550.33,51.99 L550.63,52.09 L550.94,52.18 L551.24,52.27 L551.54,52.36 L551.85,52.45 L552.15,52.53 L552.45,52.62 L552.75,52.70 L553.06,52.78 L553.36,52.87 L553.66,52.95 L553.96,53.02 L554.27,53.10 L554.57,53.18 L554.87,53.25 L555.17,53.32 L555.48,53.39 L555.78,53.46 L556.08,53.52 L556.39,53.59 L556.69,53.65 L556.99,53.71 L557.29,53.76 L557.60,53.82 L557.90,53.87 L558.20,53.92 L558.50,53.97 L558.81,54.02 L559.11,54.06 L559.41,54.10 L559.72,54.14 L560.02,54.17 L560.32,54.21 L560.62,54.24 L560.93,54.27 L561.23,54.29 L561.53,54.31 L561.83,54.33 L562.14,54.35 L562.44,54.36 L562.74,54.37 L563.04,54.38 L563.35,54.39 L563.65,54.39"/>
<g stroke="#7a7a7a" stroke-width="1.6" fill="none"><line x1="184.56" x2="184.56" y1="505.35" y2="10.50"/><line x1="289.78" x2="289.78" y1="505.35" y2="10.50"/><line x1="394.99" x2="394.99" y1="505.35" y2="10.50"/><line x1="500.21" x2="500.21" y1="505.35" y2="10.50"/></g>
<g stroke="#707070" stroke-width="1.45" fill="none" stroke-dasharray="5.81 5.81"><line x1="200.43" x2="200.43" y1="505.35" y2="10.50"/><line x1="321.50" x2="321.50" y1="505.35" y2="10.50"/><line x1="442.58" x2="442.58" y1="505.35" y2="10.50"/><line x1="563.65" x2="563.65" y1="505.35" y2="10.50"/><line x1="563.65" x2="563.65" y1="505.35" y2="10.50"/></g>
</g>
<path d="M79.35,515.45 v-5.90 M79.35,10.50 v5.90 M103.56,515.45 v-3.60 M103.56,10.50 v3.60 M127.78,515.45 v-3.60 M127.78,10.50 v3.60 M152.00,515.45 v-3.60 M152.00,10.50 v3.60 M176.21,515.45 v-3.60 M176.21,10.50 v3.60 M200.43,515.45 v-5.90 M200.43,10.50 v5.90 M224.64,515.45 v-3.60 M224.64,10.50 v3.60 M248.85,515.45 v-3.60 M248.85,10.50 v3.60 M273.07,515.45 v-3.60 M273.07,10.50 v3.60 M297.28,515.45 v-3.60 M297.28,10.50 v3.60 M321.50,515.45 v-5.90 M321.50,10.50 v5.90 M345.72,515.45 v-3.60 M345.72,10.50 v3.60 M369.93,515.45 v-3.60 M369.93,10.50 v3.60 M394.14,515.45 v-3.60 M394.14,10.50 v3.60 M418.36,515.45 v-3.60 M418.36,10.50 v3.60 M442.58,515.45 v-5.90 M442.58,10.50 v5.90 M466.79,515.45 v-3.60 M466.79,10.50 v3.60 M491.00,515.45 v-3.60 M491.00,10.50 v3.60 M515.22,515.45 v-3.60 M515.22,10.50 v3.60 M539.43,515.45 v-3.60 M539.43,10.50 v3.60 M563.65,515.45 v-5.90 M563.65,10.50 v5.90 M69.20,505.35 h5.90 M573.50,505.35 h-5.90 M69.20,491.47 h3.60 M573.50,491.47 h-3.60 M69.20,477.58 h3.60 M573.50,477.58 h-3.60 M69.20,463.70 h3.60 M573.50,463.70 h-3.60 M69.20,449.81 h3.60 M573.50,449.81 h-3.60 M69.20,435.93 h5.90 M573.50,435.93 h-5.90 M69.20,422.05 h3.60 M573.50,422.05 h-3.60 M69.20,408.16 h3.60 M573.50,408.16 h-3.60 M69.20,394.28 h3.60 M573.50,394.28 h-3.60 M69.20,380.39 h3.60 M573.50,380.39 h-3.60 M69.20,366.51 h5.90 M573.50,366.51 h-5.90 M69.20,352.63 h3.60 M573.50,352.63 h-3.60 M69.20,338.74 h3.60 M573.50,338.74 h-3.60 M69.20,324.86 h3.60 M573.50,324.86 h-3.60 M69.20,310.97 h3.60 M573.50,310.97 h-3.60 M69.20,297.09 h5.90 M573.50,297.09 h-5.90 M69.20,283.21 h3.60 M573.50,283.21 h-3.60 M69.20,269.32 h3.60 M573.50,269.32 h-3.60 M69.20,255.44 h3.60 M573.50,255.44 h-3.60 M69.20,241.55 h3.60 M573.50,241.55 h-3.60 M69.20,227.67 h5.90 M573.50,227.67 h-5.90 M69.20,213.79 h3.60 M573.50,213.79 h-3.60 M69.20,199.90 h3.60 M573.50,199.90 h-3.60 M69.20,186.02 h3.60 M573.50,186.02 h-3.60 M69.20,172.13 h3.60 M573.50,172.13 h-3.60 M69.20,158.25 h5.90 M573.50,158.25 h-5.90 M69.20,144.37 h3.60 M573.50,144.37 h-3.60 M69.20,130.48 h3.60 M573.50,130.48 h-3.60 M69.20,116.60 h3.60 M573.50,116.60 h-3.60 M69.20,102.71 h3.60 M573.50,102.71 h-3.60 M69.20,88.83 h5.90 M573.50,88.83 h-5.90 M69.20,74.95 h3.60 M573.50,74.95 h-3.60 M69.20,61.06 h3.60 M573.50,61.06 h-3.60 M69.20,47.18 h3.60 M573.50,47.18 h-3.60 M69.20,33.29 h3.60 M573.50,33.29 h-3.60 M69.20,19.41 h5.90 M573.50,19.41 h-5.90" stroke="#7f7f7f" stroke-width="1" fill="none"/>
<rect x="69.2" y="10.5" width="504.3" height="504.95000000000005" fill="none" stroke="#7f7f7f" stroke-width="1"/>
<g><text x="79.05" y="551.7" text-anchor="middle">0</text><text x="200.12" y="551.7" text-anchor="middle">5</text><text x="321.20" y="551.7" text-anchor="middle">10</text><text x="442.28" y="551.7" text-anchor="middle">15</text><text x="563.35" y="551.7" text-anchor="middle">20</text><text x="64.4" y="517.45" text-anchor="end">0</text><text x="64.4" y="448.03" text-anchor="end">1</text><text x="64.4" y="378.61" text-anchor="end">2</text><text x="64.4" y="309.19" text-anchor="end">3</text><text x="64.4" y="239.77" text-anchor="end">4</text><text x="64.4" y="170.35" text-anchor="end">5</text><text x="64.4" y="100.93" text-anchor="end">6</text><text x="64.4" y="31.51" text-anchor="end">7</text></g>
<text x="278.5" y="597.4" style="font-style:italic">t</text><text x="297.9" y="597.9" style="font-size:31.3px">(</text><text x="308.2" y="597.4">sec</text><text x="353.65" y="597.9" style="font-size:31.3px">)</text>
<text transform="translate(31.50,355.60) rotate(-90)" style="font-size:33px">Δ</text><text transform="translate(31.50,333.40) rotate(-90)" style="font-size:35px;font-style:italic">x</text><text transform="translate(30.40,299.70) rotate(-90)" style="font-size:31.3px">(</text><text transform="translate(31.50,288.90) rotate(-90)" style="font-size:35px">10</text><text transform="translate(17.10,238.80) rotate(-90)" style="font-size:24.5px">14</text><text transform="translate(31.50,209.20) rotate(-90)" style="font-size:35px">m</text><text transform="translate(30.40,181.70) rotate(-90)" style="font-size:31.3px">)</text><rect x="10.4" y="241" width="1.7" height="11.9" fill="#6e6e6e"/>
</svg>
</body></html>
